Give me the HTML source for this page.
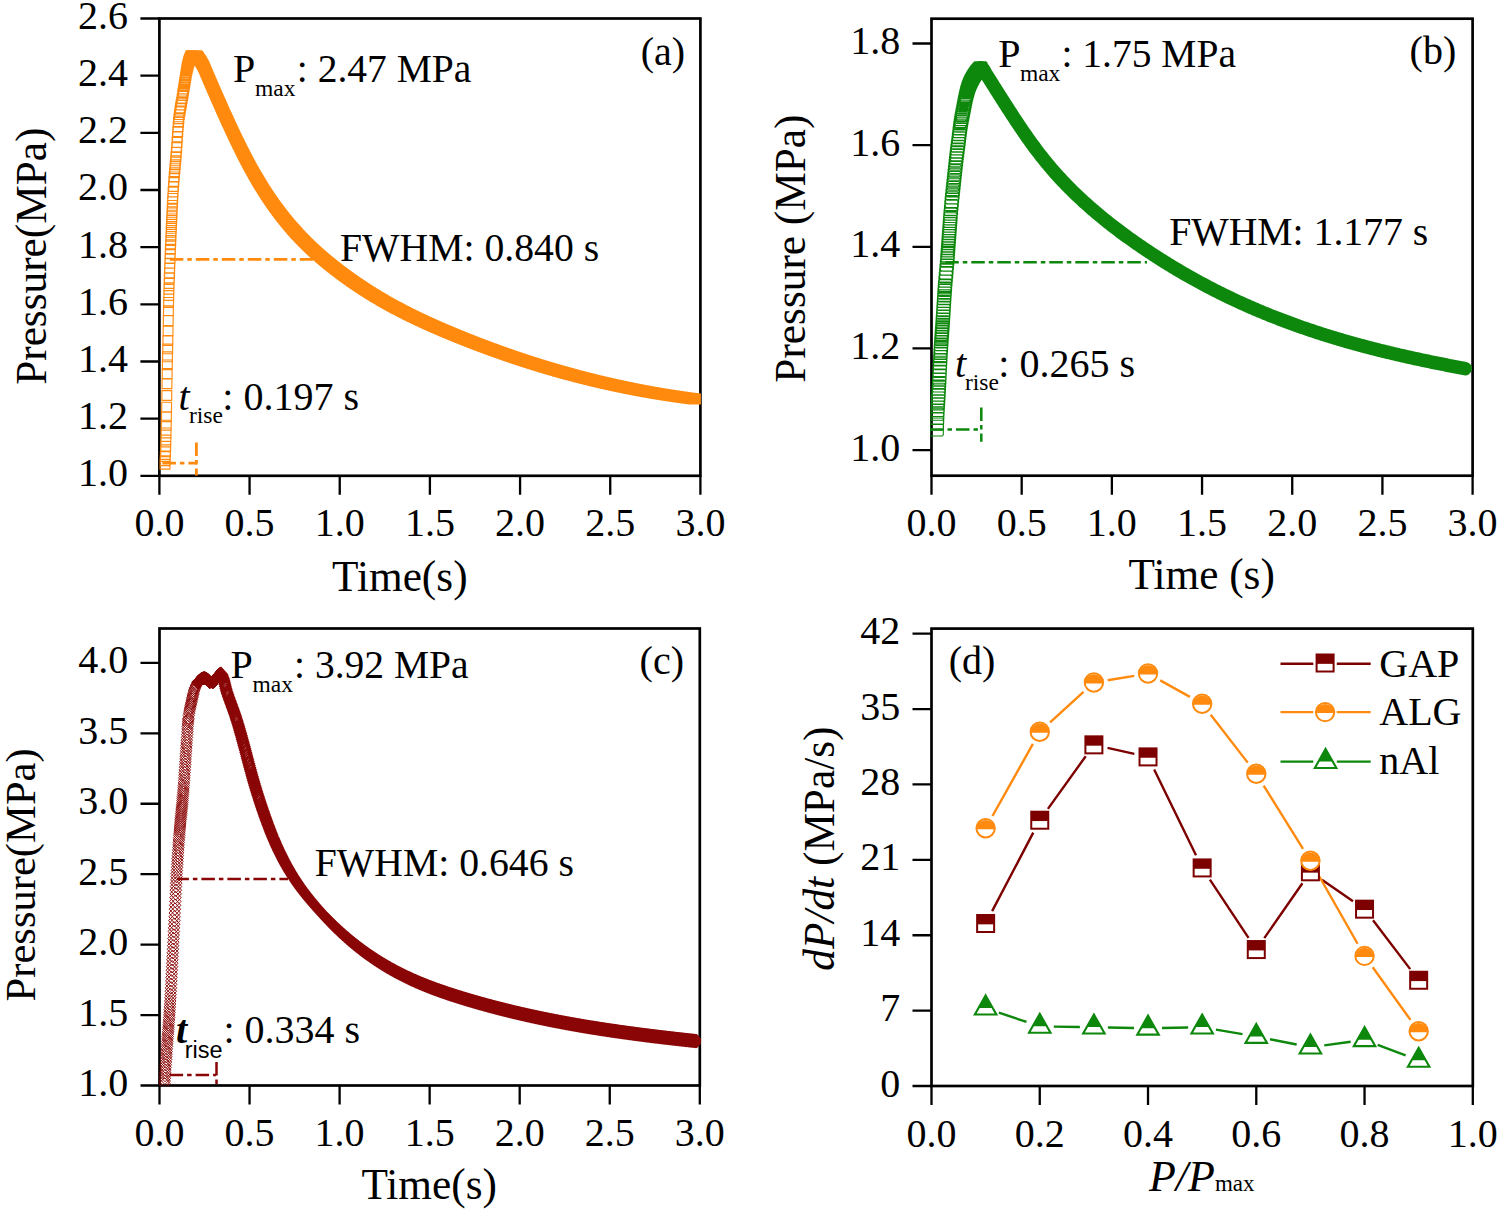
<!DOCTYPE html>
<html><head><meta charset="utf-8"><style>
html,body{margin:0;padding:0;background:#fff;}
svg{display:block;}
text{fill:#000;}
</style></head><body>
<svg width="1498" height="1210" viewBox="0 0 1498 1210" font-family='"Liberation Serif", serif'>
<rect width="1498" height="1210" fill="#fff"/>
<rect x="159.4" y="18.5" width="541" height="457.3" fill="none" stroke="#000" stroke-width="2.7"/>
<path d="M159.4 475.8v19M249.57 475.8v19M339.73 475.8v19M429.9 475.8v19M520.07 475.8v19M610.23 475.8v19M700.4 475.8v19M159.4 475.8h-19M159.4 418.64h-19M159.4 361.48h-19M159.4 304.31h-19M159.4 247.15h-19M159.4 189.99h-19M159.4 132.82h-19M159.4 75.66h-19M159.4 18.5h-19" stroke="#000" stroke-width="2.3" fill="none"/>
<text x="159.4" y="536.4" font-size="40" text-anchor="middle" >0.0</text>
<text x="249.57" y="536.4" font-size="40" text-anchor="middle" >0.5</text>
<text x="339.73" y="536.4" font-size="40" text-anchor="middle" >1.0</text>
<text x="429.9" y="536.4" font-size="40" text-anchor="middle" >1.5</text>
<text x="520.07" y="536.4" font-size="40" text-anchor="middle" >2.0</text>
<text x="610.23" y="536.4" font-size="40" text-anchor="middle" >2.5</text>
<text x="700.4" y="536.4" font-size="40" text-anchor="middle" >3.0</text>
<text x="128.1" y="486.3" font-size="40" text-anchor="end" >1.0</text>
<text x="128.1" y="429.14" font-size="40" text-anchor="end" >1.2</text>
<text x="128.1" y="371.98" font-size="40" text-anchor="end" >1.4</text>
<text x="128.1" y="314.81" font-size="40" text-anchor="end" >1.6</text>
<text x="128.1" y="257.65" font-size="40" text-anchor="end" >1.8</text>
<text x="128.1" y="200.49" font-size="40" text-anchor="end" >2.0</text>
<text x="128.1" y="143.32" font-size="40" text-anchor="end" >2.2</text>
<text x="128.1" y="86.16" font-size="40" text-anchor="end" >2.4</text>
<text x="128.1" y="29" font-size="40" text-anchor="end" >2.6</text>
<rect x="931.5" y="18.7" width="541.1" height="457" fill="none" stroke="#000" stroke-width="2.7"/>
<path d="M931.5 475.7v19M1021.68 475.7v19M1111.87 475.7v19M1202.05 475.7v19M1292.23 475.7v19M1382.42 475.7v19M1472.6 475.7v19M931.5 450.1h-19M931.5 348.45h-19M931.5 246.8h-19M931.5 145.15h-19M931.5 43.5h-19" stroke="#000" stroke-width="2.3" fill="none"/>
<text x="931.5" y="536.3" font-size="40" text-anchor="middle" >0.0</text>
<text x="1021.68" y="536.3" font-size="40" text-anchor="middle" >0.5</text>
<text x="1111.87" y="536.3" font-size="40" text-anchor="middle" >1.0</text>
<text x="1202.05" y="536.3" font-size="40" text-anchor="middle" >1.5</text>
<text x="1292.23" y="536.3" font-size="40" text-anchor="middle" >2.0</text>
<text x="1382.42" y="536.3" font-size="40" text-anchor="middle" >2.5</text>
<text x="1472.6" y="536.3" font-size="40" text-anchor="middle" >3.0</text>
<text x="900.2" y="460.6" font-size="40" text-anchor="end" >1.0</text>
<text x="900.2" y="358.95" font-size="40" text-anchor="end" >1.2</text>
<text x="900.2" y="257.3" font-size="40" text-anchor="end" >1.4</text>
<text x="900.2" y="155.65" font-size="40" text-anchor="end" >1.6</text>
<text x="900.2" y="54" font-size="40" text-anchor="end" >1.8</text>
<rect x="159.5" y="628.5" width="540.3" height="457" fill="none" stroke="#000" stroke-width="2.7"/>
<path d="M159.5 1085.5v19M249.55 1085.5v19M339.6 1085.5v19M429.65 1085.5v19M519.7 1085.5v19M609.75 1085.5v19M699.8 1085.5v19M159.5 1085.5h-19M159.5 1015.07h-19M159.5 944.63h-19M159.5 874.2h-19M159.5 803.77h-19M159.5 733.33h-19M159.5 662.9h-19" stroke="#000" stroke-width="2.3" fill="none"/>
<text x="159.5" y="1146.1" font-size="40" text-anchor="middle" >0.0</text>
<text x="249.55" y="1146.1" font-size="40" text-anchor="middle" >0.5</text>
<text x="339.6" y="1146.1" font-size="40" text-anchor="middle" >1.0</text>
<text x="429.65" y="1146.1" font-size="40" text-anchor="middle" >1.5</text>
<text x="519.7" y="1146.1" font-size="40" text-anchor="middle" >2.0</text>
<text x="609.75" y="1146.1" font-size="40" text-anchor="middle" >2.5</text>
<text x="699.8" y="1146.1" font-size="40" text-anchor="middle" >3.0</text>
<text x="128.2" y="1096" font-size="40" text-anchor="end" >1.0</text>
<text x="128.2" y="1025.57" font-size="40" text-anchor="end" >1.5</text>
<text x="128.2" y="955.13" font-size="40" text-anchor="end" >2.0</text>
<text x="128.2" y="884.7" font-size="40" text-anchor="end" >2.5</text>
<text x="128.2" y="814.27" font-size="40" text-anchor="end" >3.0</text>
<text x="128.2" y="743.83" font-size="40" text-anchor="end" >3.5</text>
<text x="128.2" y="673.4" font-size="40" text-anchor="end" >4.0</text>
<rect x="931.5" y="628.6" width="541.3" height="457.4" fill="none" stroke="#000" stroke-width="2.7"/>
<path d="M931.5 1086v19M1039.76 1086v19M1148.02 1086v19M1256.28 1086v19M1364.54 1086v19M1472.8 1086v19M931.5 1086h-19M931.5 1010.62h-19M931.5 935.23h-19M931.5 859.85h-19M931.5 784.47h-19M931.5 709.08h-19M931.5 633.7h-19" stroke="#000" stroke-width="2.3" fill="none"/>
<text x="931.5" y="1146.6" font-size="40" text-anchor="middle" >0.0</text>
<text x="1039.76" y="1146.6" font-size="40" text-anchor="middle" >0.2</text>
<text x="1148.02" y="1146.6" font-size="40" text-anchor="middle" >0.4</text>
<text x="1256.28" y="1146.6" font-size="40" text-anchor="middle" >0.6</text>
<text x="1364.54" y="1146.6" font-size="40" text-anchor="middle" >0.8</text>
<text x="1472.8" y="1146.6" font-size="40" text-anchor="middle" >1.0</text>
<text x="900.2" y="1096.5" font-size="40" text-anchor="end" >0</text>
<text x="900.2" y="1021.12" font-size="40" text-anchor="end" >7</text>
<text x="900.2" y="945.73" font-size="40" text-anchor="end" >14</text>
<text x="900.2" y="870.35" font-size="40" text-anchor="end" >21</text>
<text x="900.2" y="794.97" font-size="40" text-anchor="end" >28</text>
<text x="900.2" y="719.58" font-size="40" text-anchor="end" >35</text>
<text x="900.2" y="644.2" font-size="40" text-anchor="end" >42</text>
<defs>
<clipPath id="ca"><rect x="158.4" y="17.5" width="543" height="458.8"/></clipPath>
<clipPath id="cb"><rect x="930.5" y="17.7" width="543.1" height="458.5"/></clipPath>
<clipPath id="cc"><rect x="158.5" y="627.5" width="542.3" height="458.5"/></clipPath>
</defs>
<g clip-path="url(#ca)">
<path d="M160.1 459.3h9.8v9.8h-9.8zM160.28 455.84h9.8v9.8h-9.8zM160.46 451.65h9.8v9.8h-9.8zM160.64 446.83h9.8v9.8h-9.8zM160.82 441.39h9.8v9.8h-9.8zM161 435.1h9.8v9.8h-9.8zM161.18 428.04h9.8v9.8h-9.8zM161.36 420.26h9.8v9.8h-9.8zM161.54 411.84h9.8v9.8h-9.8zM161.72 402.27h9.8v9.8h-9.8zM161.9 390.65h9.8v9.8h-9.8zM162.08 378.81h9.8v9.8h-9.8zM162.26 368.67h9.8v9.8h-9.8zM162.44 359.98h9.8v9.8h-9.8zM162.62 351.94h9.8v9.8h-9.8zM162.8 343.99h9.8v9.8h-9.8zM162.98 335.59h9.8v9.8h-9.8zM163.16 326.08h9.8v9.8h-9.8zM163.34 315.78h9.8v9.8h-9.8zM163.52 305.87h9.8v9.8h-9.8zM163.7 297.5h9.8v9.8h-9.8zM163.88 290.62h9.8v9.8h-9.8zM164.06 284.34h9.8v9.8h-9.8zM164.24 278.54h9.8v9.8h-9.8zM164.42 273.14h9.8v9.8h-9.8zM164.6 268.04h9.8v9.8h-9.8zM164.78 263.13h9.8v9.8h-9.8zM164.96 258.33h9.8v9.8h-9.8zM165.14 253.53h9.8v9.8h-9.8zM165.32 248.84h9.8v9.8h-9.8zM165.5 244.3h9.8v9.8h-9.8zM165.68 239.9h9.8v9.8h-9.8zM165.86 235.63h9.8v9.8h-9.8zM166.04 231.47h9.8v9.8h-9.8zM166.22 227.41h9.8v9.8h-9.8zM166.4 223.43h9.8v9.8h-9.8zM166.58 219.53h9.8v9.8h-9.8zM166.76 215.66h9.8v9.8h-9.8zM166.94 211.79h9.8v9.8h-9.8zM167.12 207.96h9.8v9.8h-9.8zM167.3 204.18h9.8v9.8h-9.8zM167.48 200.49h9.8v9.8h-9.8zM167.66 196.91h9.8v9.8h-9.8zM167.84 193.46h9.8v9.8h-9.8zM168.2 187.08h9.8v9.8h-9.8zM168.56 181.53h9.8v9.8h-9.8zM168.92 176.56h9.8v9.8h-9.8zM169.28 172.03h9.8v9.8h-9.8zM169.64 167.81h9.8v9.8h-9.8zM170 163.79h9.8v9.8h-9.8zM170.36 159.86h9.8v9.8h-9.8zM170.72 155.9h9.8v9.8h-9.8zM171.08 151.81h9.8v9.8h-9.8zM171.44 147.46h9.8v9.8h-9.8zM171.8 142.67h9.8v9.8h-9.8zM172.16 137.44h9.8v9.8h-9.8zM172.52 132.02h9.8v9.8h-9.8zM172.88 126.68h9.8v9.8h-9.8zM173.24 121.7h9.8v9.8h-9.8zM173.6 117.35h9.8v9.8h-9.8zM173.96 113.89h9.8v9.8h-9.8zM174.5 109.72h9.8v9.8h-9.8zM175.04 106.19h9.8v9.8h-9.8zM175.58 103.08h9.8v9.8h-9.8zM176.12 100.16h9.8v9.8h-9.8zM176.66 97.2h9.8v9.8h-9.8zM177.2 93.98h9.8v9.8h-9.8zM177.74 90.64h9.8v9.8h-9.8zM178.1 88.41h9.8v9.8h-9.8zM178.46 86.18h9.8v9.8h-9.8zM178.82 83.96h9.8v9.8h-9.8zM179.18 81.72h9.8v9.8h-9.8zM179.54 79.48h9.8v9.8h-9.8zM179.9 77.25h9.8v9.8h-9.8zM180.26 75.05h9.8v9.8h-9.8zM180.62 72.87h9.8v9.8h-9.8zM180.98 70.64h9.8v9.8h-9.8zM181.34 68.39h9.8v9.8h-9.8zM181.7 66.23h9.8v9.8h-9.8zM181.88 65.22h9.8v9.8h-9.8zM182.06 64.26h9.8v9.8h-9.8zM182.24 63.38h9.8v9.8h-9.8zM182.42 62.56h9.8v9.8h-9.8zM182.6 61.77h9.8v9.8h-9.8zM182.78 61h9.8v9.8h-9.8zM182.96 60.25h9.8v9.8h-9.8zM183.14 59.53h9.8v9.8h-9.8zM183.32 58.84h9.8v9.8h-9.8zM183.5 58.18h9.8v9.8h-9.8zM183.68 57.55h9.8v9.8h-9.8zM183.86 56.95h9.8v9.8h-9.8zM184.04 56.4h9.8v9.8h-9.8zM184.22 55.88h9.8v9.8h-9.8zM184.4 55.4h9.8v9.8h-9.8zM184.58 54.94h9.8v9.8h-9.8zM184.76 54.46h9.8v9.8h-9.8zM184.94 53.98h9.8v9.8h-9.8zM185.12 53.51h9.8v9.8h-9.8zM185.3 53.05h9.8v9.8h-9.8zM185.48 52.62h9.8v9.8h-9.8zM185.66 52.21h9.8v9.8h-9.8zM185.84 51.84h9.8v9.8h-9.8zM186.02 51.51h9.8v9.8h-9.8zM186.2 51.23h9.8v9.8h-9.8zM186.38 51.02h9.8v9.8h-9.8zM186.56 50.87h9.8v9.8h-9.8zM186.74 50.8h9.8v9.8h-9.8zM186.92 50.8h9.8v9.8h-9.8z" fill="none" stroke="#ff8a0e" stroke-width="1.15"/>
<path d="M186.92 50.8h9.8v9.8h-9.8zM187.37 50.8h9.8v9.8h-9.8zM187.82 50.8h9.8v9.8h-9.8zM188.27 50.8h9.8v9.8h-9.8zM188.72 50.8h9.8v9.8h-9.8zM189.17 50.8h9.8v9.8h-9.8zM189.62 50.8h9.8v9.8h-9.8zM190.07 50.8h9.8v9.8h-9.8zM190.52 50.8h9.8v9.8h-9.8zM190.97 50.8h9.8v9.8h-9.8zM191.42 50.81h9.8v9.8h-9.8zM191.87 50.99h9.8v9.8h-9.8zM192.32 51.37h9.8v9.8h-9.8zM192.77 51.9h9.8v9.8h-9.8zM193.22 52.53h9.8v9.8h-9.8zM193.67 53.22h9.8v9.8h-9.8zM194.12 53.91h9.8v9.8h-9.8zM194.57 54.56h9.8v9.8h-9.8zM195.02 55.18h9.8v9.8h-9.8zM195.47 55.84h9.8v9.8h-9.8zM195.92 56.52h9.8v9.8h-9.8zM196.37 57.24h9.8v9.8h-9.8zM196.82 57.99h9.8v9.8h-9.8zM197.27 58.77h9.8v9.8h-9.8zM197.72 59.58h9.8v9.8h-9.8zM198.17 60.42h9.8v9.8h-9.8zM198.62 61.29h9.8v9.8h-9.8zM199.07 62.22h9.8v9.8h-9.8zM199.52 63.23h9.8v9.8h-9.8zM199.97 64.29h9.8v9.8h-9.8zM200.42 65.39h9.8v9.8h-9.8zM200.87 66.49h9.8v9.8h-9.8zM201.32 67.58h9.8v9.8h-9.8zM201.77 68.64h9.8v9.8h-9.8zM202.22 69.69h9.8v9.8h-9.8zM202.67 70.73h9.8v9.8h-9.8zM203.12 71.78h9.8v9.8h-9.8zM203.57 72.83h9.8v9.8h-9.8zM204.02 73.87h9.8v9.8h-9.8zM204.47 74.92h9.8v9.8h-9.8zM204.92 75.96h9.8v9.8h-9.8zM205.37 77h9.8v9.8h-9.8zM205.82 78.04h9.8v9.8h-9.8zM206.27 79.09h9.8v9.8h-9.8zM206.72 80.13h9.8v9.8h-9.8zM207.17 81.17h9.8v9.8h-9.8zM207.62 82.21h9.8v9.8h-9.8zM208.07 83.24h9.8v9.8h-9.8zM208.52 84.28h9.8v9.8h-9.8zM208.97 85.32h9.8v9.8h-9.8zM209.42 86.35h9.8v9.8h-9.8zM209.87 87.38h9.8v9.8h-9.8zM210.32 88.42h9.8v9.8h-9.8zM210.77 89.45h9.8v9.8h-9.8zM211.22 90.48h9.8v9.8h-9.8zM211.67 91.5h9.8v9.8h-9.8zM212.12 92.53h9.8v9.8h-9.8zM212.57 93.56h9.8v9.8h-9.8zM213.02 94.58h9.8v9.8h-9.8zM213.47 95.61h9.8v9.8h-9.8zM213.92 96.63h9.8v9.8h-9.8zM214.37 97.65h9.8v9.8h-9.8zM214.82 98.67h9.8v9.8h-9.8zM215.27 99.68h9.8v9.8h-9.8zM215.72 100.7h9.8v9.8h-9.8zM216.17 101.71h9.8v9.8h-9.8zM216.62 102.72h9.8v9.8h-9.8zM217.07 103.73h9.8v9.8h-9.8zM217.52 104.74h9.8v9.8h-9.8zM217.97 105.75h9.8v9.8h-9.8zM218.42 106.75h9.8v9.8h-9.8zM218.87 107.76h9.8v9.8h-9.8zM219.32 108.76h9.8v9.8h-9.8zM219.77 109.76h9.8v9.8h-9.8zM220.22 110.76h9.8v9.8h-9.8zM220.67 111.75h9.8v9.8h-9.8zM221.12 112.74h9.8v9.8h-9.8zM221.57 113.74h9.8v9.8h-9.8zM222.02 114.72h9.8v9.8h-9.8zM222.47 115.71h9.8v9.8h-9.8zM222.92 116.7h9.8v9.8h-9.8zM223.37 117.68h9.8v9.8h-9.8zM223.82 118.66h9.8v9.8h-9.8zM224.27 119.64h9.8v9.8h-9.8zM224.72 120.61h9.8v9.8h-9.8zM225.17 121.58h9.8v9.8h-9.8zM225.62 122.55h9.8v9.8h-9.8zM226.07 123.52h9.8v9.8h-9.8zM226.52 124.49h9.8v9.8h-9.8zM226.97 125.45h9.8v9.8h-9.8zM227.42 126.41h9.8v9.8h-9.8zM227.87 127.37h9.8v9.8h-9.8zM228.32 128.33h9.8v9.8h-9.8zM228.77 129.28h9.8v9.8h-9.8zM229.22 130.23h9.8v9.8h-9.8zM229.67 131.17h9.8v9.8h-9.8zM230.12 132.12h9.8v9.8h-9.8zM230.57 133.06h9.8v9.8h-9.8zM231.02 134h9.8v9.8h-9.8zM231.47 134.93h9.8v9.8h-9.8zM231.92 135.87h9.8v9.8h-9.8zM232.37 136.8h9.8v9.8h-9.8zM232.82 137.72h9.8v9.8h-9.8zM233.27 138.65h9.8v9.8h-9.8zM233.72 139.57h9.8v9.8h-9.8zM234.17 140.49h9.8v9.8h-9.8zM234.62 141.4h9.8v9.8h-9.8zM235.07 142.31h9.8v9.8h-9.8zM235.52 143.22h9.8v9.8h-9.8zM235.97 144.12h9.8v9.8h-9.8zM236.42 145.02h9.8v9.8h-9.8zM236.87 145.92h9.8v9.8h-9.8zM237.32 146.82h9.8v9.8h-9.8zM237.77 147.71h9.8v9.8h-9.8zM238.22 148.6h9.8v9.8h-9.8zM238.67 149.48h9.8v9.8h-9.8zM239.12 150.36h9.8v9.8h-9.8zM239.57 151.24h9.8v9.8h-9.8zM240.02 152.11h9.8v9.8h-9.8zM240.47 152.98h9.8v9.8h-9.8zM240.92 153.85h9.8v9.8h-9.8zM241.37 154.71h9.8v9.8h-9.8zM241.82 155.57h9.8v9.8h-9.8zM242.27 156.42h9.8v9.8h-9.8zM242.72 157.27h9.8v9.8h-9.8zM243.17 158.12h9.8v9.8h-9.8zM243.62 158.96h9.8v9.8h-9.8zM244.07 159.8h9.8v9.8h-9.8zM244.52 160.64h9.8v9.8h-9.8zM244.97 161.47h9.8v9.8h-9.8zM245.42 162.29h9.8v9.8h-9.8zM245.87 163.12h9.8v9.8h-9.8zM246.32 163.94h9.8v9.8h-9.8zM246.77 164.75h9.8v9.8h-9.8zM247.22 165.56h9.8v9.8h-9.8zM247.67 166.37h9.8v9.8h-9.8zM248.12 167.17h9.8v9.8h-9.8zM248.57 167.97h9.8v9.8h-9.8zM249.02 168.76h9.8v9.8h-9.8zM249.47 169.55h9.8v9.8h-9.8zM249.92 170.34h9.8v9.8h-9.8zM250.37 171.12h9.8v9.8h-9.8zM250.82 171.9h9.8v9.8h-9.8zM251.27 172.68h9.8v9.8h-9.8zM251.72 173.45h9.8v9.8h-9.8zM252.17 174.21h9.8v9.8h-9.8zM252.62 174.98h9.8v9.8h-9.8zM253.07 175.74h9.8v9.8h-9.8zM253.52 176.49h9.8v9.8h-9.8zM253.97 177.24h9.8v9.8h-9.8zM254.42 177.99h9.8v9.8h-9.8zM254.87 178.74h9.8v9.8h-9.8zM255.32 179.48h9.8v9.8h-9.8zM255.77 180.21h9.8v9.8h-9.8zM256.22 180.94h9.8v9.8h-9.8zM256.67 181.67h9.8v9.8h-9.8zM257.12 182.4h9.8v9.8h-9.8zM257.57 183.12h9.8v9.8h-9.8zM258.02 183.84h9.8v9.8h-9.8zM258.47 184.55h9.8v9.8h-9.8zM258.92 185.26h9.8v9.8h-9.8zM259.37 185.97h9.8v9.8h-9.8zM259.82 186.67h9.8v9.8h-9.8zM260.27 187.37h9.8v9.8h-9.8zM260.72 188.07h9.8v9.8h-9.8zM261.17 188.76h9.8v9.8h-9.8zM261.62 189.45h9.8v9.8h-9.8zM262.07 190.14h9.8v9.8h-9.8zM262.52 190.82h9.8v9.8h-9.8zM262.97 191.5h9.8v9.8h-9.8zM263.42 192.17h9.8v9.8h-9.8zM263.87 192.84h9.8v9.8h-9.8zM264.32 193.51h9.8v9.8h-9.8zM264.77 194.18h9.8v9.8h-9.8zM265.22 194.84h9.8v9.8h-9.8zM265.67 195.5h9.8v9.8h-9.8zM266.12 196.15h9.8v9.8h-9.8zM266.57 196.8h9.8v9.8h-9.8zM267.02 197.45h9.8v9.8h-9.8zM267.47 198.09h9.8v9.8h-9.8zM267.92 198.74h9.8v9.8h-9.8zM268.37 199.37h9.8v9.8h-9.8zM268.82 200.01h9.8v9.8h-9.8zM269.27 200.64h9.8v9.8h-9.8zM269.72 201.27h9.8v9.8h-9.8zM270.17 201.89h9.8v9.8h-9.8zM270.62 202.52h9.8v9.8h-9.8zM271.07 203.14h9.8v9.8h-9.8zM271.52 203.75h9.8v9.8h-9.8zM271.97 204.36h9.8v9.8h-9.8zM272.42 204.97h9.8v9.8h-9.8zM272.87 205.58h9.8v9.8h-9.8zM273.32 206.18h9.8v9.8h-9.8zM273.77 206.78h9.8v9.8h-9.8zM274.22 207.38h9.8v9.8h-9.8zM274.67 207.97h9.8v9.8h-9.8zM275.12 208.57h9.8v9.8h-9.8zM275.57 209.15h9.8v9.8h-9.8zM276.02 209.74h9.8v9.8h-9.8zM276.47 210.32h9.8v9.8h-9.8zM276.92 210.9h9.8v9.8h-9.8zM277.37 211.48h9.8v9.8h-9.8zM277.82 212.05h9.8v9.8h-9.8zM278.27 212.62h9.8v9.8h-9.8zM278.72 213.19h9.8v9.8h-9.8zM279.17 213.75h9.8v9.8h-9.8zM279.62 214.31h9.8v9.8h-9.8zM280.07 214.87h9.8v9.8h-9.8zM280.52 215.43h9.8v9.8h-9.8zM280.97 215.98h9.8v9.8h-9.8zM281.42 216.53h9.8v9.8h-9.8zM281.87 217.08h9.8v9.8h-9.8zM282.32 217.63h9.8v9.8h-9.8zM282.77 218.17h9.8v9.8h-9.8zM283.22 218.71h9.8v9.8h-9.8zM283.67 219.25h9.8v9.8h-9.8zM284.12 219.78h9.8v9.8h-9.8zM284.57 220.31h9.8v9.8h-9.8zM285.02 220.84h9.8v9.8h-9.8zM285.47 221.37h9.8v9.8h-9.8zM285.92 221.89h9.8v9.8h-9.8zM286.37 222.41h9.8v9.8h-9.8zM286.82 222.93h9.8v9.8h-9.8zM287.27 223.45h9.8v9.8h-9.8zM287.72 223.96h9.8v9.8h-9.8zM288.17 224.47h9.8v9.8h-9.8zM288.62 224.98h9.8v9.8h-9.8zM289.07 225.49h9.8v9.8h-9.8zM289.52 225.99h9.8v9.8h-9.8zM289.97 226.49h9.8v9.8h-9.8zM290.42 226.99h9.8v9.8h-9.8zM290.87 227.49h9.8v9.8h-9.8zM291.32 227.98h9.8v9.8h-9.8zM291.77 228.47h9.8v9.8h-9.8zM292.22 228.96h9.8v9.8h-9.8zM292.67 229.45h9.8v9.8h-9.8zM293.12 229.93h9.8v9.8h-9.8zM293.57 230.42h9.8v9.8h-9.8zM294.02 230.9h9.8v9.8h-9.8zM294.47 231.37h9.8v9.8h-9.8zM294.92 231.85h9.8v9.8h-9.8zM295.37 232.32h9.8v9.8h-9.8zM295.82 232.79h9.8v9.8h-9.8zM296.27 233.26h9.8v9.8h-9.8zM296.72 233.73h9.8v9.8h-9.8zM297.17 234.19h9.8v9.8h-9.8zM297.62 234.66h9.8v9.8h-9.8zM298.07 235.12h9.8v9.8h-9.8zM298.52 235.57h9.8v9.8h-9.8zM298.97 236.03h9.8v9.8h-9.8zM299.42 236.48h9.8v9.8h-9.8zM299.87 236.94h9.8v9.8h-9.8zM300.32 237.39h9.8v9.8h-9.8zM300.77 237.83h9.8v9.8h-9.8zM301.22 238.28h9.8v9.8h-9.8zM301.67 238.72h9.8v9.8h-9.8zM302.12 239.16h9.8v9.8h-9.8zM302.57 239.6h9.8v9.8h-9.8zM303.02 240.04h9.8v9.8h-9.8zM303.47 240.48h9.8v9.8h-9.8zM303.92 240.91h9.8v9.8h-9.8zM304.37 241.34h9.8v9.8h-9.8zM304.82 241.77h9.8v9.8h-9.8zM305.27 242.2h9.8v9.8h-9.8zM305.72 242.63h9.8v9.8h-9.8zM306.17 243.05h9.8v9.8h-9.8zM306.62 243.47h9.8v9.8h-9.8zM307.07 243.9h9.8v9.8h-9.8zM307.52 244.31h9.8v9.8h-9.8zM307.97 244.73h9.8v9.8h-9.8zM308.42 245.15h9.8v9.8h-9.8zM308.87 245.56h9.8v9.8h-9.8zM309.32 245.97h9.8v9.8h-9.8zM309.77 246.38h9.8v9.8h-9.8zM310.22 246.79h9.8v9.8h-9.8zM310.67 247.2h9.8v9.8h-9.8zM311.12 247.61h9.8v9.8h-9.8zM311.57 248.01h9.8v9.8h-9.8zM312.02 248.41h9.8v9.8h-9.8zM312.47 248.81h9.8v9.8h-9.8zM312.92 249.21h9.8v9.8h-9.8zM313.37 249.61h9.8v9.8h-9.8zM313.82 250.01h9.8v9.8h-9.8zM314.27 250.4h9.8v9.8h-9.8zM314.72 250.79h9.8v9.8h-9.8zM315.17 251.18h9.8v9.8h-9.8zM315.62 251.57h9.8v9.8h-9.8zM316.07 251.96h9.8v9.8h-9.8zM316.52 252.35h9.8v9.8h-9.8zM316.97 252.74h9.8v9.8h-9.8zM317.42 253.12h9.8v9.8h-9.8zM317.87 253.5h9.8v9.8h-9.8zM318.32 253.88h9.8v9.8h-9.8zM318.77 254.26h9.8v9.8h-9.8zM319.22 254.64h9.8v9.8h-9.8zM319.67 255.02h9.8v9.8h-9.8zM320.12 255.4h9.8v9.8h-9.8zM320.57 255.77h9.8v9.8h-9.8zM321.02 256.15h9.8v9.8h-9.8zM321.47 256.52h9.8v9.8h-9.8zM321.92 256.89h9.8v9.8h-9.8zM322.37 257.26h9.8v9.8h-9.8zM322.82 257.63h9.8v9.8h-9.8zM323.27 258h9.8v9.8h-9.8zM323.72 258.36h9.8v9.8h-9.8zM324.17 258.73h9.8v9.8h-9.8zM324.62 259.09h9.8v9.8h-9.8zM325.07 259.46h9.8v9.8h-9.8zM325.52 259.82h9.8v9.8h-9.8zM325.97 260.18h9.8v9.8h-9.8zM326.42 260.54h9.8v9.8h-9.8zM326.87 260.9h9.8v9.8h-9.8zM327.32 261.26h9.8v9.8h-9.8zM327.77 261.61h9.8v9.8h-9.8zM328.22 261.97h9.8v9.8h-9.8zM328.67 262.32h9.8v9.8h-9.8zM329.12 262.68h9.8v9.8h-9.8zM329.57 263.03h9.8v9.8h-9.8zM330.02 263.38h9.8v9.8h-9.8zM330.47 263.73h9.8v9.8h-9.8zM330.92 264.08h9.8v9.8h-9.8zM331.37 264.43h9.8v9.8h-9.8zM331.82 264.78h9.8v9.8h-9.8zM332.27 265.13h9.8v9.8h-9.8zM332.72 265.47h9.8v9.8h-9.8zM333.17 265.82h9.8v9.8h-9.8zM333.62 266.16h9.8v9.8h-9.8zM334.07 266.5h9.8v9.8h-9.8zM334.52 266.84h9.8v9.8h-9.8zM334.97 267.18h9.8v9.8h-9.8zM335.42 267.52h9.8v9.8h-9.8zM335.87 267.86h9.8v9.8h-9.8zM336.32 268.2h9.8v9.8h-9.8zM336.77 268.54h9.8v9.8h-9.8zM337.22 268.87h9.8v9.8h-9.8zM337.67 269.21h9.8v9.8h-9.8zM338.12 269.54h9.8v9.8h-9.8zM338.57 269.88h9.8v9.8h-9.8zM339.02 270.21h9.8v9.8h-9.8zM339.47 270.54h9.8v9.8h-9.8zM339.92 270.87h9.8v9.8h-9.8zM340.37 271.2h9.8v9.8h-9.8zM340.82 271.53h9.8v9.8h-9.8zM341.27 271.85h9.8v9.8h-9.8zM341.72 272.18h9.8v9.8h-9.8zM342.17 272.5h9.8v9.8h-9.8zM342.62 272.83h9.8v9.8h-9.8zM343.07 273.15h9.8v9.8h-9.8zM343.52 273.47h9.8v9.8h-9.8zM343.97 273.8h9.8v9.8h-9.8zM344.42 274.12h9.8v9.8h-9.8zM344.87 274.44h9.8v9.8h-9.8zM345.32 274.76h9.8v9.8h-9.8zM345.77 275.07h9.8v9.8h-9.8zM346.22 275.39h9.8v9.8h-9.8zM346.67 275.71h9.8v9.8h-9.8zM347.12 276.02h9.8v9.8h-9.8zM347.57 276.34h9.8v9.8h-9.8zM348.02 276.65h9.8v9.8h-9.8zM348.47 276.96h9.8v9.8h-9.8zM348.92 277.27h9.8v9.8h-9.8zM349.37 277.58h9.8v9.8h-9.8zM349.82 277.89h9.8v9.8h-9.8zM350.27 278.2h9.8v9.8h-9.8zM350.72 278.51h9.8v9.8h-9.8zM351.17 278.82h9.8v9.8h-9.8zM351.62 279.12h9.8v9.8h-9.8zM352.07 279.43h9.8v9.8h-9.8zM352.52 279.73h9.8v9.8h-9.8zM352.97 280.04h9.8v9.8h-9.8zM353.42 280.34h9.8v9.8h-9.8zM353.87 280.64h9.8v9.8h-9.8zM354.32 280.94h9.8v9.8h-9.8zM354.77 281.24h9.8v9.8h-9.8zM355.22 281.54h9.8v9.8h-9.8zM355.67 281.84h9.8v9.8h-9.8zM356.12 282.14h9.8v9.8h-9.8zM356.57 282.44h9.8v9.8h-9.8zM357.02 282.73h9.8v9.8h-9.8zM357.47 283.03h9.8v9.8h-9.8zM357.92 283.32h9.8v9.8h-9.8zM358.37 283.61h9.8v9.8h-9.8zM358.82 283.91h9.8v9.8h-9.8zM359.27 284.2h9.8v9.8h-9.8zM359.72 284.49h9.8v9.8h-9.8zM360.17 284.78h9.8v9.8h-9.8zM360.62 285.07h9.8v9.8h-9.8zM361.07 285.36h9.8v9.8h-9.8zM361.52 285.65h9.8v9.8h-9.8zM361.97 285.93h9.8v9.8h-9.8zM362.42 286.22h9.8v9.8h-9.8zM362.87 286.5h9.8v9.8h-9.8zM363.32 286.79h9.8v9.8h-9.8zM363.77 287.07h9.8v9.8h-9.8zM364.22 287.36h9.8v9.8h-9.8zM364.67 287.64h9.8v9.8h-9.8zM365.12 287.92h9.8v9.8h-9.8zM365.57 288.2h9.8v9.8h-9.8zM366.02 288.48h9.8v9.8h-9.8zM366.47 288.76h9.8v9.8h-9.8zM366.92 289.04h9.8v9.8h-9.8zM367.37 289.31h9.8v9.8h-9.8zM367.82 289.59h9.8v9.8h-9.8zM368.27 289.87h9.8v9.8h-9.8zM368.72 290.14h9.8v9.8h-9.8zM369.17 290.42h9.8v9.8h-9.8zM369.62 290.69h9.8v9.8h-9.8zM370.07 290.96h9.8v9.8h-9.8zM370.52 291.23h9.8v9.8h-9.8zM370.97 291.5h9.8v9.8h-9.8zM371.42 291.78h9.8v9.8h-9.8zM371.87 292.05h9.8v9.8h-9.8zM372.32 292.31h9.8v9.8h-9.8zM372.77 292.58h9.8v9.8h-9.8zM373.22 292.85h9.8v9.8h-9.8zM373.67 293.12h9.8v9.8h-9.8zM374.12 293.38h9.8v9.8h-9.8zM374.57 293.65h9.8v9.8h-9.8zM375.02 293.91h9.8v9.8h-9.8zM375.47 294.18h9.8v9.8h-9.8zM375.92 294.44h9.8v9.8h-9.8zM376.37 294.7h9.8v9.8h-9.8zM376.82 294.96h9.8v9.8h-9.8zM377.27 295.23h9.8v9.8h-9.8zM377.72 295.49h9.8v9.8h-9.8zM378.17 295.75h9.8v9.8h-9.8zM378.62 296h9.8v9.8h-9.8zM379.07 296.26h9.8v9.8h-9.8zM379.52 296.52h9.8v9.8h-9.8zM379.97 296.78h9.8v9.8h-9.8zM380.42 297.03h9.8v9.8h-9.8zM380.87 297.29h9.8v9.8h-9.8zM381.32 297.54h9.8v9.8h-9.8zM381.77 297.8h9.8v9.8h-9.8zM382.22 298.05h9.8v9.8h-9.8zM382.67 298.3h9.8v9.8h-9.8zM383.12 298.56h9.8v9.8h-9.8zM383.57 298.81h9.8v9.8h-9.8zM384.02 299.06h9.8v9.8h-9.8zM384.47 299.31h9.8v9.8h-9.8zM384.92 299.56h9.8v9.8h-9.8zM385.37 299.81h9.8v9.8h-9.8zM385.82 300.06h9.8v9.8h-9.8zM386.27 300.3h9.8v9.8h-9.8zM386.72 300.55h9.8v9.8h-9.8zM387.17 300.8h9.8v9.8h-9.8zM387.62 301.04h9.8v9.8h-9.8zM388.07 301.29h9.8v9.8h-9.8zM388.52 301.53h9.8v9.8h-9.8zM388.97 301.77h9.8v9.8h-9.8zM389.42 302.02h9.8v9.8h-9.8zM389.87 302.26h9.8v9.8h-9.8zM390.32 302.5h9.8v9.8h-9.8zM390.77 302.74h9.8v9.8h-9.8zM391.22 302.98h9.8v9.8h-9.8zM391.67 303.22h9.8v9.8h-9.8zM392.12 303.46h9.8v9.8h-9.8zM392.57 303.7h9.8v9.8h-9.8zM393.02 303.94h9.8v9.8h-9.8zM393.47 304.18h9.8v9.8h-9.8zM393.92 304.41h9.8v9.8h-9.8zM394.37 304.65h9.8v9.8h-9.8zM394.82 304.89h9.8v9.8h-9.8zM395.27 305.12h9.8v9.8h-9.8zM395.72 305.35h9.8v9.8h-9.8zM396.17 305.59h9.8v9.8h-9.8zM396.62 305.82h9.8v9.8h-9.8zM397.07 306.05h9.8v9.8h-9.8zM397.52 306.29h9.8v9.8h-9.8zM397.97 306.52h9.8v9.8h-9.8zM398.42 306.75h9.8v9.8h-9.8zM398.87 306.98h9.8v9.8h-9.8zM399.32 307.21h9.8v9.8h-9.8zM399.77 307.44h9.8v9.8h-9.8zM400.22 307.67h9.8v9.8h-9.8zM400.67 307.9h9.8v9.8h-9.8zM401.12 308.12h9.8v9.8h-9.8zM401.57 308.35h9.8v9.8h-9.8zM402.02 308.58h9.8v9.8h-9.8zM402.47 308.8h9.8v9.8h-9.8zM402.92 309.03h9.8v9.8h-9.8zM403.37 309.25h9.8v9.8h-9.8zM403.82 309.48h9.8v9.8h-9.8zM404.27 309.7h9.8v9.8h-9.8zM404.72 309.93h9.8v9.8h-9.8zM405.17 310.15h9.8v9.8h-9.8zM405.62 310.37h9.8v9.8h-9.8zM406.07 310.59h9.8v9.8h-9.8zM406.52 310.81h9.8v9.8h-9.8zM406.97 311.03h9.8v9.8h-9.8zM407.42 311.25h9.8v9.8h-9.8zM407.87 311.47h9.8v9.8h-9.8zM408.32 311.69h9.8v9.8h-9.8zM408.77 311.91h9.8v9.8h-9.8zM409.22 312.13h9.8v9.8h-9.8zM409.67 312.35h9.8v9.8h-9.8zM410.12 312.56h9.8v9.8h-9.8zM410.57 312.78h9.8v9.8h-9.8zM411.02 313h9.8v9.8h-9.8zM411.47 313.21h9.8v9.8h-9.8zM411.92 313.43h9.8v9.8h-9.8zM412.37 313.64h9.8v9.8h-9.8zM412.82 313.86h9.8v9.8h-9.8zM413.27 314.07h9.8v9.8h-9.8zM413.72 314.28h9.8v9.8h-9.8zM414.17 314.5h9.8v9.8h-9.8zM414.62 314.71h9.8v9.8h-9.8zM415.07 314.92h9.8v9.8h-9.8zM415.52 315.13h9.8v9.8h-9.8zM415.97 315.34h9.8v9.8h-9.8zM416.42 315.56h9.8v9.8h-9.8zM416.87 315.77h9.8v9.8h-9.8zM417.32 315.97h9.8v9.8h-9.8zM417.77 316.18h9.8v9.8h-9.8zM418.22 316.39h9.8v9.8h-9.8zM418.67 316.6h9.8v9.8h-9.8zM419.12 316.81h9.8v9.8h-9.8zM419.57 317.02h9.8v9.8h-9.8zM420.02 317.22h9.8v9.8h-9.8zM420.47 317.43h9.8v9.8h-9.8zM420.92 317.64h9.8v9.8h-9.8zM421.37 317.84h9.8v9.8h-9.8zM421.82 318.05h9.8v9.8h-9.8zM422.27 318.25h9.8v9.8h-9.8zM422.72 318.46h9.8v9.8h-9.8zM423.17 318.66h9.8v9.8h-9.8zM423.62 318.86h9.8v9.8h-9.8zM424.07 319.07h9.8v9.8h-9.8zM424.52 319.27h9.8v9.8h-9.8zM424.97 319.47h9.8v9.8h-9.8zM425.42 319.68h9.8v9.8h-9.8zM425.87 319.88h9.8v9.8h-9.8zM426.32 320.08h9.8v9.8h-9.8zM426.77 320.28h9.8v9.8h-9.8zM427.22 320.48h9.8v9.8h-9.8zM427.67 320.68h9.8v9.8h-9.8zM428.12 320.88h9.8v9.8h-9.8zM428.57 321.08h9.8v9.8h-9.8zM429.02 321.28h9.8v9.8h-9.8zM429.47 321.48h9.8v9.8h-9.8zM429.92 321.67h9.8v9.8h-9.8zM430.37 321.87h9.8v9.8h-9.8zM430.82 322.07h9.8v9.8h-9.8zM431.27 322.27h9.8v9.8h-9.8zM431.72 322.46h9.8v9.8h-9.8zM432.17 322.66h9.8v9.8h-9.8zM432.62 322.86h9.8v9.8h-9.8zM433.07 323.05h9.8v9.8h-9.8zM433.52 323.25h9.8v9.8h-9.8zM433.97 323.44h9.8v9.8h-9.8zM434.42 323.64h9.8v9.8h-9.8zM434.87 323.83h9.8v9.8h-9.8zM435.32 324.03h9.8v9.8h-9.8zM435.77 324.22h9.8v9.8h-9.8zM436.22 324.41h9.8v9.8h-9.8zM436.67 324.61h9.8v9.8h-9.8zM437.12 324.8h9.8v9.8h-9.8zM437.57 324.99h9.8v9.8h-9.8zM438.02 325.18h9.8v9.8h-9.8zM438.47 325.38h9.8v9.8h-9.8zM438.92 325.57h9.8v9.8h-9.8zM439.37 325.76h9.8v9.8h-9.8zM439.82 325.95h9.8v9.8h-9.8zM440.27 326.14h9.8v9.8h-9.8zM440.72 326.33h9.8v9.8h-9.8zM441.17 326.52h9.8v9.8h-9.8zM441.62 326.71h9.8v9.8h-9.8zM442.07 326.9h9.8v9.8h-9.8zM442.52 327.09h9.8v9.8h-9.8zM442.97 327.28h9.8v9.8h-9.8zM443.42 327.47h9.8v9.8h-9.8zM443.87 327.66h9.8v9.8h-9.8zM444.32 327.84h9.8v9.8h-9.8zM444.77 328.03h9.8v9.8h-9.8zM445.22 328.22h9.8v9.8h-9.8zM445.67 328.41h9.8v9.8h-9.8zM446.12 328.59h9.8v9.8h-9.8zM446.57 328.78h9.8v9.8h-9.8zM447.02 328.97h9.8v9.8h-9.8zM447.47 329.15h9.8v9.8h-9.8zM447.92 329.34h9.8v9.8h-9.8zM448.37 329.53h9.8v9.8h-9.8zM448.82 329.71h9.8v9.8h-9.8zM449.27 329.9h9.8v9.8h-9.8zM449.72 330.08h9.8v9.8h-9.8zM450.17 330.27h9.8v9.8h-9.8zM450.62 330.45h9.8v9.8h-9.8zM451.07 330.64h9.8v9.8h-9.8zM451.52 330.82h9.8v9.8h-9.8zM451.97 331h9.8v9.8h-9.8zM452.42 331.19h9.8v9.8h-9.8zM452.87 331.37h9.8v9.8h-9.8zM453.32 331.55h9.8v9.8h-9.8zM453.77 331.74h9.8v9.8h-9.8zM454.22 331.92h9.8v9.8h-9.8zM454.67 332.1h9.8v9.8h-9.8zM455.12 332.28h9.8v9.8h-9.8zM455.57 332.46h9.8v9.8h-9.8zM456.02 332.65h9.8v9.8h-9.8zM456.47 332.83h9.8v9.8h-9.8zM456.92 333.01h9.8v9.8h-9.8zM457.37 333.19h9.8v9.8h-9.8zM457.82 333.37h9.8v9.8h-9.8zM458.27 333.55h9.8v9.8h-9.8zM458.72 333.73h9.8v9.8h-9.8zM459.17 333.91h9.8v9.8h-9.8zM459.62 334.09h9.8v9.8h-9.8zM460.07 334.27h9.8v9.8h-9.8zM460.52 334.45h9.8v9.8h-9.8zM460.97 334.63h9.8v9.8h-9.8zM461.42 334.81h9.8v9.8h-9.8zM461.87 334.98h9.8v9.8h-9.8zM462.32 335.16h9.8v9.8h-9.8zM462.77 335.34h9.8v9.8h-9.8zM463.22 335.52h9.8v9.8h-9.8zM463.67 335.69h9.8v9.8h-9.8zM464.12 335.87h9.8v9.8h-9.8zM464.57 336.05h9.8v9.8h-9.8zM465.02 336.22h9.8v9.8h-9.8zM465.47 336.4h9.8v9.8h-9.8zM465.92 336.58h9.8v9.8h-9.8zM466.37 336.75h9.8v9.8h-9.8zM466.82 336.93h9.8v9.8h-9.8zM467.27 337.1h9.8v9.8h-9.8zM467.72 337.28h9.8v9.8h-9.8zM468.17 337.45h9.8v9.8h-9.8zM468.62 337.63h9.8v9.8h-9.8zM469.07 337.8h9.8v9.8h-9.8zM469.52 337.98h9.8v9.8h-9.8zM469.97 338.15h9.8v9.8h-9.8zM470.42 338.32h9.8v9.8h-9.8zM470.87 338.5h9.8v9.8h-9.8zM471.32 338.67h9.8v9.8h-9.8zM471.77 338.84h9.8v9.8h-9.8zM472.22 339.02h9.8v9.8h-9.8zM472.67 339.19h9.8v9.8h-9.8zM473.12 339.36h9.8v9.8h-9.8zM473.57 339.53h9.8v9.8h-9.8zM474.02 339.7h9.8v9.8h-9.8zM474.47 339.88h9.8v9.8h-9.8zM474.92 340.05h9.8v9.8h-9.8zM475.37 340.22h9.8v9.8h-9.8zM475.82 340.39h9.8v9.8h-9.8zM476.27 340.56h9.8v9.8h-9.8zM476.72 340.73h9.8v9.8h-9.8zM477.17 340.9h9.8v9.8h-9.8zM477.62 341.07h9.8v9.8h-9.8zM478.07 341.24h9.8v9.8h-9.8zM478.52 341.41h9.8v9.8h-9.8zM478.97 341.58h9.8v9.8h-9.8zM479.42 341.74h9.8v9.8h-9.8zM479.87 341.91h9.8v9.8h-9.8zM480.32 342.08h9.8v9.8h-9.8zM480.77 342.25h9.8v9.8h-9.8zM481.22 342.42h9.8v9.8h-9.8zM481.67 342.58h9.8v9.8h-9.8zM482.12 342.75h9.8v9.8h-9.8zM482.57 342.92h9.8v9.8h-9.8zM483.02 343.08h9.8v9.8h-9.8zM483.47 343.25h9.8v9.8h-9.8zM483.92 343.42h9.8v9.8h-9.8zM484.37 343.58h9.8v9.8h-9.8zM484.82 343.75h9.8v9.8h-9.8zM485.27 343.91h9.8v9.8h-9.8zM485.72 344.08h9.8v9.8h-9.8zM486.17 344.24h9.8v9.8h-9.8zM486.62 344.41h9.8v9.8h-9.8zM487.07 344.57h9.8v9.8h-9.8zM487.52 344.74h9.8v9.8h-9.8zM487.97 344.9h9.8v9.8h-9.8zM488.42 345.06h9.8v9.8h-9.8zM488.87 345.23h9.8v9.8h-9.8zM489.32 345.39h9.8v9.8h-9.8zM489.77 345.55h9.8v9.8h-9.8zM490.22 345.72h9.8v9.8h-9.8zM490.67 345.88h9.8v9.8h-9.8zM491.12 346.04h9.8v9.8h-9.8zM491.57 346.2h9.8v9.8h-9.8zM492.02 346.36h9.8v9.8h-9.8zM492.47 346.53h9.8v9.8h-9.8zM492.92 346.69h9.8v9.8h-9.8zM493.37 346.85h9.8v9.8h-9.8zM493.82 347.01h9.8v9.8h-9.8zM494.27 347.17h9.8v9.8h-9.8zM494.72 347.33h9.8v9.8h-9.8zM495.17 347.49h9.8v9.8h-9.8zM495.62 347.65h9.8v9.8h-9.8zM496.07 347.81h9.8v9.8h-9.8zM496.52 347.97h9.8v9.8h-9.8zM496.97 348.13h9.8v9.8h-9.8zM497.42 348.29h9.8v9.8h-9.8zM497.87 348.44h9.8v9.8h-9.8zM498.32 348.6h9.8v9.8h-9.8zM498.77 348.76h9.8v9.8h-9.8zM499.22 348.92h9.8v9.8h-9.8zM499.67 349.08h9.8v9.8h-9.8zM500.12 349.23h9.8v9.8h-9.8zM500.57 349.39h9.8v9.8h-9.8zM501.02 349.55h9.8v9.8h-9.8zM501.47 349.7h9.8v9.8h-9.8zM501.92 349.86h9.8v9.8h-9.8zM502.37 350.02h9.8v9.8h-9.8zM502.82 350.17h9.8v9.8h-9.8zM503.27 350.33h9.8v9.8h-9.8zM503.72 350.48h9.8v9.8h-9.8zM504.17 350.64h9.8v9.8h-9.8zM504.62 350.79h9.8v9.8h-9.8zM505.07 350.95h9.8v9.8h-9.8zM505.52 351.1h9.8v9.8h-9.8zM505.97 351.26h9.8v9.8h-9.8zM506.42 351.41h9.8v9.8h-9.8zM506.87 351.56h9.8v9.8h-9.8zM507.32 351.72h9.8v9.8h-9.8zM507.77 351.87h9.8v9.8h-9.8zM508.22 352.02h9.8v9.8h-9.8zM508.67 352.17h9.8v9.8h-9.8zM509.12 352.33h9.8v9.8h-9.8zM509.57 352.48h9.8v9.8h-9.8zM510.02 352.63h9.8v9.8h-9.8zM510.47 352.78h9.8v9.8h-9.8zM510.92 352.93h9.8v9.8h-9.8zM511.37 353.09h9.8v9.8h-9.8zM511.82 353.24h9.8v9.8h-9.8zM512.27 353.39h9.8v9.8h-9.8zM512.72 353.54h9.8v9.8h-9.8zM513.17 353.69h9.8v9.8h-9.8zM513.62 353.84h9.8v9.8h-9.8zM514.07 353.99h9.8v9.8h-9.8zM514.52 354.14h9.8v9.8h-9.8zM514.97 354.29h9.8v9.8h-9.8zM515.42 354.43h9.8v9.8h-9.8zM515.87 354.58h9.8v9.8h-9.8zM516.32 354.73h9.8v9.8h-9.8zM516.77 354.88h9.8v9.8h-9.8zM517.22 355.03h9.8v9.8h-9.8zM517.67 355.18h9.8v9.8h-9.8zM518.12 355.32h9.8v9.8h-9.8zM518.57 355.47h9.8v9.8h-9.8zM519.02 355.62h9.8v9.8h-9.8zM519.47 355.76h9.8v9.8h-9.8zM519.92 355.91h9.8v9.8h-9.8zM520.37 356.06h9.8v9.8h-9.8zM520.82 356.2h9.8v9.8h-9.8zM521.27 356.35h9.8v9.8h-9.8zM521.72 356.49h9.8v9.8h-9.8zM522.17 356.64h9.8v9.8h-9.8zM522.62 356.78h9.8v9.8h-9.8zM523.07 356.93h9.8v9.8h-9.8zM523.52 357.07h9.8v9.8h-9.8zM523.97 357.22h9.8v9.8h-9.8zM524.42 357.36h9.8v9.8h-9.8zM524.87 357.51h9.8v9.8h-9.8zM525.32 357.65h9.8v9.8h-9.8zM525.77 357.79h9.8v9.8h-9.8zM526.22 357.94h9.8v9.8h-9.8zM526.67 358.08h9.8v9.8h-9.8zM527.12 358.22h9.8v9.8h-9.8zM527.57 358.36h9.8v9.8h-9.8zM528.02 358.51h9.8v9.8h-9.8zM528.47 358.65h9.8v9.8h-9.8zM528.92 358.79h9.8v9.8h-9.8zM529.37 358.93h9.8v9.8h-9.8zM529.82 359.07h9.8v9.8h-9.8zM530.27 359.21h9.8v9.8h-9.8zM530.72 359.35h9.8v9.8h-9.8zM531.17 359.49h9.8v9.8h-9.8zM531.62 359.63h9.8v9.8h-9.8zM532.07 359.77h9.8v9.8h-9.8zM532.52 359.91h9.8v9.8h-9.8zM532.97 360.05h9.8v9.8h-9.8zM533.42 360.19h9.8v9.8h-9.8zM533.87 360.33h9.8v9.8h-9.8zM534.32 360.47h9.8v9.8h-9.8zM534.77 360.61h9.8v9.8h-9.8zM535.22 360.75h9.8v9.8h-9.8zM535.67 360.88h9.8v9.8h-9.8zM536.12 361.02h9.8v9.8h-9.8zM536.57 361.16h9.8v9.8h-9.8zM537.02 361.3h9.8v9.8h-9.8zM537.47 361.43h9.8v9.8h-9.8zM537.92 361.57h9.8v9.8h-9.8zM538.37 361.71h9.8v9.8h-9.8zM538.82 361.84h9.8v9.8h-9.8zM539.27 361.98h9.8v9.8h-9.8zM539.72 362.11h9.8v9.8h-9.8zM540.17 362.25h9.8v9.8h-9.8zM540.62 362.38h9.8v9.8h-9.8zM541.07 362.52h9.8v9.8h-9.8zM541.52 362.65h9.8v9.8h-9.8zM541.97 362.79h9.8v9.8h-9.8zM542.42 362.92h9.8v9.8h-9.8zM542.87 363.06h9.8v9.8h-9.8zM543.32 363.19h9.8v9.8h-9.8zM543.77 363.32h9.8v9.8h-9.8zM544.22 363.46h9.8v9.8h-9.8zM544.67 363.59h9.8v9.8h-9.8zM545.12 363.72h9.8v9.8h-9.8zM545.57 363.86h9.8v9.8h-9.8zM546.02 363.99h9.8v9.8h-9.8zM546.47 364.12h9.8v9.8h-9.8zM546.92 364.25h9.8v9.8h-9.8zM547.37 364.38h9.8v9.8h-9.8zM547.82 364.52h9.8v9.8h-9.8zM548.27 364.65h9.8v9.8h-9.8zM548.72 364.78h9.8v9.8h-9.8zM549.17 364.91h9.8v9.8h-9.8zM549.62 365.04h9.8v9.8h-9.8zM550.07 365.17h9.8v9.8h-9.8zM550.52 365.3h9.8v9.8h-9.8zM550.97 365.43h9.8v9.8h-9.8zM551.42 365.56h9.8v9.8h-9.8zM551.87 365.69h9.8v9.8h-9.8zM552.32 365.82h9.8v9.8h-9.8zM552.77 365.95h9.8v9.8h-9.8zM553.22 366.07h9.8v9.8h-9.8zM553.67 366.2h9.8v9.8h-9.8zM554.12 366.33h9.8v9.8h-9.8zM554.57 366.46h9.8v9.8h-9.8zM555.02 366.59h9.8v9.8h-9.8zM555.47 366.71h9.8v9.8h-9.8zM555.92 366.84h9.8v9.8h-9.8zM556.37 366.97h9.8v9.8h-9.8zM556.82 367.09h9.8v9.8h-9.8zM557.27 367.22h9.8v9.8h-9.8zM557.72 367.35h9.8v9.8h-9.8zM558.17 367.47h9.8v9.8h-9.8zM558.62 367.6h9.8v9.8h-9.8zM559.07 367.72h9.8v9.8h-9.8zM559.52 367.85h9.8v9.8h-9.8zM559.97 367.97h9.8v9.8h-9.8zM560.42 368.1h9.8v9.8h-9.8zM560.87 368.22h9.8v9.8h-9.8zM561.32 368.34h9.8v9.8h-9.8zM561.77 368.47h9.8v9.8h-9.8zM562.22 368.59h9.8v9.8h-9.8zM562.67 368.72h9.8v9.8h-9.8zM563.12 368.84h9.8v9.8h-9.8zM563.57 368.96h9.8v9.8h-9.8zM564.02 369.08h9.8v9.8h-9.8zM564.47 369.21h9.8v9.8h-9.8zM564.92 369.33h9.8v9.8h-9.8zM565.37 369.45h9.8v9.8h-9.8zM565.82 369.57h9.8v9.8h-9.8zM566.27 369.69h9.8v9.8h-9.8zM566.72 369.82h9.8v9.8h-9.8zM567.17 369.94h9.8v9.8h-9.8zM567.62 370.06h9.8v9.8h-9.8zM568.07 370.18h9.8v9.8h-9.8zM568.52 370.3h9.8v9.8h-9.8zM568.97 370.42h9.8v9.8h-9.8zM569.42 370.54h9.8v9.8h-9.8zM569.87 370.66h9.8v9.8h-9.8zM570.32 370.78h9.8v9.8h-9.8zM570.77 370.9h9.8v9.8h-9.8zM571.22 371.01h9.8v9.8h-9.8zM571.67 371.13h9.8v9.8h-9.8zM572.12 371.25h9.8v9.8h-9.8zM572.57 371.37h9.8v9.8h-9.8zM573.02 371.49h9.8v9.8h-9.8zM573.47 371.61h9.8v9.8h-9.8zM573.92 371.72h9.8v9.8h-9.8zM574.37 371.84h9.8v9.8h-9.8zM574.82 371.96h9.8v9.8h-9.8zM575.27 372.07h9.8v9.8h-9.8zM575.72 372.19h9.8v9.8h-9.8zM576.17 372.31h9.8v9.8h-9.8zM576.62 372.42h9.8v9.8h-9.8zM577.07 372.54h9.8v9.8h-9.8zM577.52 372.65h9.8v9.8h-9.8zM577.97 372.77h9.8v9.8h-9.8zM578.42 372.88h9.8v9.8h-9.8zM578.87 373h9.8v9.8h-9.8zM579.32 373.11h9.8v9.8h-9.8zM579.77 373.23h9.8v9.8h-9.8zM580.22 373.34h9.8v9.8h-9.8zM580.67 373.45h9.8v9.8h-9.8zM581.12 373.57h9.8v9.8h-9.8zM581.57 373.68h9.8v9.8h-9.8zM582.02 373.79h9.8v9.8h-9.8zM582.47 373.91h9.8v9.8h-9.8zM582.92 374.02h9.8v9.8h-9.8zM583.37 374.13h9.8v9.8h-9.8zM583.82 374.24h9.8v9.8h-9.8zM584.27 374.36h9.8v9.8h-9.8zM584.72 374.47h9.8v9.8h-9.8zM585.17 374.58h9.8v9.8h-9.8zM585.62 374.69h9.8v9.8h-9.8zM586.07 374.8h9.8v9.8h-9.8zM586.52 374.91h9.8v9.8h-9.8zM586.97 375.02h9.8v9.8h-9.8zM587.42 375.13h9.8v9.8h-9.8zM587.87 375.24h9.8v9.8h-9.8zM588.32 375.35h9.8v9.8h-9.8zM588.77 375.46h9.8v9.8h-9.8zM589.22 375.57h9.8v9.8h-9.8zM589.67 375.68h9.8v9.8h-9.8zM590.12 375.79h9.8v9.8h-9.8zM590.57 375.9h9.8v9.8h-9.8zM591.02 376.01h9.8v9.8h-9.8zM591.47 376.11h9.8v9.8h-9.8zM591.92 376.22h9.8v9.8h-9.8zM592.37 376.33h9.8v9.8h-9.8zM592.82 376.44h9.8v9.8h-9.8zM593.27 376.54h9.8v9.8h-9.8zM593.72 376.65h9.8v9.8h-9.8zM594.17 376.76h9.8v9.8h-9.8zM594.62 376.86h9.8v9.8h-9.8zM595.07 376.97h9.8v9.8h-9.8zM595.52 377.08h9.8v9.8h-9.8zM595.97 377.18h9.8v9.8h-9.8zM596.42 377.29h9.8v9.8h-9.8zM596.87 377.39h9.8v9.8h-9.8zM597.32 377.5h9.8v9.8h-9.8zM597.77 377.6h9.8v9.8h-9.8zM598.22 377.71h9.8v9.8h-9.8zM598.67 377.81h9.8v9.8h-9.8zM599.12 377.91h9.8v9.8h-9.8zM599.57 378.02h9.8v9.8h-9.8zM600.02 378.12h9.8v9.8h-9.8zM600.47 378.22h9.8v9.8h-9.8zM600.92 378.33h9.8v9.8h-9.8zM601.37 378.43h9.8v9.8h-9.8zM601.82 378.53h9.8v9.8h-9.8zM602.27 378.64h9.8v9.8h-9.8zM602.72 378.74h9.8v9.8h-9.8zM603.17 378.84h9.8v9.8h-9.8zM603.62 378.94h9.8v9.8h-9.8zM604.07 379.04h9.8v9.8h-9.8zM604.52 379.14h9.8v9.8h-9.8zM604.97 379.24h9.8v9.8h-9.8zM605.42 379.35h9.8v9.8h-9.8zM605.87 379.45h9.8v9.8h-9.8zM606.32 379.55h9.8v9.8h-9.8zM606.77 379.65h9.8v9.8h-9.8zM607.22 379.75h9.8v9.8h-9.8zM607.67 379.84h9.8v9.8h-9.8zM608.12 379.94h9.8v9.8h-9.8zM608.57 380.04h9.8v9.8h-9.8zM609.02 380.14h9.8v9.8h-9.8zM609.47 380.24h9.8v9.8h-9.8zM609.92 380.34h9.8v9.8h-9.8zM610.37 380.44h9.8v9.8h-9.8zM610.82 380.53h9.8v9.8h-9.8zM611.27 380.63h9.8v9.8h-9.8zM611.72 380.73h9.8v9.8h-9.8zM612.17 380.83h9.8v9.8h-9.8zM612.62 380.92h9.8v9.8h-9.8zM613.07 381.02h9.8v9.8h-9.8zM613.52 381.12h9.8v9.8h-9.8zM613.97 381.21h9.8v9.8h-9.8zM614.42 381.31h9.8v9.8h-9.8zM614.87 381.4h9.8v9.8h-9.8zM615.32 381.5h9.8v9.8h-9.8zM615.77 381.59h9.8v9.8h-9.8zM616.22 381.69h9.8v9.8h-9.8zM616.67 381.78h9.8v9.8h-9.8zM617.12 381.88h9.8v9.8h-9.8zM617.57 381.97h9.8v9.8h-9.8zM618.02 382.07h9.8v9.8h-9.8zM618.47 382.16h9.8v9.8h-9.8zM618.92 382.25h9.8v9.8h-9.8zM619.37 382.35h9.8v9.8h-9.8zM619.82 382.44h9.8v9.8h-9.8zM620.27 382.53h9.8v9.8h-9.8zM620.72 382.63h9.8v9.8h-9.8zM621.17 382.72h9.8v9.8h-9.8zM621.62 382.81h9.8v9.8h-9.8zM622.07 382.9h9.8v9.8h-9.8zM622.52 382.99h9.8v9.8h-9.8zM622.97 383.09h9.8v9.8h-9.8zM623.42 383.18h9.8v9.8h-9.8zM623.87 383.27h9.8v9.8h-9.8zM624.32 383.36h9.8v9.8h-9.8zM624.77 383.45h9.8v9.8h-9.8zM625.22 383.54h9.8v9.8h-9.8zM625.67 383.63h9.8v9.8h-9.8zM626.12 383.72h9.8v9.8h-9.8zM626.57 383.81h9.8v9.8h-9.8zM627.02 383.9h9.8v9.8h-9.8zM627.47 383.99h9.8v9.8h-9.8zM627.92 384.08h9.8v9.8h-9.8zM628.37 384.16h9.8v9.8h-9.8zM628.82 384.25h9.8v9.8h-9.8zM629.27 384.34h9.8v9.8h-9.8zM629.72 384.43h9.8v9.8h-9.8zM630.17 384.52h9.8v9.8h-9.8zM630.62 384.6h9.8v9.8h-9.8zM631.07 384.69h9.8v9.8h-9.8zM631.52 384.78h9.8v9.8h-9.8zM631.97 384.86h9.8v9.8h-9.8zM632.42 384.95h9.8v9.8h-9.8zM632.87 385.04h9.8v9.8h-9.8zM633.32 385.12h9.8v9.8h-9.8zM633.77 385.21h9.8v9.8h-9.8zM634.22 385.29h9.8v9.8h-9.8zM634.67 385.38h9.8v9.8h-9.8zM635.12 385.46h9.8v9.8h-9.8zM635.57 385.55h9.8v9.8h-9.8zM636.02 385.63h9.8v9.8h-9.8zM636.47 385.72h9.8v9.8h-9.8zM636.92 385.8h9.8v9.8h-9.8zM637.37 385.89h9.8v9.8h-9.8zM637.82 385.97h9.8v9.8h-9.8zM638.27 386.05h9.8v9.8h-9.8zM638.72 386.14h9.8v9.8h-9.8zM639.17 386.22h9.8v9.8h-9.8zM639.62 386.3h9.8v9.8h-9.8zM640.07 386.38h9.8v9.8h-9.8zM640.52 386.47h9.8v9.8h-9.8zM640.97 386.55h9.8v9.8h-9.8zM641.42 386.63h9.8v9.8h-9.8zM641.87 386.71h9.8v9.8h-9.8zM642.32 386.79h9.8v9.8h-9.8zM642.77 386.87h9.8v9.8h-9.8zM643.22 386.95h9.8v9.8h-9.8zM643.67 387.04h9.8v9.8h-9.8zM644.12 387.12h9.8v9.8h-9.8zM644.57 387.2h9.8v9.8h-9.8zM645.02 387.28h9.8v9.8h-9.8zM645.47 387.36h9.8v9.8h-9.8zM645.92 387.43h9.8v9.8h-9.8zM646.37 387.51h9.8v9.8h-9.8zM646.82 387.59h9.8v9.8h-9.8zM647.27 387.67h9.8v9.8h-9.8zM647.72 387.75h9.8v9.8h-9.8zM648.17 387.83h9.8v9.8h-9.8zM648.62 387.91h9.8v9.8h-9.8zM649.07 387.98h9.8v9.8h-9.8zM649.52 388.06h9.8v9.8h-9.8zM649.97 388.14h9.8v9.8h-9.8zM650.42 388.22h9.8v9.8h-9.8zM650.87 388.29h9.8v9.8h-9.8zM651.32 388.37h9.8v9.8h-9.8zM651.77 388.45h9.8v9.8h-9.8zM652.22 388.52h9.8v9.8h-9.8zM652.67 388.6h9.8v9.8h-9.8zM653.12 388.67h9.8v9.8h-9.8zM653.57 388.75h9.8v9.8h-9.8zM654.02 388.82h9.8v9.8h-9.8zM654.47 388.9h9.8v9.8h-9.8zM654.92 388.97h9.8v9.8h-9.8zM655.37 389.05h9.8v9.8h-9.8zM655.82 389.12h9.8v9.8h-9.8zM656.27 389.2h9.8v9.8h-9.8zM656.72 389.27h9.8v9.8h-9.8zM657.17 389.34h9.8v9.8h-9.8zM657.62 389.42h9.8v9.8h-9.8zM658.07 389.49h9.8v9.8h-9.8zM658.52 389.56h9.8v9.8h-9.8zM658.97 389.64h9.8v9.8h-9.8zM659.42 389.71h9.8v9.8h-9.8zM659.87 389.78h9.8v9.8h-9.8zM660.32 389.85h9.8v9.8h-9.8zM660.77 389.92h9.8v9.8h-9.8zM661.22 390h9.8v9.8h-9.8zM661.67 390.07h9.8v9.8h-9.8zM662.12 390.14h9.8v9.8h-9.8zM662.57 390.21h9.8v9.8h-9.8zM663.02 390.28h9.8v9.8h-9.8zM663.47 390.35h9.8v9.8h-9.8zM663.92 390.42h9.8v9.8h-9.8zM664.37 390.49h9.8v9.8h-9.8zM664.82 390.56h9.8v9.8h-9.8zM665.27 390.63h9.8v9.8h-9.8zM665.72 390.7h9.8v9.8h-9.8zM666.17 390.77h9.8v9.8h-9.8zM666.62 390.83h9.8v9.8h-9.8zM667.07 390.9h9.8v9.8h-9.8zM667.52 390.97h9.8v9.8h-9.8zM667.97 391.04h9.8v9.8h-9.8zM668.42 391.11h9.8v9.8h-9.8zM668.87 391.17h9.8v9.8h-9.8zM669.32 391.24h9.8v9.8h-9.8zM669.77 391.31h9.8v9.8h-9.8zM670.22 391.38h9.8v9.8h-9.8zM670.67 391.44h9.8v9.8h-9.8zM671.12 391.51h9.8v9.8h-9.8zM671.57 391.57h9.8v9.8h-9.8zM672.02 391.64h9.8v9.8h-9.8zM672.47 391.71h9.8v9.8h-9.8zM672.92 391.77h9.8v9.8h-9.8zM673.37 391.84h9.8v9.8h-9.8zM673.82 391.9h9.8v9.8h-9.8zM674.27 391.97h9.8v9.8h-9.8zM674.72 392.03h9.8v9.8h-9.8zM675.17 392.09h9.8v9.8h-9.8zM675.62 392.16h9.8v9.8h-9.8zM676.07 392.22h9.8v9.8h-9.8zM676.52 392.29h9.8v9.8h-9.8zM676.97 392.35h9.8v9.8h-9.8zM677.42 392.41h9.8v9.8h-9.8zM677.87 392.47h9.8v9.8h-9.8zM678.32 392.54h9.8v9.8h-9.8zM678.77 392.6h9.8v9.8h-9.8zM679.22 392.66h9.8v9.8h-9.8zM679.67 392.72h9.8v9.8h-9.8zM680.12 392.79h9.8v9.8h-9.8zM680.57 392.85h9.8v9.8h-9.8zM681.02 392.91h9.8v9.8h-9.8zM681.47 392.97h9.8v9.8h-9.8zM681.92 393.03h9.8v9.8h-9.8zM682.37 393.09h9.8v9.8h-9.8zM682.82 393.15h9.8v9.8h-9.8zM683.27 393.21h9.8v9.8h-9.8zM683.72 393.27h9.8v9.8h-9.8zM684.17 393.33h9.8v9.8h-9.8zM684.62 393.39h9.8v9.8h-9.8zM685.07 393.45h9.8v9.8h-9.8zM685.52 393.51h9.8v9.8h-9.8zM685.97 393.57h9.8v9.8h-9.8zM686.42 393.62h9.8v9.8h-9.8zM686.87 393.68h9.8v9.8h-9.8zM687.32 393.74h9.8v9.8h-9.8zM687.77 393.8h9.8v9.8h-9.8zM688.22 393.86h9.8v9.8h-9.8zM688.67 393.91h9.8v9.8h-9.8zM689.12 393.97h9.8v9.8h-9.8zM689.57 394.03h9.8v9.8h-9.8zM690.02 394.08h9.8v9.8h-9.8zM690.47 394.14h9.8v9.8h-9.8z" fill="none" stroke="#ff8a0e" stroke-width="1.25"/>
</g>
<g clip-path="url(#cb)">
<path d="M930.3 425.17l1.17 -1.17h10.66l1.17 1.17v9.66l-1.17 1.17h-10.66l-1.17 -1.17zM930.48 419.1l1.17 -1.17h10.66l1.17 1.17v9.66l-1.17 1.17h-10.66l-1.17 -1.17zM930.66 413.68l1.17 -1.17h10.66l1.17 1.17v9.66l-1.17 1.17h-10.66l-1.17 -1.17zM930.84 409.43l1.17 -1.17h10.66l1.17 1.17v9.66l-1.17 1.17h-10.66l-1.17 -1.17zM931.02 405.64l1.17 -1.17h10.66l1.17 1.17v9.66l-1.17 1.17h-10.66l-1.17 -1.17zM931.2 402.2l1.17 -1.17h10.66l1.17 1.17v9.66l-1.17 1.17h-10.66l-1.17 -1.17zM931.38 399.03l1.17 -1.17h10.66l1.17 1.17v9.66l-1.17 1.17h-10.66l-1.17 -1.17zM931.56 396.05l1.17 -1.17h10.66l1.17 1.17v9.66l-1.17 1.17h-10.66l-1.17 -1.17zM931.74 393.19l1.17 -1.17h10.66l1.17 1.17v9.66l-1.17 1.17h-10.66l-1.17 -1.17zM931.92 390.35l1.17 -1.17h10.66l1.17 1.17v9.66l-1.17 1.17h-10.66l-1.17 -1.17zM932.1 387.46l1.17 -1.17h10.66l1.17 1.17v9.66l-1.17 1.17h-10.66l-1.17 -1.17zM932.28 384.44l1.17 -1.17h10.66l1.17 1.17v9.66l-1.17 1.17h-10.66l-1.17 -1.17zM932.46 381.22l1.17 -1.17h10.66l1.17 1.17v9.66l-1.17 1.17h-10.66l-1.17 -1.17zM932.64 377.75l1.17 -1.17h10.66l1.17 1.17v9.66l-1.17 1.17h-10.66l-1.17 -1.17zM932.82 374.1l1.17 -1.17h10.66l1.17 1.17v9.66l-1.17 1.17h-10.66l-1.17 -1.17zM933 370.33l1.17 -1.17h10.66l1.17 1.17v9.66l-1.17 1.17h-10.66l-1.17 -1.17zM933.18 366.5l1.17 -1.17h10.66l1.17 1.17v9.66l-1.17 1.17h-10.66l-1.17 -1.17zM933.36 362.67l1.17 -1.17h10.66l1.17 1.17v9.66l-1.17 1.17h-10.66l-1.17 -1.17zM933.54 358.9l1.17 -1.17h10.66l1.17 1.17v9.66l-1.17 1.17h-10.66l-1.17 -1.17zM933.72 355.24l1.17 -1.17h10.66l1.17 1.17v9.66l-1.17 1.17h-10.66l-1.17 -1.17zM933.9 351.76l1.17 -1.17h10.66l1.17 1.17v9.66l-1.17 1.17h-10.66l-1.17 -1.17zM934.08 348.51l1.17 -1.17h10.66l1.17 1.17v9.66l-1.17 1.17h-10.66l-1.17 -1.17zM934.26 345.49l1.17 -1.17h10.66l1.17 1.17v9.66l-1.17 1.17h-10.66l-1.17 -1.17zM934.44 342.61l1.17 -1.17h10.66l1.17 1.17v9.66l-1.17 1.17h-10.66l-1.17 -1.17zM934.62 339.85l1.17 -1.17h10.66l1.17 1.17v9.66l-1.17 1.17h-10.66l-1.17 -1.17zM934.8 337.19l1.17 -1.17h10.66l1.17 1.17v9.66l-1.17 1.17h-10.66l-1.17 -1.17zM934.98 334.61l1.17 -1.17h10.66l1.17 1.17v9.66l-1.17 1.17h-10.66l-1.17 -1.17zM935.16 332.08l1.17 -1.17h10.66l1.17 1.17v9.66l-1.17 1.17h-10.66l-1.17 -1.17zM935.34 329.58l1.17 -1.17h10.66l1.17 1.17v9.66l-1.17 1.17h-10.66l-1.17 -1.17zM935.52 327.1l1.17 -1.17h10.66l1.17 1.17v9.66l-1.17 1.17h-10.66l-1.17 -1.17zM935.7 324.61l1.17 -1.17h10.66l1.17 1.17v9.66l-1.17 1.17h-10.66l-1.17 -1.17zM935.88 322.09l1.17 -1.17h10.66l1.17 1.17v9.66l-1.17 1.17h-10.66l-1.17 -1.17zM936.06 319.52l1.17 -1.17h10.66l1.17 1.17v9.66l-1.17 1.17h-10.66l-1.17 -1.17zM936.24 316.87l1.17 -1.17h10.66l1.17 1.17v9.66l-1.17 1.17h-10.66l-1.17 -1.17zM936.42 314.14l1.17 -1.17h10.66l1.17 1.17v9.66l-1.17 1.17h-10.66l-1.17 -1.17zM936.6 311.31l1.17 -1.17h10.66l1.17 1.17v9.66l-1.17 1.17h-10.66l-1.17 -1.17zM936.78 308.43l1.17 -1.17h10.66l1.17 1.17v9.66l-1.17 1.17h-10.66l-1.17 -1.17zM936.96 305.5l1.17 -1.17h10.66l1.17 1.17v9.66l-1.17 1.17h-10.66l-1.17 -1.17zM937.14 302.56l1.17 -1.17h10.66l1.17 1.17v9.66l-1.17 1.17h-10.66l-1.17 -1.17zM937.32 299.61l1.17 -1.17h10.66l1.17 1.17v9.66l-1.17 1.17h-10.66l-1.17 -1.17zM937.5 296.69l1.17 -1.17h10.66l1.17 1.17v9.66l-1.17 1.17h-10.66l-1.17 -1.17zM937.68 293.81l1.17 -1.17h10.66l1.17 1.17v9.66l-1.17 1.17h-10.66l-1.17 -1.17zM937.86 291l1.17 -1.17h10.66l1.17 1.17v9.66l-1.17 1.17h-10.66l-1.17 -1.17zM938.04 288.27l1.17 -1.17h10.66l1.17 1.17v9.66l-1.17 1.17h-10.66l-1.17 -1.17zM938.22 285.66l1.17 -1.17h10.66l1.17 1.17v9.66l-1.17 1.17h-10.66l-1.17 -1.17zM938.4 283.17l1.17 -1.17h10.66l1.17 1.17v9.66l-1.17 1.17h-10.66l-1.17 -1.17zM938.58 280.82l1.17 -1.17h10.66l1.17 1.17v9.66l-1.17 1.17h-10.66l-1.17 -1.17zM938.94 276.41l1.17 -1.17h10.66l1.17 1.17v9.66l-1.17 1.17h-10.66l-1.17 -1.17zM939.3 272.29l1.17 -1.17h10.66l1.17 1.17v9.66l-1.17 1.17h-10.66l-1.17 -1.17zM939.66 268.3l1.17 -1.17h10.66l1.17 1.17v9.66l-1.17 1.17h-10.66l-1.17 -1.17zM940.02 264.32l1.17 -1.17h10.66l1.17 1.17v9.66l-1.17 1.17h-10.66l-1.17 -1.17zM940.38 260.18l1.17 -1.17h10.66l1.17 1.17v9.66l-1.17 1.17h-10.66l-1.17 -1.17zM940.74 255.76l1.17 -1.17h10.66l1.17 1.17v9.66l-1.17 1.17h-10.66l-1.17 -1.17zM940.92 253.41l1.17 -1.17h10.66l1.17 1.17v9.66l-1.17 1.17h-10.66l-1.17 -1.17zM941.1 250.99l1.17 -1.17h10.66l1.17 1.17v9.66l-1.17 1.17h-10.66l-1.17 -1.17zM941.28 248.51l1.17 -1.17h10.66l1.17 1.17v9.66l-1.17 1.17h-10.66l-1.17 -1.17zM941.46 246l1.17 -1.17h10.66l1.17 1.17v9.66l-1.17 1.17h-10.66l-1.17 -1.17zM941.64 243.45l1.17 -1.17h10.66l1.17 1.17v9.66l-1.17 1.17h-10.66l-1.17 -1.17zM941.82 240.9l1.17 -1.17h10.66l1.17 1.17v9.66l-1.17 1.17h-10.66l-1.17 -1.17zM942 238.36l1.17 -1.17h10.66l1.17 1.17v9.66l-1.17 1.17h-10.66l-1.17 -1.17zM942.18 235.84l1.17 -1.17h10.66l1.17 1.17v9.66l-1.17 1.17h-10.66l-1.17 -1.17zM942.36 233.36l1.17 -1.17h10.66l1.17 1.17v9.66l-1.17 1.17h-10.66l-1.17 -1.17zM942.54 230.94l1.17 -1.17h10.66l1.17 1.17v9.66l-1.17 1.17h-10.66l-1.17 -1.17zM942.72 228.52l1.17 -1.17h10.66l1.17 1.17v9.66l-1.17 1.17h-10.66l-1.17 -1.17zM942.9 226.08l1.17 -1.17h10.66l1.17 1.17v9.66l-1.17 1.17h-10.66l-1.17 -1.17zM943.08 223.64l1.17 -1.17h10.66l1.17 1.17v9.66l-1.17 1.17h-10.66l-1.17 -1.17zM943.26 221.2l1.17 -1.17h10.66l1.17 1.17v9.66l-1.17 1.17h-10.66l-1.17 -1.17zM943.44 218.78l1.17 -1.17h10.66l1.17 1.17v9.66l-1.17 1.17h-10.66l-1.17 -1.17zM943.62 216.37l1.17 -1.17h10.66l1.17 1.17v9.66l-1.17 1.17h-10.66l-1.17 -1.17zM943.8 213.98l1.17 -1.17h10.66l1.17 1.17v9.66l-1.17 1.17h-10.66l-1.17 -1.17zM943.98 211.63l1.17 -1.17h10.66l1.17 1.17v9.66l-1.17 1.17h-10.66l-1.17 -1.17zM944.16 209.33l1.17 -1.17h10.66l1.17 1.17v9.66l-1.17 1.17h-10.66l-1.17 -1.17zM944.52 204.87l1.17 -1.17h10.66l1.17 1.17v9.66l-1.17 1.17h-10.66l-1.17 -1.17zM944.88 200.69l1.17 -1.17h10.66l1.17 1.17v9.66l-1.17 1.17h-10.66l-1.17 -1.17zM945.24 196.78l1.17 -1.17h10.66l1.17 1.17v9.66l-1.17 1.17h-10.66l-1.17 -1.17zM945.6 193.05l1.17 -1.17h10.66l1.17 1.17v9.66l-1.17 1.17h-10.66l-1.17 -1.17zM945.96 189.47l1.17 -1.17h10.66l1.17 1.17v9.66l-1.17 1.17h-10.66l-1.17 -1.17zM946.32 186.02l1.17 -1.17h10.66l1.17 1.17v9.66l-1.17 1.17h-10.66l-1.17 -1.17zM946.68 182.65l1.17 -1.17h10.66l1.17 1.17v9.66l-1.17 1.17h-10.66l-1.17 -1.17zM947.04 179.33l1.17 -1.17h10.66l1.17 1.17v9.66l-1.17 1.17h-10.66l-1.17 -1.17zM947.4 176.04l1.17 -1.17h10.66l1.17 1.17v9.66l-1.17 1.17h-10.66l-1.17 -1.17zM947.76 172.73l1.17 -1.17h10.66l1.17 1.17v9.66l-1.17 1.17h-10.66l-1.17 -1.17zM948.12 169.38l1.17 -1.17h10.66l1.17 1.17v9.66l-1.17 1.17h-10.66l-1.17 -1.17zM948.48 165.99l1.17 -1.17h10.66l1.17 1.17v9.66l-1.17 1.17h-10.66l-1.17 -1.17zM948.84 162.61l1.17 -1.17h10.66l1.17 1.17v9.66l-1.17 1.17h-10.66l-1.17 -1.17zM949.2 159.28l1.17 -1.17h10.66l1.17 1.17v9.66l-1.17 1.17h-10.66l-1.17 -1.17zM949.56 156.03l1.17 -1.17h10.66l1.17 1.17v9.66l-1.17 1.17h-10.66l-1.17 -1.17zM949.92 152.9l1.17 -1.17h10.66l1.17 1.17v9.66l-1.17 1.17h-10.66l-1.17 -1.17zM950.28 149.91l1.17 -1.17h10.66l1.17 1.17v9.66l-1.17 1.17h-10.66l-1.17 -1.17zM950.64 147.03l1.17 -1.17h10.66l1.17 1.17v9.66l-1.17 1.17h-10.66l-1.17 -1.17zM951 144.22l1.17 -1.17h10.66l1.17 1.17v9.66l-1.17 1.17h-10.66l-1.17 -1.17zM951.36 141.44l1.17 -1.17h10.66l1.17 1.17v9.66l-1.17 1.17h-10.66l-1.17 -1.17zM951.72 138.66l1.17 -1.17h10.66l1.17 1.17v9.66l-1.17 1.17h-10.66l-1.17 -1.17zM952.08 135.84l1.17 -1.17h10.66l1.17 1.17v9.66l-1.17 1.17h-10.66l-1.17 -1.17zM952.44 132.91l1.17 -1.17h10.66l1.17 1.17v9.66l-1.17 1.17h-10.66l-1.17 -1.17zM952.8 129.93l1.17 -1.17h10.66l1.17 1.17v9.66l-1.17 1.17h-10.66l-1.17 -1.17zM953.16 126.97l1.17 -1.17h10.66l1.17 1.17v9.66l-1.17 1.17h-10.66l-1.17 -1.17zM953.52 124.12l1.17 -1.17h10.66l1.17 1.17v9.66l-1.17 1.17h-10.66l-1.17 -1.17zM953.88 121.47l1.17 -1.17h10.66l1.17 1.17v9.66l-1.17 1.17h-10.66l-1.17 -1.17zM954.24 119.07l1.17 -1.17h10.66l1.17 1.17v9.66l-1.17 1.17h-10.66l-1.17 -1.17zM954.6 116.84l1.17 -1.17h10.66l1.17 1.17v9.66l-1.17 1.17h-10.66l-1.17 -1.17zM954.96 114.73l1.17 -1.17h10.66l1.17 1.17v9.66l-1.17 1.17h-10.66l-1.17 -1.17zM955.32 112.72l1.17 -1.17h10.66l1.17 1.17v9.66l-1.17 1.17h-10.66l-1.17 -1.17zM955.68 110.78l1.17 -1.17h10.66l1.17 1.17v9.66l-1.17 1.17h-10.66l-1.17 -1.17zM956.04 108.9l1.17 -1.17h10.66l1.17 1.17v9.66l-1.17 1.17h-10.66l-1.17 -1.17zM956.4 107.06l1.17 -1.17h10.66l1.17 1.17v9.66l-1.17 1.17h-10.66l-1.17 -1.17zM956.76 105.22l1.17 -1.17h10.66l1.17 1.17v9.66l-1.17 1.17h-10.66l-1.17 -1.17zM957.12 103.37l1.17 -1.17h10.66l1.17 1.17v9.66l-1.17 1.17h-10.66l-1.17 -1.17zM957.48 101.49l1.17 -1.17h10.66l1.17 1.17v9.66l-1.17 1.17h-10.66l-1.17 -1.17zM957.84 99.62l1.17 -1.17h10.66l1.17 1.17v9.66l-1.17 1.17h-10.66l-1.17 -1.17zM958.2 97.76l1.17 -1.17h10.66l1.17 1.17v9.66l-1.17 1.17h-10.66l-1.17 -1.17zM958.56 95.94l1.17 -1.17h10.66l1.17 1.17v9.66l-1.17 1.17h-10.66l-1.17 -1.17zM958.92 94.16l1.17 -1.17h10.66l1.17 1.17v9.66l-1.17 1.17h-10.66l-1.17 -1.17zM959.28 92.47l1.17 -1.17h10.66l1.17 1.17v9.66l-1.17 1.17h-10.66l-1.17 -1.17zM959.64 90.86l1.17 -1.17h10.66l1.17 1.17v9.66l-1.17 1.17h-10.66l-1.17 -1.17zM960 89.36l1.17 -1.17h10.66l1.17 1.17v9.66l-1.17 1.17h-10.66l-1.17 -1.17zM960.36 87.94l1.17 -1.17h10.66l1.17 1.17v9.66l-1.17 1.17h-10.66l-1.17 -1.17zM960.72 86.57l1.17 -1.17h10.66l1.17 1.17v9.66l-1.17 1.17h-10.66l-1.17 -1.17zM961.08 85.28l1.17 -1.17h10.66l1.17 1.17v9.66l-1.17 1.17h-10.66l-1.17 -1.17zM961.44 84.07l1.17 -1.17h10.66l1.17 1.17v9.66l-1.17 1.17h-10.66l-1.17 -1.17zM961.8 82.96l1.17 -1.17h10.66l1.17 1.17v9.66l-1.17 1.17h-10.66l-1.17 -1.17zM962.16 81.94l1.17 -1.17h10.66l1.17 1.17v9.66l-1.17 1.17h-10.66l-1.17 -1.17zM962.52 80.99l1.17 -1.17h10.66l1.17 1.17v9.66l-1.17 1.17h-10.66l-1.17 -1.17zM962.88 80.08l1.17 -1.17h10.66l1.17 1.17v9.66l-1.17 1.17h-10.66l-1.17 -1.17zM963.24 79.22l1.17 -1.17h10.66l1.17 1.17v9.66l-1.17 1.17h-10.66l-1.17 -1.17zM963.42 78.8l1.17 -1.17h10.66l1.17 1.17v9.66l-1.17 1.17h-10.66l-1.17 -1.17zM963.6 78.39l1.17 -1.17h10.66l1.17 1.17v9.66l-1.17 1.17h-10.66l-1.17 -1.17zM963.78 77.99l1.17 -1.17h10.66l1.17 1.17v9.66l-1.17 1.17h-10.66l-1.17 -1.17zM963.96 77.6l1.17 -1.17h10.66l1.17 1.17v9.66l-1.17 1.17h-10.66l-1.17 -1.17zM964.14 77.22l1.17 -1.17h10.66l1.17 1.17v9.66l-1.17 1.17h-10.66l-1.17 -1.17zM964.32 76.84l1.17 -1.17h10.66l1.17 1.17v9.66l-1.17 1.17h-10.66l-1.17 -1.17zM964.5 76.47l1.17 -1.17h10.66l1.17 1.17v9.66l-1.17 1.17h-10.66l-1.17 -1.17zM964.68 76.11l1.17 -1.17h10.66l1.17 1.17v9.66l-1.17 1.17h-10.66l-1.17 -1.17zM964.86 75.75l1.17 -1.17h10.66l1.17 1.17v9.66l-1.17 1.17h-10.66l-1.17 -1.17zM965.04 75.39l1.17 -1.17h10.66l1.17 1.17v9.66l-1.17 1.17h-10.66l-1.17 -1.17zM965.22 75.04l1.17 -1.17h10.66l1.17 1.17v9.66l-1.17 1.17h-10.66l-1.17 -1.17zM965.4 74.69l1.17 -1.17h10.66l1.17 1.17v9.66l-1.17 1.17h-10.66l-1.17 -1.17zM965.58 74.35l1.17 -1.17h10.66l1.17 1.17v9.66l-1.17 1.17h-10.66l-1.17 -1.17zM965.76 74.01l1.17 -1.17h10.66l1.17 1.17v9.66l-1.17 1.17h-10.66l-1.17 -1.17zM965.94 73.68l1.17 -1.17h10.66l1.17 1.17v9.66l-1.17 1.17h-10.66l-1.17 -1.17zM966.12 73.35l1.17 -1.17h10.66l1.17 1.17v9.66l-1.17 1.17h-10.66l-1.17 -1.17zM966.3 73.03l1.17 -1.17h10.66l1.17 1.17v9.66l-1.17 1.17h-10.66l-1.17 -1.17zM966.48 72.71l1.17 -1.17h10.66l1.17 1.17v9.66l-1.17 1.17h-10.66l-1.17 -1.17zM966.66 72.4l1.17 -1.17h10.66l1.17 1.17v9.66l-1.17 1.17h-10.66l-1.17 -1.17zM966.84 72.09l1.17 -1.17h10.66l1.17 1.17v9.66l-1.17 1.17h-10.66l-1.17 -1.17zM967.02 71.79l1.17 -1.17h10.66l1.17 1.17v9.66l-1.17 1.17h-10.66l-1.17 -1.17zM967.2 71.49l1.17 -1.17h10.66l1.17 1.17v9.66l-1.17 1.17h-10.66l-1.17 -1.17zM967.38 71.19l1.17 -1.17h10.66l1.17 1.17v9.66l-1.17 1.17h-10.66l-1.17 -1.17zM967.56 70.9l1.17 -1.17h10.66l1.17 1.17v9.66l-1.17 1.17h-10.66l-1.17 -1.17zM967.74 70.61l1.17 -1.17h10.66l1.17 1.17v9.66l-1.17 1.17h-10.66l-1.17 -1.17zM967.92 70.32l1.17 -1.17h10.66l1.17 1.17v9.66l-1.17 1.17h-10.66l-1.17 -1.17zM968.1 70.04l1.17 -1.17h10.66l1.17 1.17v9.66l-1.17 1.17h-10.66l-1.17 -1.17zM968.28 69.76l1.17 -1.17h10.66l1.17 1.17v9.66l-1.17 1.17h-10.66l-1.17 -1.17zM968.46 69.49l1.17 -1.17h10.66l1.17 1.17v9.66l-1.17 1.17h-10.66l-1.17 -1.17zM968.64 69.21l1.17 -1.17h10.66l1.17 1.17v9.66l-1.17 1.17h-10.66l-1.17 -1.17zM968.82 68.94l1.17 -1.17h10.66l1.17 1.17v9.66l-1.17 1.17h-10.66l-1.17 -1.17zM969 68.67l1.17 -1.17h10.66l1.17 1.17v9.66l-1.17 1.17h-10.66l-1.17 -1.17zM969.18 68.4l1.17 -1.17h10.66l1.17 1.17v9.66l-1.17 1.17h-10.66l-1.17 -1.17zM969.36 68.13l1.17 -1.17h10.66l1.17 1.17v9.66l-1.17 1.17h-10.66l-1.17 -1.17zM969.54 67.86l1.17 -1.17h10.66l1.17 1.17v9.66l-1.17 1.17h-10.66l-1.17 -1.17zM969.72 67.59l1.17 -1.17h10.66l1.17 1.17v9.66l-1.17 1.17h-10.66l-1.17 -1.17zM969.9 67.33l1.17 -1.17h10.66l1.17 1.17v9.66l-1.17 1.17h-10.66l-1.17 -1.17zM970.08 67.07l1.17 -1.17h10.66l1.17 1.17v9.66l-1.17 1.17h-10.66l-1.17 -1.17zM970.26 66.81l1.17 -1.17h10.66l1.17 1.17v9.66l-1.17 1.17h-10.66l-1.17 -1.17zM970.44 66.56l1.17 -1.17h10.66l1.17 1.17v9.66l-1.17 1.17h-10.66l-1.17 -1.17zM970.62 66.32l1.17 -1.17h10.66l1.17 1.17v9.66l-1.17 1.17h-10.66l-1.17 -1.17zM970.8 66.08l1.17 -1.17h10.66l1.17 1.17v9.66l-1.17 1.17h-10.66l-1.17 -1.17zM970.98 65.84l1.17 -1.17h10.66l1.17 1.17v9.66l-1.17 1.17h-10.66l-1.17 -1.17zM971.16 65.62l1.17 -1.17h10.66l1.17 1.17v9.66l-1.17 1.17h-10.66l-1.17 -1.17zM971.34 65.4l1.17 -1.17h10.66l1.17 1.17v9.66l-1.17 1.17h-10.66l-1.17 -1.17zM971.52 65.19l1.17 -1.17h10.66l1.17 1.17v9.66l-1.17 1.17h-10.66l-1.17 -1.17zM971.7 64.98l1.17 -1.17h10.66l1.17 1.17v9.66l-1.17 1.17h-10.66l-1.17 -1.17zM971.88 64.79l1.17 -1.17h10.66l1.17 1.17v9.66l-1.17 1.17h-10.66l-1.17 -1.17zM972.06 64.6l1.17 -1.17h10.66l1.17 1.17v9.66l-1.17 1.17h-10.66l-1.17 -1.17zM972.24 64.4l1.17 -1.17h10.66l1.17 1.17v9.66l-1.17 1.17h-10.66l-1.17 -1.17zM972.42 64.19l1.17 -1.17h10.66l1.17 1.17v9.66l-1.17 1.17h-10.66l-1.17 -1.17zM972.6 63.98l1.17 -1.17h10.66l1.17 1.17v9.66l-1.17 1.17h-10.66l-1.17 -1.17zM972.78 63.78l1.17 -1.17h10.66l1.17 1.17v9.66l-1.17 1.17h-10.66l-1.17 -1.17zM972.96 63.59l1.17 -1.17h10.66l1.17 1.17v9.66l-1.17 1.17h-10.66l-1.17 -1.17zM973.14 63.41l1.17 -1.17h10.66l1.17 1.17v9.66l-1.17 1.17h-10.66l-1.17 -1.17zM973.32 63.26l1.17 -1.17h10.66l1.17 1.17v9.66l-1.17 1.17h-10.66l-1.17 -1.17zM973.5 63.13l1.17 -1.17h10.66l1.17 1.17v9.66l-1.17 1.17h-10.66l-1.17 -1.17zM973.68 63.04l1.17 -1.17h10.66l1.17 1.17v9.66l-1.17 1.17h-10.66l-1.17 -1.17zM973.86 62.98l1.17 -1.17h10.66l1.17 1.17v9.66l-1.17 1.17h-10.66l-1.17 -1.17zM974.04 62.97l1.17 -1.17h10.66l1.17 1.17v9.66l-1.17 1.17h-10.66l-1.17 -1.17z" fill="none" stroke="#0d880d" stroke-width="1.1"/>
<polyline points="980.54 67.8 981.89 68.07 983.24 68.9 984.59 71.24 985.94 73.64 987.29 75.78 988.64 77.92 989.99 80.07 991.34 82.21 992.69 84.36 994.04 86.5 995.39 88.65 996.74 90.79 998.09 92.93 999.44 95.06 1000.79 97.19 1002.14 99.32 1003.49 101.44 1004.84 103.56 1006.19 105.67 1007.54 107.77 1008.89 109.86 1010.24 111.95 1011.59 114.03 1012.94 116.1 1014.29 118.15 1015.64 120.2 1016.99 122.24 1018.34 124.26 1019.69 126.27 1021.04 128.27 1022.39 130.25 1023.74 132.22 1025.09 134.18 1026.44 136.11 1027.79 138.04 1029.14 139.94 1030.49 141.83 1031.84 143.7 1033.19 145.55 1034.54 147.38 1035.89 149.19 1037.24 150.98 1038.59 152.75 1039.94 154.5 1041.29 156.22 1042.64 157.93 1043.99 159.62 1045.34 161.28 1046.69 162.93 1048.04 164.55 1049.39 166.16 1050.74 167.75 1052.09 169.32 1053.44 170.88 1054.79 172.41 1056.14 173.93 1057.49 175.43 1058.84 176.92 1060.19 178.39 1061.54 179.84 1062.89 181.28 1064.24 182.7 1065.59 184.1 1066.94 185.5 1068.29 186.87 1069.64 188.24 1070.99 189.58 1072.34 190.92 1073.69 192.24 1075.04 193.55 1076.39 194.85 1077.74 196.14 1079.09 197.41 1080.44 198.67 1081.79 199.92 1083.14 201.16 1084.49 202.39 1085.84 203.61 1087.19 204.82 1088.54 206.02 1089.89 207.21 1091.24 208.39 1092.59 209.57 1093.94 210.73 1095.29 211.88 1096.64 213.02 1097.99 214.16 1099.34 215.28 1100.69 216.4 1102.04 217.51 1103.39 218.61 1104.74 219.71 1106.09 220.79 1107.44 221.87 1108.79 222.94 1110.14 224 1111.49 225.05 1112.84 226.1 1114.19 227.14 1115.54 228.17 1116.89 229.2 1118.24 230.22 1119.59 231.23 1120.94 232.23 1122.29 233.23 1123.64 234.23 1124.99 235.22 1126.34 236.2 1127.69 237.17 1129.04 238.14 1130.39 239.11 1131.74 240.07 1133.09 241.02 1134.44 241.97 1135.79 242.92 1137.14 243.86 1138.49 244.79 1139.84 245.72 1141.19 246.65 1142.54 247.57 1143.89 248.49 1145.24 249.4 1146.59 250.3 1147.94 251.21 1149.29 252.1 1150.64 253 1151.99 253.88 1153.34 254.77 1154.69 255.64 1156.04 256.52 1157.39 257.39 1158.74 258.25 1160.09 259.11 1161.44 259.97 1162.79 260.82 1164.14 261.67 1165.49 262.51 1166.84 263.34 1168.19 264.18 1169.54 265.01 1170.89 265.83 1172.24 266.65 1173.59 267.47 1174.94 268.28 1176.29 269.08 1177.64 269.88 1178.99 270.68 1180.34 271.48 1181.69 272.27 1183.04 273.05 1184.39 273.83 1185.74 274.61 1187.09 275.38 1188.44 276.15 1189.79 276.91 1191.14 277.67 1192.49 278.43 1193.84 279.18 1195.19 279.92 1196.54 280.67 1197.89 281.41 1199.24 282.14 1200.59 282.87 1201.94 283.6 1203.29 284.32 1204.64 285.04 1205.99 285.75 1207.34 286.46 1208.69 287.17 1210.04 287.87 1211.39 288.57 1212.74 289.27 1214.09 289.96 1215.44 290.65 1216.79 291.33 1218.14 292.01 1219.49 292.68 1220.84 293.35 1222.19 294.02 1223.54 294.69 1224.89 295.35 1226.24 296 1227.59 296.66 1228.94 297.31 1230.29 297.95 1231.64 298.59 1232.99 299.23 1234.34 299.86 1235.69 300.5 1237.04 301.12 1238.39 301.75 1239.74 302.37 1241.09 302.98 1242.44 303.59 1243.79 304.2 1245.14 304.81 1246.49 305.41 1247.84 306.01 1249.19 306.61 1250.54 307.2 1251.89 307.79 1253.24 308.37 1254.59 308.95 1255.94 309.53 1257.29 310.1 1258.64 310.68 1259.99 311.24 1261.34 311.81 1262.69 312.37 1264.04 312.93 1265.39 313.48 1266.74 314.03 1268.09 314.58 1269.44 315.13 1270.79 315.67 1272.14 316.21 1273.49 316.74 1274.84 317.28 1276.19 317.8 1277.54 318.33 1278.89 318.85 1280.24 319.37 1281.59 319.89 1282.94 320.4 1284.29 320.91 1285.64 321.42 1286.99 321.93 1288.34 322.43 1289.69 322.93 1291.04 323.42 1292.39 323.92 1293.74 324.41 1295.09 324.89 1296.44 325.38 1297.79 325.86 1299.14 326.34 1300.49 326.81 1301.84 327.28 1303.19 327.75 1304.54 328.22 1305.89 328.69 1307.24 329.15 1308.59 329.61 1309.94 330.06 1311.29 330.51 1312.64 330.97 1313.99 331.41 1315.34 331.86 1316.69 332.3 1318.04 332.74 1319.39 333.18 1320.74 333.61 1322.09 334.05 1323.44 334.48 1324.79 334.9 1326.14 335.33 1327.49 335.75 1328.84 336.17 1330.19 336.59 1331.54 337 1332.89 337.41 1334.24 337.82 1335.59 338.23 1336.94 338.63 1338.29 339.04 1339.64 339.44 1340.99 339.83 1342.34 340.23 1343.69 340.62 1345.04 341.01 1346.39 341.4 1347.74 341.79 1349.09 342.17 1350.44 342.56 1351.79 342.94 1353.14 343.31 1354.49 343.69 1355.84 344.06 1357.19 344.43 1358.54 344.8 1359.89 345.17 1361.24 345.53 1362.59 345.89 1363.94 346.26 1365.29 346.61 1366.64 346.97 1367.99 347.32 1369.34 347.68 1370.69 348.03 1372.04 348.38 1373.39 348.72 1374.74 349.07 1376.09 349.41 1377.44 349.75 1378.79 350.09 1380.14 350.43 1381.49 350.76 1382.84 351.1 1384.19 351.43 1385.54 351.76 1386.89 352.08 1388.24 352.41 1389.59 352.73 1390.94 353.06 1392.29 353.38 1393.64 353.7 1394.99 354.02 1396.34 354.33 1397.69 354.65 1399.04 354.96 1400.39 355.27 1401.74 355.58 1403.09 355.89 1404.44 356.19 1405.79 356.5 1407.14 356.8 1408.49 357.1 1409.84 357.4 1411.19 357.7 1412.54 358 1413.89 358.29 1415.24 358.59 1416.59 358.88 1417.94 359.17 1419.29 359.46 1420.64 359.75 1421.99 360.04 1423.34 360.33 1424.69 360.61 1426.04 360.89 1427.39 361.18 1428.74 361.46 1430.09 361.74 1431.44 362.02 1432.79 362.29 1434.14 362.57 1435.49 362.84 1436.84 363.12 1438.19 363.39 1439.54 363.66 1440.89 363.93 1442.24 364.2 1443.59 364.47 1444.94 364.74 1446.29 365 1447.64 365.27 1448.99 365.53 1450.34 365.79 1451.69 366.06 1453.04 366.32 1454.39 366.58 1455.74 366.84 1457.09 367.09 1458.44 367.35 1459.79 367.61 1461.14 367.86 1462.49 368.12 1463.84 368.37 1465.19 368.62" fill="none" stroke="#0d880d" stroke-width="13.5" stroke-linejoin="round" stroke-linecap="round"/>
</g>
<g clip-path="url(#cc)">
<path d="M158.75 1083.8l5.75 -6.25l5.75 6.25l-5.75 6.25zM158.93 1081.04l5.75 -6.25l5.75 6.25l-5.75 6.25zM159.11 1078.28l5.75 -6.25l5.75 6.25l-5.75 6.25zM159.29 1075.55l5.75 -6.25l5.75 6.25l-5.75 6.25zM159.47 1072.82l5.75 -6.25l5.75 6.25l-5.75 6.25zM159.65 1070.11l5.75 -6.25l5.75 6.25l-5.75 6.25zM159.83 1067.4l5.75 -6.25l5.75 6.25l-5.75 6.25zM160.01 1064.72l5.75 -6.25l5.75 6.25l-5.75 6.25zM160.19 1062.04l5.75 -6.25l5.75 6.25l-5.75 6.25zM160.37 1059.39l5.75 -6.25l5.75 6.25l-5.75 6.25zM160.55 1056.74l5.75 -6.25l5.75 6.25l-5.75 6.25zM160.73 1054.11l5.75 -6.25l5.75 6.25l-5.75 6.25zM160.91 1051.5l5.75 -6.25l5.75 6.25l-5.75 6.25zM161.09 1048.9l5.75 -6.25l5.75 6.25l-5.75 6.25zM161.27 1046.31l5.75 -6.25l5.75 6.25l-5.75 6.25zM161.45 1043.78l5.75 -6.25l5.75 6.25l-5.75 6.25zM161.63 1041.3l5.75 -6.25l5.75 6.25l-5.75 6.25zM161.81 1038.88l5.75 -6.25l5.75 6.25l-5.75 6.25zM161.99 1036.49l5.75 -6.25l5.75 6.25l-5.75 6.25zM162.17 1034.13l5.75 -6.25l5.75 6.25l-5.75 6.25zM162.35 1031.79l5.75 -6.25l5.75 6.25l-5.75 6.25zM162.53 1029.45l5.75 -6.25l5.75 6.25l-5.75 6.25zM162.71 1027.11l5.75 -6.25l5.75 6.25l-5.75 6.25zM162.89 1024.75l5.75 -6.25l5.75 6.25l-5.75 6.25zM163.07 1022.36l5.75 -6.25l5.75 6.25l-5.75 6.25zM163.25 1019.94l5.75 -6.25l5.75 6.25l-5.75 6.25zM163.43 1017.47l5.75 -6.25l5.75 6.25l-5.75 6.25zM163.61 1014.94l5.75 -6.25l5.75 6.25l-5.75 6.25zM163.79 1012.34l5.75 -6.25l5.75 6.25l-5.75 6.25zM163.97 1009.66l5.75 -6.25l5.75 6.25l-5.75 6.25zM164.15 1006.88l5.75 -6.25l5.75 6.25l-5.75 6.25zM164.33 1004l5.75 -6.25l5.75 6.25l-5.75 6.25zM164.51 1000.99l5.75 -6.25l5.75 6.25l-5.75 6.25zM164.69 997.85l5.75 -6.25l5.75 6.25l-5.75 6.25zM164.87 994.6l5.75 -6.25l5.75 6.25l-5.75 6.25zM165.05 991.26l5.75 -6.25l5.75 6.25l-5.75 6.25zM165.23 987.85l5.75 -6.25l5.75 6.25l-5.75 6.25zM165.41 984.37l5.75 -6.25l5.75 6.25l-5.75 6.25zM165.59 980.86l5.75 -6.25l5.75 6.25l-5.75 6.25zM165.77 977.32l5.75 -6.25l5.75 6.25l-5.75 6.25zM165.95 973.77l5.75 -6.25l5.75 6.25l-5.75 6.25zM166.13 970.23l5.75 -6.25l5.75 6.25l-5.75 6.25zM166.31 966.71l5.75 -6.25l5.75 6.25l-5.75 6.25zM166.49 963.23l5.75 -6.25l5.75 6.25l-5.75 6.25zM166.67 959.76l5.75 -6.25l5.75 6.25l-5.75 6.25zM166.85 956.27l5.75 -6.25l5.75 6.25l-5.75 6.25zM167.03 952.76l5.75 -6.25l5.75 6.25l-5.75 6.25zM167.21 949.25l5.75 -6.25l5.75 6.25l-5.75 6.25zM167.39 945.71l5.75 -6.25l5.75 6.25l-5.75 6.25zM167.57 942.17l5.75 -6.25l5.75 6.25l-5.75 6.25zM167.75 938.6l5.75 -6.25l5.75 6.25l-5.75 6.25zM167.93 935.03l5.75 -6.25l5.75 6.25l-5.75 6.25zM168.11 931.44l5.75 -6.25l5.75 6.25l-5.75 6.25zM168.29 927.83l5.75 -6.25l5.75 6.25l-5.75 6.25zM168.47 924.21l5.75 -6.25l5.75 6.25l-5.75 6.25zM168.65 920.57l5.75 -6.25l5.75 6.25l-5.75 6.25zM168.83 916.83l5.75 -6.25l5.75 6.25l-5.75 6.25zM169.01 913.02l5.75 -6.25l5.75 6.25l-5.75 6.25zM169.19 909.16l5.75 -6.25l5.75 6.25l-5.75 6.25zM169.37 905.29l5.75 -6.25l5.75 6.25l-5.75 6.25zM169.55 901.42l5.75 -6.25l5.75 6.25l-5.75 6.25zM169.73 897.59l5.75 -6.25l5.75 6.25l-5.75 6.25zM169.91 893.82l5.75 -6.25l5.75 6.25l-5.75 6.25zM170.09 890.13l5.75 -6.25l5.75 6.25l-5.75 6.25zM170.27 886.56l5.75 -6.25l5.75 6.25l-5.75 6.25zM170.45 883.13l5.75 -6.25l5.75 6.25l-5.75 6.25zM170.63 879.86l5.75 -6.25l5.75 6.25l-5.75 6.25zM170.81 876.65l5.75 -6.25l5.75 6.25l-5.75 6.25zM170.99 873.49l5.75 -6.25l5.75 6.25l-5.75 6.25zM171.17 870.38l5.75 -6.25l5.75 6.25l-5.75 6.25zM171.35 867.32l5.75 -6.25l5.75 6.25l-5.75 6.25zM171.53 864.31l5.75 -6.25l5.75 6.25l-5.75 6.25zM171.71 861.36l5.75 -6.25l5.75 6.25l-5.75 6.25zM171.89 858.47l5.75 -6.25l5.75 6.25l-5.75 6.25zM172.07 855.63l5.75 -6.25l5.75 6.25l-5.75 6.25zM172.25 852.86l5.75 -6.25l5.75 6.25l-5.75 6.25zM172.43 850.15l5.75 -6.25l5.75 6.25l-5.75 6.25zM172.61 847.51l5.75 -6.25l5.75 6.25l-5.75 6.25zM172.79 844.94l5.75 -6.25l5.75 6.25l-5.75 6.25zM172.97 842.43l5.75 -6.25l5.75 6.25l-5.75 6.25zM173.15 840l5.75 -6.25l5.75 6.25l-5.75 6.25zM173.33 837.65l5.75 -6.25l5.75 6.25l-5.75 6.25zM173.51 835.37l5.75 -6.25l5.75 6.25l-5.75 6.25zM173.69 833.17l5.75 -6.25l5.75 6.25l-5.75 6.25zM173.87 831.03l5.75 -6.25l5.75 6.25l-5.75 6.25zM174.05 828.95l5.75 -6.25l5.75 6.25l-5.75 6.25zM174.23 826.92l5.75 -6.25l5.75 6.25l-5.75 6.25zM174.41 824.94l5.75 -6.25l5.75 6.25l-5.75 6.25zM174.59 823l5.75 -6.25l5.75 6.25l-5.75 6.25zM174.77 821.09l5.75 -6.25l5.75 6.25l-5.75 6.25zM174.95 819.21l5.75 -6.25l5.75 6.25l-5.75 6.25zM175.13 817.35l5.75 -6.25l5.75 6.25l-5.75 6.25zM175.31 815.51l5.75 -6.25l5.75 6.25l-5.75 6.25zM175.49 813.67l5.75 -6.25l5.75 6.25l-5.75 6.25zM175.67 811.84l5.75 -6.25l5.75 6.25l-5.75 6.25zM175.85 810.01l5.75 -6.25l5.75 6.25l-5.75 6.25zM176.03 808.16l5.75 -6.25l5.75 6.25l-5.75 6.25zM176.21 806.3l5.75 -6.25l5.75 6.25l-5.75 6.25zM176.39 804.42l5.75 -6.25l5.75 6.25l-5.75 6.25zM176.57 802.5l5.75 -6.25l5.75 6.25l-5.75 6.25zM176.75 800.55l5.75 -6.25l5.75 6.25l-5.75 6.25zM176.93 798.56l5.75 -6.25l5.75 6.25l-5.75 6.25zM177.11 796.53l5.75 -6.25l5.75 6.25l-5.75 6.25zM177.29 794.43l5.75 -6.25l5.75 6.25l-5.75 6.25zM177.47 792.28l5.75 -6.25l5.75 6.25l-5.75 6.25zM177.65 790.06l5.75 -6.25l5.75 6.25l-5.75 6.25zM177.83 787.77l5.75 -6.25l5.75 6.25l-5.75 6.25zM178.01 785.4l5.75 -6.25l5.75 6.25l-5.75 6.25zM178.19 782.95l5.75 -6.25l5.75 6.25l-5.75 6.25zM178.37 780.43l5.75 -6.25l5.75 6.25l-5.75 6.25zM178.55 777.85l5.75 -6.25l5.75 6.25l-5.75 6.25zM178.73 775.23l5.75 -6.25l5.75 6.25l-5.75 6.25zM178.91 772.56l5.75 -6.25l5.75 6.25l-5.75 6.25zM179.09 769.87l5.75 -6.25l5.75 6.25l-5.75 6.25zM179.27 767.14l5.75 -6.25l5.75 6.25l-5.75 6.25zM179.45 764.41l5.75 -6.25l5.75 6.25l-5.75 6.25zM179.63 761.67l5.75 -6.25l5.75 6.25l-5.75 6.25zM179.81 758.93l5.75 -6.25l5.75 6.25l-5.75 6.25zM179.99 756.2l5.75 -6.25l5.75 6.25l-5.75 6.25zM180.17 753.49l5.75 -6.25l5.75 6.25l-5.75 6.25zM180.35 750.81l5.75 -6.25l5.75 6.25l-5.75 6.25zM180.53 748.17l5.75 -6.25l5.75 6.25l-5.75 6.25zM180.71 745.57l5.75 -6.25l5.75 6.25l-5.75 6.25zM180.89 742.96l5.75 -6.25l5.75 6.25l-5.75 6.25zM181.07 740.22l5.75 -6.25l5.75 6.25l-5.75 6.25zM181.25 737.4l5.75 -6.25l5.75 6.25l-5.75 6.25zM181.43 734.55l5.75 -6.25l5.75 6.25l-5.75 6.25zM181.61 731.73l5.75 -6.25l5.75 6.25l-5.75 6.25zM181.79 728.99l5.75 -6.25l5.75 6.25l-5.75 6.25zM181.97 726.37l5.75 -6.25l5.75 6.25l-5.75 6.25zM182.15 723.94l5.75 -6.25l5.75 6.25l-5.75 6.25zM182.33 721.75l5.75 -6.25l5.75 6.25l-5.75 6.25zM182.51 719.84l5.75 -6.25l5.75 6.25l-5.75 6.25zM182.69 718.28l5.75 -6.25l5.75 6.25l-5.75 6.25zM183.05 715.58l5.75 -6.25l5.75 6.25l-5.75 6.25zM183.41 713.19l5.75 -6.25l5.75 6.25l-5.75 6.25zM183.77 711.06l5.75 -6.25l5.75 6.25l-5.75 6.25zM184.13 709.14l5.75 -6.25l5.75 6.25l-5.75 6.25zM184.49 707.38l5.75 -6.25l5.75 6.25l-5.75 6.25zM184.85 705.72l5.75 -6.25l5.75 6.25l-5.75 6.25zM185.21 704.13l5.75 -6.25l5.75 6.25l-5.75 6.25zM185.57 702.55l5.75 -6.25l5.75 6.25l-5.75 6.25zM185.93 700.94l5.75 -6.25l5.75 6.25l-5.75 6.25zM186.29 699.29l5.75 -6.25l5.75 6.25l-5.75 6.25zM186.65 697.66l5.75 -6.25l5.75 6.25l-5.75 6.25zM187.01 696.06l5.75 -6.25l5.75 6.25l-5.75 6.25zM187.37 694.51l5.75 -6.25l5.75 6.25l-5.75 6.25zM187.73 693.02l5.75 -6.25l5.75 6.25l-5.75 6.25zM188.27 690.98l5.75 -6.25l5.75 6.25l-5.75 6.25zM188.81 689.2l5.75 -6.25l5.75 6.25l-5.75 6.25zM189.35 687.76l5.75 -6.25l5.75 6.25l-5.75 6.25zM190.07 686.09l5.75 -6.25l5.75 6.25l-5.75 6.25zM190.79 684.58l5.75 -6.25l5.75 6.25l-5.75 6.25zM191.69 682.97l5.75 -6.25l5.75 6.25l-5.75 6.25zM192.05 682.41l5.75 -6.25l5.75 6.25l-5.75 6.25zM192.23 682.16l5.75 -6.25l5.75 6.25l-5.75 6.25zM192.41 681.92l5.75 -6.25l5.75 6.25l-5.75 6.25zM192.59 681.69l5.75 -6.25l5.75 6.25l-5.75 6.25zM192.77 681.48l5.75 -6.25l5.75 6.25l-5.75 6.25zM192.95 681.29l5.75 -6.25l5.75 6.25l-5.75 6.25zM193.13 681.11l5.75 -6.25l5.75 6.25l-5.75 6.25zM193.31 680.95l5.75 -6.25l5.75 6.25l-5.75 6.25zM193.49 680.79l5.75 -6.25l5.75 6.25l-5.75 6.25zM193.67 680.63l5.75 -6.25l5.75 6.25l-5.75 6.25zM193.85 680.48l5.75 -6.25l5.75 6.25l-5.75 6.25zM194.03 680.33l5.75 -6.25l5.75 6.25l-5.75 6.25zM194.21 680.18l5.75 -6.25l5.75 6.25l-5.75 6.25zM194.39 680.03l5.75 -6.25l5.75 6.25l-5.75 6.25zM194.57 679.88l5.75 -6.25l5.75 6.25l-5.75 6.25zM194.75 679.74l5.75 -6.25l5.75 6.25l-5.75 6.25zM194.93 679.6l5.75 -6.25l5.75 6.25l-5.75 6.25zM195.11 679.46l5.75 -6.25l5.75 6.25l-5.75 6.25zM195.29 679.33l5.75 -6.25l5.75 6.25l-5.75 6.25zM195.47 679.2l5.75 -6.25l5.75 6.25l-5.75 6.25zM195.65 679.08l5.75 -6.25l5.75 6.25l-5.75 6.25zM195.83 678.96l5.75 -6.25l5.75 6.25l-5.75 6.25zM196.01 678.85l5.75 -6.25l5.75 6.25l-5.75 6.25zM196.19 678.74l5.75 -6.25l5.75 6.25l-5.75 6.25zM196.37 678.64l5.75 -6.25l5.75 6.25l-5.75 6.25zM196.55 678.55l5.75 -6.25l5.75 6.25l-5.75 6.25zM196.73 678.46l5.75 -6.25l5.75 6.25l-5.75 6.25zM196.91 678.38l5.75 -6.25l5.75 6.25l-5.75 6.25zM197.09 678.3l5.75 -6.25l5.75 6.25l-5.75 6.25zM197.27 678.23l5.75 -6.25l5.75 6.25l-5.75 6.25zM197.45 678.18l5.75 -6.25l5.75 6.25l-5.75 6.25zM197.63 678.12l5.75 -6.25l5.75 6.25l-5.75 6.25zM197.81 678.08l5.75 -6.25l5.75 6.25l-5.75 6.25zM197.99 678.05l5.75 -6.25l5.75 6.25l-5.75 6.25zM198.17 678.02l5.75 -6.25l5.75 6.25l-5.75 6.25zM198.35 678.01l5.75 -6.25l5.75 6.25l-5.75 6.25zM198.53 678l5.75 -6.25l5.75 6.25l-5.75 6.25zM198.71 678.01l5.75 -6.25l5.75 6.25l-5.75 6.25zM198.89 678.03l5.75 -6.25l5.75 6.25l-5.75 6.25zM199.07 678.06l5.75 -6.25l5.75 6.25l-5.75 6.25zM199.25 678.11l5.75 -6.25l5.75 6.25l-5.75 6.25zM199.43 678.17l5.75 -6.25l5.75 6.25l-5.75 6.25zM199.61 678.25l5.75 -6.25l5.75 6.25l-5.75 6.25zM199.79 678.33l5.75 -6.25l5.75 6.25l-5.75 6.25zM199.97 678.42l5.75 -6.25l5.75 6.25l-5.75 6.25zM200.15 678.52l5.75 -6.25l5.75 6.25l-5.75 6.25zM200.33 678.63l5.75 -6.25l5.75 6.25l-5.75 6.25zM200.51 678.74l5.75 -6.25l5.75 6.25l-5.75 6.25zM200.69 678.86l5.75 -6.25l5.75 6.25l-5.75 6.25zM200.87 678.99l5.75 -6.25l5.75 6.25l-5.75 6.25zM201.05 679.12l5.75 -6.25l5.75 6.25l-5.75 6.25zM201.23 679.25l5.75 -6.25l5.75 6.25l-5.75 6.25zM201.41 679.38l5.75 -6.25l5.75 6.25l-5.75 6.25zM201.59 679.52l5.75 -6.25l5.75 6.25l-5.75 6.25zM201.77 679.65l5.75 -6.25l5.75 6.25l-5.75 6.25zM201.95 679.78l5.75 -6.25l5.75 6.25l-5.75 6.25zM202.13 679.91l5.75 -6.25l5.75 6.25l-5.75 6.25zM202.31 680.04l5.75 -6.25l5.75 6.25l-5.75 6.25zM202.49 680.2l5.75 -6.25l5.75 6.25l-5.75 6.25zM202.67 680.37l5.75 -6.25l5.75 6.25l-5.75 6.25zM202.85 680.58l5.75 -6.25l5.75 6.25l-5.75 6.25zM203.03 680.79l5.75 -6.25l5.75 6.25l-5.75 6.25zM203.21 681.02l5.75 -6.25l5.75 6.25l-5.75 6.25zM203.39 681.26l5.75 -6.25l5.75 6.25l-5.75 6.25zM203.57 681.51l5.75 -6.25l5.75 6.25l-5.75 6.25zM203.75 681.75l5.75 -6.25l5.75 6.25l-5.75 6.25zM203.93 681.99l5.75 -6.25l5.75 6.25l-5.75 6.25zM204.11 682.22l5.75 -6.25l5.75 6.25l-5.75 6.25zM204.29 682.43l5.75 -6.25l5.75 6.25l-5.75 6.25zM206.81 682.59l5.75 -6.25l5.75 6.25l-5.75 6.25zM206.99 682.44l5.75 -6.25l5.75 6.25l-5.75 6.25zM207.17 682.27l5.75 -6.25l5.75 6.25l-5.75 6.25zM207.35 682.09l5.75 -6.25l5.75 6.25l-5.75 6.25zM207.53 681.91l5.75 -6.25l5.75 6.25l-5.75 6.25zM207.71 681.72l5.75 -6.25l5.75 6.25l-5.75 6.25zM207.89 681.52l5.75 -6.25l5.75 6.25l-5.75 6.25zM208.07 681.32l5.75 -6.25l5.75 6.25l-5.75 6.25zM208.25 681.11l5.75 -6.25l5.75 6.25l-5.75 6.25zM208.43 680.91l5.75 -6.25l5.75 6.25l-5.75 6.25zM208.61 680.7l5.75 -6.25l5.75 6.25l-5.75 6.25zM208.79 680.5l5.75 -6.25l5.75 6.25l-5.75 6.25zM208.97 680.3l5.75 -6.25l5.75 6.25l-5.75 6.25zM209.15 680.11l5.75 -6.25l5.75 6.25l-5.75 6.25zM209.33 679.91l5.75 -6.25l5.75 6.25l-5.75 6.25zM209.51 679.71l5.75 -6.25l5.75 6.25l-5.75 6.25zM209.69 679.49l5.75 -6.25l5.75 6.25l-5.75 6.25zM209.87 679.26l5.75 -6.25l5.75 6.25l-5.75 6.25zM210.05 679.01l5.75 -6.25l5.75 6.25l-5.75 6.25zM210.23 678.76l5.75 -6.25l5.75 6.25l-5.75 6.25zM210.41 678.5l5.75 -6.25l5.75 6.25l-5.75 6.25zM210.59 678.24l5.75 -6.25l5.75 6.25l-5.75 6.25zM210.77 677.97l5.75 -6.25l5.75 6.25l-5.75 6.25zM210.95 677.7l5.75 -6.25l5.75 6.25l-5.75 6.25zM211.13 677.44l5.75 -6.25l5.75 6.25l-5.75 6.25zM211.31 677.18l5.75 -6.25l5.75 6.25l-5.75 6.25zM211.49 676.93l5.75 -6.25l5.75 6.25l-5.75 6.25zM211.67 676.69l5.75 -6.25l5.75 6.25l-5.75 6.25zM211.85 676.46l5.75 -6.25l5.75 6.25l-5.75 6.25zM212.03 676.24l5.75 -6.25l5.75 6.25l-5.75 6.25zM212.21 676.04l5.75 -6.25l5.75 6.25l-5.75 6.25zM212.39 675.85l5.75 -6.25l5.75 6.25l-5.75 6.25zM212.57 675.65l5.75 -6.25l5.75 6.25l-5.75 6.25zM212.75 675.45l5.75 -6.25l5.75 6.25l-5.75 6.25zM212.93 675.24l5.75 -6.25l5.75 6.25l-5.75 6.25zM213.11 675.03l5.75 -6.25l5.75 6.25l-5.75 6.25zM213.29 674.82l5.75 -6.25l5.75 6.25l-5.75 6.25zM213.47 674.63l5.75 -6.25l5.75 6.25l-5.75 6.25zM213.65 674.44l5.75 -6.25l5.75 6.25l-5.75 6.25zM213.83 674.26l5.75 -6.25l5.75 6.25l-5.75 6.25zM214.01 674.09l5.75 -6.25l5.75 6.25l-5.75 6.25zM214.19 673.95l5.75 -6.25l5.75 6.25l-5.75 6.25zM214.37 673.83l5.75 -6.25l5.75 6.25l-5.75 6.25zM214.55 673.73l5.75 -6.25l5.75 6.25l-5.75 6.25zM214.73 673.65l5.75 -6.25l5.75 6.25l-5.75 6.25zM214.91 673.61l5.75 -6.25l5.75 6.25l-5.75 6.25zM215.09 673.6l5.75 -6.25l5.75 6.25l-5.75 6.25z" fill="none" stroke="#8a0505" stroke-width="0.95"/>
<path d="M215.09 673.6l5.75 -6.25l5.75 6.25l-5.75 6.25zM215.59 673.98l5.75 -6.25l5.75 6.25l-5.75 6.25zM216.09 674.86l5.75 -6.25l5.75 6.25l-5.75 6.25zM216.59 676.08l5.75 -6.25l5.75 6.25l-5.75 6.25zM217.09 677.43l5.75 -6.25l5.75 6.25l-5.75 6.25zM217.59 678.77l5.75 -6.25l5.75 6.25l-5.75 6.25zM218.09 680.37l5.75 -6.25l5.75 6.25l-5.75 6.25zM218.59 682.26l5.75 -6.25l5.75 6.25l-5.75 6.25zM219.09 684.3l5.75 -6.25l5.75 6.25l-5.75 6.25zM219.59 686.37l5.75 -6.25l5.75 6.25l-5.75 6.25zM220.09 688.34l5.75 -6.25l5.75 6.25l-5.75 6.25zM220.59 690.08l5.75 -6.25l5.75 6.25l-5.75 6.25zM221.09 691.69l5.75 -6.25l5.75 6.25l-5.75 6.25zM221.59 693.24l5.75 -6.25l5.75 6.25l-5.75 6.25zM222.09 694.73l5.75 -6.25l5.75 6.25l-5.75 6.25zM222.59 696.19l5.75 -6.25l5.75 6.25l-5.75 6.25zM223.09 697.63l5.75 -6.25l5.75 6.25l-5.75 6.25zM223.59 699.07l5.75 -6.25l5.75 6.25l-5.75 6.25zM224.09 700.47l5.75 -6.25l5.75 6.25l-5.75 6.25zM224.59 701.84l5.75 -6.25l5.75 6.25l-5.75 6.25zM225.09 703.2l5.75 -6.25l5.75 6.25l-5.75 6.25zM225.59 704.55l5.75 -6.25l5.75 6.25l-5.75 6.25zM226.09 705.92l5.75 -6.25l5.75 6.25l-5.75 6.25zM226.59 707.3l5.75 -6.25l5.75 6.25l-5.75 6.25zM227.09 708.69l5.75 -6.25l5.75 6.25l-5.75 6.25zM227.59 710.08l5.75 -6.25l5.75 6.25l-5.75 6.25zM228.09 711.48l5.75 -6.25l5.75 6.25l-5.75 6.25zM228.59 712.9l5.75 -6.25l5.75 6.25l-5.75 6.25zM229.09 714.35l5.75 -6.25l5.75 6.25l-5.75 6.25zM229.59 715.83l5.75 -6.25l5.75 6.25l-5.75 6.25zM230.09 717.35l5.75 -6.25l5.75 6.25l-5.75 6.25zM230.59 718.89l5.75 -6.25l5.75 6.25l-5.75 6.25zM231.09 720.46l5.75 -6.25l5.75 6.25l-5.75 6.25zM231.59 722.06l5.75 -6.25l5.75 6.25l-5.75 6.25zM232.09 723.69l5.75 -6.25l5.75 6.25l-5.75 6.25zM232.59 725.33l5.75 -6.25l5.75 6.25l-5.75 6.25zM233.09 727.01l5.75 -6.25l5.75 6.25l-5.75 6.25zM233.59 728.72l5.75 -6.25l5.75 6.25l-5.75 6.25zM234.09 730.46l5.75 -6.25l5.75 6.25l-5.75 6.25zM234.59 732.22l5.75 -6.25l5.75 6.25l-5.75 6.25zM235.09 733.99l5.75 -6.25l5.75 6.25l-5.75 6.25zM235.59 735.78l5.75 -6.25l5.75 6.25l-5.75 6.25zM236.09 737.58l5.75 -6.25l5.75 6.25l-5.75 6.25zM236.59 739.41l5.75 -6.25l5.75 6.25l-5.75 6.25zM237.09 741.25l5.75 -6.25l5.75 6.25l-5.75 6.25zM237.59 743.1l5.75 -6.25l5.75 6.25l-5.75 6.25zM238.09 744.96l5.75 -6.25l5.75 6.25l-5.75 6.25zM238.59 746.82l5.75 -6.25l5.75 6.25l-5.75 6.25zM239.09 748.69l5.75 -6.25l5.75 6.25l-5.75 6.25zM239.59 750.58l5.75 -6.25l5.75 6.25l-5.75 6.25zM240.09 752.47l5.75 -6.25l5.75 6.25l-5.75 6.25zM240.59 754.36l5.75 -6.25l5.75 6.25l-5.75 6.25zM241.09 756.25l5.75 -6.25l5.75 6.25l-5.75 6.25zM241.59 758.14l5.75 -6.25l5.75 6.25l-5.75 6.25zM242.09 760.02l5.75 -6.25l5.75 6.25l-5.75 6.25zM242.59 761.91l5.75 -6.25l5.75 6.25l-5.75 6.25zM243.09 763.79l5.75 -6.25l5.75 6.25l-5.75 6.25zM243.59 765.67l5.75 -6.25l5.75 6.25l-5.75 6.25zM244.09 767.54l5.75 -6.25l5.75 6.25l-5.75 6.25zM244.59 769.39l5.75 -6.25l5.75 6.25l-5.75 6.25zM245.09 771.23l5.75 -6.25l5.75 6.25l-5.75 6.25zM245.59 773.06l5.75 -6.25l5.75 6.25l-5.75 6.25zM246.09 774.88l5.75 -6.25l5.75 6.25l-5.75 6.25zM246.59 776.69l5.75 -6.25l5.75 6.25l-5.75 6.25zM247.09 778.48l5.75 -6.25l5.75 6.25l-5.75 6.25zM247.59 780.24l5.75 -6.25l5.75 6.25l-5.75 6.25zM248.09 781.98l5.75 -6.25l5.75 6.25l-5.75 6.25zM248.59 783.7l5.75 -6.25l5.75 6.25l-5.75 6.25zM249.09 785.41l5.75 -6.25l5.75 6.25l-5.75 6.25zM249.59 787.09l5.75 -6.25l5.75 6.25l-5.75 6.25zM250.09 788.76l5.75 -6.25l5.75 6.25l-5.75 6.25zM250.59 790.41l5.75 -6.25l5.75 6.25l-5.75 6.25zM251.09 792.03l5.75 -6.25l5.75 6.25l-5.75 6.25zM251.59 793.64l5.75 -6.25l5.75 6.25l-5.75 6.25zM252.09 795.23l5.75 -6.25l5.75 6.25l-5.75 6.25zM252.59 796.8l5.75 -6.25l5.75 6.25l-5.75 6.25zM253.09 798.36l5.75 -6.25l5.75 6.25l-5.75 6.25zM253.59 799.91l5.75 -6.25l5.75 6.25l-5.75 6.25zM254.09 801.44l5.75 -6.25l5.75 6.25l-5.75 6.25zM254.59 802.96l5.75 -6.25l5.75 6.25l-5.75 6.25zM255.09 804.46l5.75 -6.25l5.75 6.25l-5.75 6.25zM255.59 805.96l5.75 -6.25l5.75 6.25l-5.75 6.25zM256.09 807.44l5.75 -6.25l5.75 6.25l-5.75 6.25zM256.59 808.91l5.75 -6.25l5.75 6.25l-5.75 6.25zM257.09 810.38l5.75 -6.25l5.75 6.25l-5.75 6.25zM257.59 811.83l5.75 -6.25l5.75 6.25l-5.75 6.25zM258.09 813.28l5.75 -6.25l5.75 6.25l-5.75 6.25zM258.59 814.71l5.75 -6.25l5.75 6.25l-5.75 6.25zM259.09 816.13l5.75 -6.25l5.75 6.25l-5.75 6.25zM259.59 817.53l5.75 -6.25l5.75 6.25l-5.75 6.25zM260.09 818.93l5.75 -6.25l5.75 6.25l-5.75 6.25zM260.59 820.31l5.75 -6.25l5.75 6.25l-5.75 6.25zM261.09 821.69l5.75 -6.25l5.75 6.25l-5.75 6.25zM261.59 823.05l5.75 -6.25l5.75 6.25l-5.75 6.25zM262.09 824.4l5.75 -6.25l5.75 6.25l-5.75 6.25zM262.59 825.73l5.75 -6.25l5.75 6.25l-5.75 6.25zM263.09 827.05l5.75 -6.25l5.75 6.25l-5.75 6.25zM263.59 828.36l5.75 -6.25l5.75 6.25l-5.75 6.25zM264.09 829.66l5.75 -6.25l5.75 6.25l-5.75 6.25zM264.59 830.94l5.75 -6.25l5.75 6.25l-5.75 6.25zM265.09 832.21l5.75 -6.25l5.75 6.25l-5.75 6.25zM265.59 833.46l5.75 -6.25l5.75 6.25l-5.75 6.25zM266.09 834.7l5.75 -6.25l5.75 6.25l-5.75 6.25zM266.59 835.93l5.75 -6.25l5.75 6.25l-5.75 6.25zM267.09 837.15l5.75 -6.25l5.75 6.25l-5.75 6.25zM267.59 838.35l5.75 -6.25l5.75 6.25l-5.75 6.25zM268.09 839.53l5.75 -6.25l5.75 6.25l-5.75 6.25zM268.59 840.71l5.75 -6.25l5.75 6.25l-5.75 6.25zM269.09 841.87l5.75 -6.25l5.75 6.25l-5.75 6.25zM269.59 843.02l5.75 -6.25l5.75 6.25l-5.75 6.25zM270.09 844.15l5.75 -6.25l5.75 6.25l-5.75 6.25zM270.59 845.28l5.75 -6.25l5.75 6.25l-5.75 6.25zM271.09 846.39l5.75 -6.25l5.75 6.25l-5.75 6.25zM271.59 847.49l5.75 -6.25l5.75 6.25l-5.75 6.25zM272.09 848.57l5.75 -6.25l5.75 6.25l-5.75 6.25zM272.59 849.65l5.75 -6.25l5.75 6.25l-5.75 6.25zM273.09 850.71l5.75 -6.25l5.75 6.25l-5.75 6.25zM273.59 851.76l5.75 -6.25l5.75 6.25l-5.75 6.25zM274.09 852.8l5.75 -6.25l5.75 6.25l-5.75 6.25zM274.59 853.83l5.75 -6.25l5.75 6.25l-5.75 6.25zM275.09 854.85l5.75 -6.25l5.75 6.25l-5.75 6.25zM275.59 855.86l5.75 -6.25l5.75 6.25l-5.75 6.25zM276.09 856.85l5.75 -6.25l5.75 6.25l-5.75 6.25zM276.59 857.84l5.75 -6.25l5.75 6.25l-5.75 6.25zM277.09 858.81l5.75 -6.25l5.75 6.25l-5.75 6.25zM277.59 859.77l5.75 -6.25l5.75 6.25l-5.75 6.25zM278.09 860.73l5.75 -6.25l5.75 6.25l-5.75 6.25zM278.59 861.67l5.75 -6.25l5.75 6.25l-5.75 6.25zM279.09 862.6l5.75 -6.25l5.75 6.25l-5.75 6.25zM279.59 863.52l5.75 -6.25l5.75 6.25l-5.75 6.25zM280.09 864.44l5.75 -6.25l5.75 6.25l-5.75 6.25zM280.59 865.34l5.75 -6.25l5.75 6.25l-5.75 6.25zM281.09 866.23l5.75 -6.25l5.75 6.25l-5.75 6.25zM281.59 867.12l5.75 -6.25l5.75 6.25l-5.75 6.25zM282.09 867.99l5.75 -6.25l5.75 6.25l-5.75 6.25zM282.59 868.86l5.75 -6.25l5.75 6.25l-5.75 6.25zM283.09 869.72l5.75 -6.25l5.75 6.25l-5.75 6.25zM283.59 870.56l5.75 -6.25l5.75 6.25l-5.75 6.25zM284.09 871.4l5.75 -6.25l5.75 6.25l-5.75 6.25zM284.59 872.23l5.75 -6.25l5.75 6.25l-5.75 6.25zM285.09 873.06l5.75 -6.25l5.75 6.25l-5.75 6.25zM285.59 873.87l5.75 -6.25l5.75 6.25l-5.75 6.25zM286.09 874.68l5.75 -6.25l5.75 6.25l-5.75 6.25zM286.59 875.47l5.75 -6.25l5.75 6.25l-5.75 6.25zM287.09 876.26l5.75 -6.25l5.75 6.25l-5.75 6.25zM287.59 877.05l5.75 -6.25l5.75 6.25l-5.75 6.25zM288.09 877.82l5.75 -6.25l5.75 6.25l-5.75 6.25zM288.59 878.59l5.75 -6.25l5.75 6.25l-5.75 6.25zM289.09 879.35l5.75 -6.25l5.75 6.25l-5.75 6.25zM289.59 880.1l5.75 -6.25l5.75 6.25l-5.75 6.25zM290.09 880.85l5.75 -6.25l5.75 6.25l-5.75 6.25zM290.59 881.59l5.75 -6.25l5.75 6.25l-5.75 6.25zM291.09 882.32l5.75 -6.25l5.75 6.25l-5.75 6.25zM291.59 883.05l5.75 -6.25l5.75 6.25l-5.75 6.25zM292.09 883.77l5.75 -6.25l5.75 6.25l-5.75 6.25zM292.59 884.48l5.75 -6.25l5.75 6.25l-5.75 6.25zM293.09 885.19l5.75 -6.25l5.75 6.25l-5.75 6.25zM293.59 885.89l5.75 -6.25l5.75 6.25l-5.75 6.25zM294.09 886.59l5.75 -6.25l5.75 6.25l-5.75 6.25zM294.59 887.28l5.75 -6.25l5.75 6.25l-5.75 6.25zM295.09 887.96l5.75 -6.25l5.75 6.25l-5.75 6.25zM295.59 888.64l5.75 -6.25l5.75 6.25l-5.75 6.25zM296.09 889.31l5.75 -6.25l5.75 6.25l-5.75 6.25zM296.59 889.98l5.75 -6.25l5.75 6.25l-5.75 6.25zM297.09 890.64l5.75 -6.25l5.75 6.25l-5.75 6.25zM297.59 891.3l5.75 -6.25l5.75 6.25l-5.75 6.25zM298.09 891.96l5.75 -6.25l5.75 6.25l-5.75 6.25zM298.59 892.61l5.75 -6.25l5.75 6.25l-5.75 6.25zM299.09 893.25l5.75 -6.25l5.75 6.25l-5.75 6.25zM299.59 893.89l5.75 -6.25l5.75 6.25l-5.75 6.25zM300.09 894.53l5.75 -6.25l5.75 6.25l-5.75 6.25zM300.59 895.16l5.75 -6.25l5.75 6.25l-5.75 6.25zM301.09 895.79l5.75 -6.25l5.75 6.25l-5.75 6.25zM301.59 896.41l5.75 -6.25l5.75 6.25l-5.75 6.25zM302.09 897.03l5.75 -6.25l5.75 6.25l-5.75 6.25zM302.59 897.65l5.75 -6.25l5.75 6.25l-5.75 6.25zM303.09 898.27l5.75 -6.25l5.75 6.25l-5.75 6.25zM303.59 898.88l5.75 -6.25l5.75 6.25l-5.75 6.25zM304.09 899.48l5.75 -6.25l5.75 6.25l-5.75 6.25zM304.59 900.09l5.75 -6.25l5.75 6.25l-5.75 6.25zM305.09 900.69l5.75 -6.25l5.75 6.25l-5.75 6.25zM305.59 901.29l5.75 -6.25l5.75 6.25l-5.75 6.25zM306.09 901.89l5.75 -6.25l5.75 6.25l-5.75 6.25zM306.59 902.48l5.75 -6.25l5.75 6.25l-5.75 6.25zM307.09 903.08l5.75 -6.25l5.75 6.25l-5.75 6.25zM307.59 903.67l5.75 -6.25l5.75 6.25l-5.75 6.25zM308.09 904.25l5.75 -6.25l5.75 6.25l-5.75 6.25zM308.59 904.84l5.75 -6.25l5.75 6.25l-5.75 6.25zM309.09 905.42l5.75 -6.25l5.75 6.25l-5.75 6.25zM309.59 906l5.75 -6.25l5.75 6.25l-5.75 6.25zM310.09 906.58l5.75 -6.25l5.75 6.25l-5.75 6.25zM310.59 907.15l5.75 -6.25l5.75 6.25l-5.75 6.25zM311.09 907.72l5.75 -6.25l5.75 6.25l-5.75 6.25zM311.59 908.29l5.75 -6.25l5.75 6.25l-5.75 6.25zM312.09 908.86l5.75 -6.25l5.75 6.25l-5.75 6.25zM312.59 909.42l5.75 -6.25l5.75 6.25l-5.75 6.25zM313.09 909.99l5.75 -6.25l5.75 6.25l-5.75 6.25zM313.59 910.55l5.75 -6.25l5.75 6.25l-5.75 6.25zM314.09 911.1l5.75 -6.25l5.75 6.25l-5.75 6.25zM314.59 911.66l5.75 -6.25l5.75 6.25l-5.75 6.25zM315.09 912.21l5.75 -6.25l5.75 6.25l-5.75 6.25zM315.59 912.76l5.75 -6.25l5.75 6.25l-5.75 6.25zM316.09 913.31l5.75 -6.25l5.75 6.25l-5.75 6.25zM316.59 913.85l5.75 -6.25l5.75 6.25l-5.75 6.25zM317.09 914.39l5.75 -6.25l5.75 6.25l-5.75 6.25zM317.59 914.93l5.75 -6.25l5.75 6.25l-5.75 6.25zM318.09 915.47l5.75 -6.25l5.75 6.25l-5.75 6.25zM318.59 916.01l5.75 -6.25l5.75 6.25l-5.75 6.25zM319.09 916.54l5.75 -6.25l5.75 6.25l-5.75 6.25zM319.59 917.07l5.75 -6.25l5.75 6.25l-5.75 6.25zM320.09 917.6l5.75 -6.25l5.75 6.25l-5.75 6.25zM320.59 918.13l5.75 -6.25l5.75 6.25l-5.75 6.25zM321.09 918.65l5.75 -6.25l5.75 6.25l-5.75 6.25zM321.59 919.17l5.75 -6.25l5.75 6.25l-5.75 6.25zM322.09 919.69l5.75 -6.25l5.75 6.25l-5.75 6.25zM322.59 920.2l5.75 -6.25l5.75 6.25l-5.75 6.25zM323.09 920.72l5.75 -6.25l5.75 6.25l-5.75 6.25zM323.59 921.23l5.75 -6.25l5.75 6.25l-5.75 6.25zM324.09 921.74l5.75 -6.25l5.75 6.25l-5.75 6.25zM324.59 922.25l5.75 -6.25l5.75 6.25l-5.75 6.25zM325.09 922.75l5.75 -6.25l5.75 6.25l-5.75 6.25zM325.59 923.26l5.75 -6.25l5.75 6.25l-5.75 6.25zM326.09 923.76l5.75 -6.25l5.75 6.25l-5.75 6.25zM326.59 924.25l5.75 -6.25l5.75 6.25l-5.75 6.25zM327.09 924.75l5.75 -6.25l5.75 6.25l-5.75 6.25zM327.59 925.24l5.75 -6.25l5.75 6.25l-5.75 6.25zM328.09 925.73l5.75 -6.25l5.75 6.25l-5.75 6.25zM328.59 926.22l5.75 -6.25l5.75 6.25l-5.75 6.25zM329.09 926.71l5.75 -6.25l5.75 6.25l-5.75 6.25zM329.59 927.19l5.75 -6.25l5.75 6.25l-5.75 6.25zM330.09 927.68l5.75 -6.25l5.75 6.25l-5.75 6.25zM330.59 928.16l5.75 -6.25l5.75 6.25l-5.75 6.25zM331.09 928.63l5.75 -6.25l5.75 6.25l-5.75 6.25zM331.59 929.11l5.75 -6.25l5.75 6.25l-5.75 6.25zM332.09 929.58l5.75 -6.25l5.75 6.25l-5.75 6.25zM332.59 930.05l5.75 -6.25l5.75 6.25l-5.75 6.25zM333.09 930.52l5.75 -6.25l5.75 6.25l-5.75 6.25zM333.59 930.99l5.75 -6.25l5.75 6.25l-5.75 6.25zM334.09 931.46l5.75 -6.25l5.75 6.25l-5.75 6.25zM334.59 931.92l5.75 -6.25l5.75 6.25l-5.75 6.25zM335.09 932.38l5.75 -6.25l5.75 6.25l-5.75 6.25zM335.59 932.84l5.75 -6.25l5.75 6.25l-5.75 6.25zM336.09 933.29l5.75 -6.25l5.75 6.25l-5.75 6.25zM336.59 933.75l5.75 -6.25l5.75 6.25l-5.75 6.25zM337.09 934.2l5.75 -6.25l5.75 6.25l-5.75 6.25zM337.59 934.65l5.75 -6.25l5.75 6.25l-5.75 6.25zM338.09 935.1l5.75 -6.25l5.75 6.25l-5.75 6.25zM338.59 935.54l5.75 -6.25l5.75 6.25l-5.75 6.25zM339.09 935.99l5.75 -6.25l5.75 6.25l-5.75 6.25zM339.59 936.43l5.75 -6.25l5.75 6.25l-5.75 6.25zM340.09 936.87l5.75 -6.25l5.75 6.25l-5.75 6.25zM340.59 937.3l5.75 -6.25l5.75 6.25l-5.75 6.25zM341.09 937.74l5.75 -6.25l5.75 6.25l-5.75 6.25zM341.59 938.17l5.75 -6.25l5.75 6.25l-5.75 6.25zM342.09 938.6l5.75 -6.25l5.75 6.25l-5.75 6.25zM342.59 939.03l5.75 -6.25l5.75 6.25l-5.75 6.25zM343.09 939.46l5.75 -6.25l5.75 6.25l-5.75 6.25zM343.59 939.88l5.75 -6.25l5.75 6.25l-5.75 6.25zM344.09 940.31l5.75 -6.25l5.75 6.25l-5.75 6.25zM344.59 940.73l5.75 -6.25l5.75 6.25l-5.75 6.25zM345.09 941.15l5.75 -6.25l5.75 6.25l-5.75 6.25zM345.59 941.56l5.75 -6.25l5.75 6.25l-5.75 6.25zM346.09 941.98l5.75 -6.25l5.75 6.25l-5.75 6.25zM346.59 942.39l5.75 -6.25l5.75 6.25l-5.75 6.25zM347.09 942.8l5.75 -6.25l5.75 6.25l-5.75 6.25zM347.59 943.21l5.75 -6.25l5.75 6.25l-5.75 6.25zM348.09 943.62l5.75 -6.25l5.75 6.25l-5.75 6.25zM348.59 944.02l5.75 -6.25l5.75 6.25l-5.75 6.25zM349.09 944.43l5.75 -6.25l5.75 6.25l-5.75 6.25zM349.59 944.83l5.75 -6.25l5.75 6.25l-5.75 6.25zM350.09 945.23l5.75 -6.25l5.75 6.25l-5.75 6.25zM350.59 945.62l5.75 -6.25l5.75 6.25l-5.75 6.25zM351.09 946.02l5.75 -6.25l5.75 6.25l-5.75 6.25zM351.59 946.41l5.75 -6.25l5.75 6.25l-5.75 6.25zM352.09 946.81l5.75 -6.25l5.75 6.25l-5.75 6.25zM352.59 947.2l5.75 -6.25l5.75 6.25l-5.75 6.25zM353.09 947.58l5.75 -6.25l5.75 6.25l-5.75 6.25zM353.59 947.97l5.75 -6.25l5.75 6.25l-5.75 6.25zM354.09 948.35l5.75 -6.25l5.75 6.25l-5.75 6.25zM354.59 948.74l5.75 -6.25l5.75 6.25l-5.75 6.25zM355.09 949.12l5.75 -6.25l5.75 6.25l-5.75 6.25zM355.59 949.49l5.75 -6.25l5.75 6.25l-5.75 6.25zM356.09 949.87l5.75 -6.25l5.75 6.25l-5.75 6.25zM356.59 950.25l5.75 -6.25l5.75 6.25l-5.75 6.25zM357.09 950.62l5.75 -6.25l5.75 6.25l-5.75 6.25zM357.59 950.99l5.75 -6.25l5.75 6.25l-5.75 6.25zM358.09 951.36l5.75 -6.25l5.75 6.25l-5.75 6.25zM358.59 951.73l5.75 -6.25l5.75 6.25l-5.75 6.25zM359.09 952.09l5.75 -6.25l5.75 6.25l-5.75 6.25zM359.59 952.46l5.75 -6.25l5.75 6.25l-5.75 6.25zM360.09 952.82l5.75 -6.25l5.75 6.25l-5.75 6.25zM360.59 953.18l5.75 -6.25l5.75 6.25l-5.75 6.25zM361.09 953.54l5.75 -6.25l5.75 6.25l-5.75 6.25zM361.59 953.89l5.75 -6.25l5.75 6.25l-5.75 6.25zM362.09 954.25l5.75 -6.25l5.75 6.25l-5.75 6.25zM362.59 954.6l5.75 -6.25l5.75 6.25l-5.75 6.25zM363.09 954.95l5.75 -6.25l5.75 6.25l-5.75 6.25zM363.59 955.3l5.75 -6.25l5.75 6.25l-5.75 6.25zM364.09 955.65l5.75 -6.25l5.75 6.25l-5.75 6.25zM364.59 956l5.75 -6.25l5.75 6.25l-5.75 6.25zM365.09 956.34l5.75 -6.25l5.75 6.25l-5.75 6.25zM365.59 956.69l5.75 -6.25l5.75 6.25l-5.75 6.25zM366.09 957.03l5.75 -6.25l5.75 6.25l-5.75 6.25zM366.59 957.37l5.75 -6.25l5.75 6.25l-5.75 6.25zM367.09 957.7l5.75 -6.25l5.75 6.25l-5.75 6.25zM367.59 958.04l5.75 -6.25l5.75 6.25l-5.75 6.25zM368.09 958.37l5.75 -6.25l5.75 6.25l-5.75 6.25zM368.59 958.71l5.75 -6.25l5.75 6.25l-5.75 6.25zM369.09 959.04l5.75 -6.25l5.75 6.25l-5.75 6.25zM369.59 959.37l5.75 -6.25l5.75 6.25l-5.75 6.25zM370.09 959.7l5.75 -6.25l5.75 6.25l-5.75 6.25zM370.59 960.02l5.75 -6.25l5.75 6.25l-5.75 6.25zM371.09 960.35l5.75 -6.25l5.75 6.25l-5.75 6.25zM371.59 960.67l5.75 -6.25l5.75 6.25l-5.75 6.25zM372.09 960.99l5.75 -6.25l5.75 6.25l-5.75 6.25zM372.59 961.31l5.75 -6.25l5.75 6.25l-5.75 6.25zM373.09 961.63l5.75 -6.25l5.75 6.25l-5.75 6.25zM373.59 961.95l5.75 -6.25l5.75 6.25l-5.75 6.25zM374.09 962.26l5.75 -6.25l5.75 6.25l-5.75 6.25zM374.59 962.57l5.75 -6.25l5.75 6.25l-5.75 6.25zM375.09 962.89l5.75 -6.25l5.75 6.25l-5.75 6.25zM375.59 963.2l5.75 -6.25l5.75 6.25l-5.75 6.25zM376.09 963.51l5.75 -6.25l5.75 6.25l-5.75 6.25zM376.59 963.81l5.75 -6.25l5.75 6.25l-5.75 6.25zM377.09 964.12l5.75 -6.25l5.75 6.25l-5.75 6.25zM377.59 964.42l5.75 -6.25l5.75 6.25l-5.75 6.25zM378.09 964.72l5.75 -6.25l5.75 6.25l-5.75 6.25zM378.59 965.03l5.75 -6.25l5.75 6.25l-5.75 6.25zM379.09 965.33l5.75 -6.25l5.75 6.25l-5.75 6.25zM379.59 965.62l5.75 -6.25l5.75 6.25l-5.75 6.25zM380.09 965.92l5.75 -6.25l5.75 6.25l-5.75 6.25zM380.59 966.22l5.75 -6.25l5.75 6.25l-5.75 6.25zM381.09 966.51l5.75 -6.25l5.75 6.25l-5.75 6.25zM381.59 966.8l5.75 -6.25l5.75 6.25l-5.75 6.25zM382.09 967.09l5.75 -6.25l5.75 6.25l-5.75 6.25zM382.59 967.38l5.75 -6.25l5.75 6.25l-5.75 6.25zM383.09 967.67l5.75 -6.25l5.75 6.25l-5.75 6.25zM383.59 967.95l5.75 -6.25l5.75 6.25l-5.75 6.25zM384.09 968.24l5.75 -6.25l5.75 6.25l-5.75 6.25zM384.59 968.52l5.75 -6.25l5.75 6.25l-5.75 6.25zM385.09 968.81l5.75 -6.25l5.75 6.25l-5.75 6.25zM385.59 969.09l5.75 -6.25l5.75 6.25l-5.75 6.25zM386.09 969.36l5.75 -6.25l5.75 6.25l-5.75 6.25zM386.59 969.64l5.75 -6.25l5.75 6.25l-5.75 6.25zM387.09 969.92l5.75 -6.25l5.75 6.25l-5.75 6.25zM387.59 970.19l5.75 -6.25l5.75 6.25l-5.75 6.25zM388.09 970.47l5.75 -6.25l5.75 6.25l-5.75 6.25zM388.59 970.74l5.75 -6.25l5.75 6.25l-5.75 6.25zM389.09 971.01l5.75 -6.25l5.75 6.25l-5.75 6.25zM389.59 971.28l5.75 -6.25l5.75 6.25l-5.75 6.25zM390.09 971.55l5.75 -6.25l5.75 6.25l-5.75 6.25zM390.59 971.82l5.75 -6.25l5.75 6.25l-5.75 6.25zM391.09 972.08l5.75 -6.25l5.75 6.25l-5.75 6.25zM391.59 972.34l5.75 -6.25l5.75 6.25l-5.75 6.25zM392.09 972.61l5.75 -6.25l5.75 6.25l-5.75 6.25zM392.59 972.87l5.75 -6.25l5.75 6.25l-5.75 6.25zM393.09 973.13l5.75 -6.25l5.75 6.25l-5.75 6.25zM393.59 973.39l5.75 -6.25l5.75 6.25l-5.75 6.25zM394.09 973.65l5.75 -6.25l5.75 6.25l-5.75 6.25zM394.59 973.9l5.75 -6.25l5.75 6.25l-5.75 6.25zM395.09 974.16l5.75 -6.25l5.75 6.25l-5.75 6.25zM395.59 974.41l5.75 -6.25l5.75 6.25l-5.75 6.25zM396.09 974.66l5.75 -6.25l5.75 6.25l-5.75 6.25zM396.59 974.91l5.75 -6.25l5.75 6.25l-5.75 6.25zM397.09 975.16l5.75 -6.25l5.75 6.25l-5.75 6.25zM397.59 975.41l5.75 -6.25l5.75 6.25l-5.75 6.25zM398.09 975.66l5.75 -6.25l5.75 6.25l-5.75 6.25zM398.59 975.91l5.75 -6.25l5.75 6.25l-5.75 6.25zM399.09 976.15l5.75 -6.25l5.75 6.25l-5.75 6.25zM399.59 976.4l5.75 -6.25l5.75 6.25l-5.75 6.25zM400.09 976.64l5.75 -6.25l5.75 6.25l-5.75 6.25zM400.59 976.88l5.75 -6.25l5.75 6.25l-5.75 6.25zM401.09 977.12l5.75 -6.25l5.75 6.25l-5.75 6.25zM401.59 977.36l5.75 -6.25l5.75 6.25l-5.75 6.25zM402.09 977.6l5.75 -6.25l5.75 6.25l-5.75 6.25zM402.59 977.83l5.75 -6.25l5.75 6.25l-5.75 6.25zM403.09 978.07l5.75 -6.25l5.75 6.25l-5.75 6.25zM403.59 978.3l5.75 -6.25l5.75 6.25l-5.75 6.25zM404.09 978.54l5.75 -6.25l5.75 6.25l-5.75 6.25zM404.59 978.77l5.75 -6.25l5.75 6.25l-5.75 6.25zM405.09 979l5.75 -6.25l5.75 6.25l-5.75 6.25zM405.59 979.23l5.75 -6.25l5.75 6.25l-5.75 6.25zM406.09 979.46l5.75 -6.25l5.75 6.25l-5.75 6.25zM406.59 979.69l5.75 -6.25l5.75 6.25l-5.75 6.25zM407.09 979.91l5.75 -6.25l5.75 6.25l-5.75 6.25zM407.59 980.14l5.75 -6.25l5.75 6.25l-5.75 6.25zM408.09 980.36l5.75 -6.25l5.75 6.25l-5.75 6.25zM408.59 980.59l5.75 -6.25l5.75 6.25l-5.75 6.25zM409.09 980.81l5.75 -6.25l5.75 6.25l-5.75 6.25zM409.59 981.03l5.75 -6.25l5.75 6.25l-5.75 6.25zM410.09 981.25l5.75 -6.25l5.75 6.25l-5.75 6.25zM410.59 981.47l5.75 -6.25l5.75 6.25l-5.75 6.25zM411.09 981.69l5.75 -6.25l5.75 6.25l-5.75 6.25zM411.59 981.91l5.75 -6.25l5.75 6.25l-5.75 6.25zM412.09 982.12l5.75 -6.25l5.75 6.25l-5.75 6.25zM412.59 982.34l5.75 -6.25l5.75 6.25l-5.75 6.25zM413.09 982.55l5.75 -6.25l5.75 6.25l-5.75 6.25zM413.59 982.76l5.75 -6.25l5.75 6.25l-5.75 6.25zM414.09 982.97l5.75 -6.25l5.75 6.25l-5.75 6.25zM414.59 983.19l5.75 -6.25l5.75 6.25l-5.75 6.25zM415.09 983.4l5.75 -6.25l5.75 6.25l-5.75 6.25zM415.59 983.6l5.75 -6.25l5.75 6.25l-5.75 6.25zM416.09 983.81l5.75 -6.25l5.75 6.25l-5.75 6.25zM416.59 984.02l5.75 -6.25l5.75 6.25l-5.75 6.25zM417.09 984.23l5.75 -6.25l5.75 6.25l-5.75 6.25zM417.59 984.43l5.75 -6.25l5.75 6.25l-5.75 6.25zM418.09 984.63l5.75 -6.25l5.75 6.25l-5.75 6.25zM418.59 984.84l5.75 -6.25l5.75 6.25l-5.75 6.25zM419.09 985.04l5.75 -6.25l5.75 6.25l-5.75 6.25zM419.59 985.24l5.75 -6.25l5.75 6.25l-5.75 6.25zM420.09 985.44l5.75 -6.25l5.75 6.25l-5.75 6.25zM420.59 985.64l5.75 -6.25l5.75 6.25l-5.75 6.25zM421.09 985.84l5.75 -6.25l5.75 6.25l-5.75 6.25zM421.59 986.04l5.75 -6.25l5.75 6.25l-5.75 6.25zM422.09 986.23l5.75 -6.25l5.75 6.25l-5.75 6.25zM422.59 986.43l5.75 -6.25l5.75 6.25l-5.75 6.25zM423.09 986.63l5.75 -6.25l5.75 6.25l-5.75 6.25zM423.59 986.82l5.75 -6.25l5.75 6.25l-5.75 6.25zM424.09 987.01l5.75 -6.25l5.75 6.25l-5.75 6.25zM424.59 987.21l5.75 -6.25l5.75 6.25l-5.75 6.25zM425.09 987.4l5.75 -6.25l5.75 6.25l-5.75 6.25zM425.59 987.59l5.75 -6.25l5.75 6.25l-5.75 6.25zM426.09 987.78l5.75 -6.25l5.75 6.25l-5.75 6.25zM426.59 987.97l5.75 -6.25l5.75 6.25l-5.75 6.25zM427.09 988.16l5.75 -6.25l5.75 6.25l-5.75 6.25zM427.59 988.34l5.75 -6.25l5.75 6.25l-5.75 6.25zM428.09 988.53l5.75 -6.25l5.75 6.25l-5.75 6.25zM428.59 988.72l5.75 -6.25l5.75 6.25l-5.75 6.25zM429.09 988.9l5.75 -6.25l5.75 6.25l-5.75 6.25zM429.59 989.09l5.75 -6.25l5.75 6.25l-5.75 6.25zM430.09 989.27l5.75 -6.25l5.75 6.25l-5.75 6.25zM430.59 989.45l5.75 -6.25l5.75 6.25l-5.75 6.25zM431.09 989.64l5.75 -6.25l5.75 6.25l-5.75 6.25zM431.59 989.82l5.75 -6.25l5.75 6.25l-5.75 6.25zM432.09 990l5.75 -6.25l5.75 6.25l-5.75 6.25zM432.59 990.18l5.75 -6.25l5.75 6.25l-5.75 6.25zM433.09 990.36l5.75 -6.25l5.75 6.25l-5.75 6.25zM433.59 990.54l5.75 -6.25l5.75 6.25l-5.75 6.25zM434.09 990.71l5.75 -6.25l5.75 6.25l-5.75 6.25zM434.59 990.89l5.75 -6.25l5.75 6.25l-5.75 6.25zM435.09 991.07l5.75 -6.25l5.75 6.25l-5.75 6.25zM435.59 991.24l5.75 -6.25l5.75 6.25l-5.75 6.25zM436.09 991.42l5.75 -6.25l5.75 6.25l-5.75 6.25zM436.59 991.59l5.75 -6.25l5.75 6.25l-5.75 6.25zM437.09 991.77l5.75 -6.25l5.75 6.25l-5.75 6.25zM437.59 991.94l5.75 -6.25l5.75 6.25l-5.75 6.25zM438.09 992.11l5.75 -6.25l5.75 6.25l-5.75 6.25zM438.59 992.28l5.75 -6.25l5.75 6.25l-5.75 6.25zM439.09 992.45l5.75 -6.25l5.75 6.25l-5.75 6.25zM439.59 992.62l5.75 -6.25l5.75 6.25l-5.75 6.25zM440.09 992.79l5.75 -6.25l5.75 6.25l-5.75 6.25zM440.59 992.96l5.75 -6.25l5.75 6.25l-5.75 6.25zM441.09 993.13l5.75 -6.25l5.75 6.25l-5.75 6.25zM441.59 993.3l5.75 -6.25l5.75 6.25l-5.75 6.25zM442.09 993.47l5.75 -6.25l5.75 6.25l-5.75 6.25zM442.59 993.63l5.75 -6.25l5.75 6.25l-5.75 6.25zM443.09 993.8l5.75 -6.25l5.75 6.25l-5.75 6.25zM443.59 993.97l5.75 -6.25l5.75 6.25l-5.75 6.25zM444.09 994.13l5.75 -6.25l5.75 6.25l-5.75 6.25zM444.59 994.3l5.75 -6.25l5.75 6.25l-5.75 6.25zM445.09 994.46l5.75 -6.25l5.75 6.25l-5.75 6.25zM445.59 994.62l5.75 -6.25l5.75 6.25l-5.75 6.25zM446.09 994.79l5.75 -6.25l5.75 6.25l-5.75 6.25zM446.59 994.95l5.75 -6.25l5.75 6.25l-5.75 6.25zM447.09 995.11l5.75 -6.25l5.75 6.25l-5.75 6.25zM447.59 995.27l5.75 -6.25l5.75 6.25l-5.75 6.25zM448.09 995.43l5.75 -6.25l5.75 6.25l-5.75 6.25zM448.59 995.59l5.75 -6.25l5.75 6.25l-5.75 6.25zM449.09 995.75l5.75 -6.25l5.75 6.25l-5.75 6.25zM449.59 995.91l5.75 -6.25l5.75 6.25l-5.75 6.25zM450.09 996.07l5.75 -6.25l5.75 6.25l-5.75 6.25zM450.59 996.23l5.75 -6.25l5.75 6.25l-5.75 6.25zM451.09 996.39l5.75 -6.25l5.75 6.25l-5.75 6.25zM451.59 996.55l5.75 -6.25l5.75 6.25l-5.75 6.25zM452.09 996.7l5.75 -6.25l5.75 6.25l-5.75 6.25zM452.59 996.86l5.75 -6.25l5.75 6.25l-5.75 6.25zM453.09 997.02l5.75 -6.25l5.75 6.25l-5.75 6.25zM453.59 997.17l5.75 -6.25l5.75 6.25l-5.75 6.25zM454.09 997.33l5.75 -6.25l5.75 6.25l-5.75 6.25zM454.59 997.48l5.75 -6.25l5.75 6.25l-5.75 6.25zM455.09 997.64l5.75 -6.25l5.75 6.25l-5.75 6.25zM455.59 997.79l5.75 -6.25l5.75 6.25l-5.75 6.25zM456.09 997.95l5.75 -6.25l5.75 6.25l-5.75 6.25zM456.59 998.1l5.75 -6.25l5.75 6.25l-5.75 6.25zM457.09 998.25l5.75 -6.25l5.75 6.25l-5.75 6.25zM457.59 998.41l5.75 -6.25l5.75 6.25l-5.75 6.25zM458.09 998.56l5.75 -6.25l5.75 6.25l-5.75 6.25zM458.59 998.71l5.75 -6.25l5.75 6.25l-5.75 6.25zM459.09 998.86l5.75 -6.25l5.75 6.25l-5.75 6.25zM459.59 999.01l5.75 -6.25l5.75 6.25l-5.75 6.25zM460.09 999.16l5.75 -6.25l5.75 6.25l-5.75 6.25zM460.59 999.31l5.75 -6.25l5.75 6.25l-5.75 6.25zM461.09 999.46l5.75 -6.25l5.75 6.25l-5.75 6.25zM461.59 999.61l5.75 -6.25l5.75 6.25l-5.75 6.25zM462.09 999.76l5.75 -6.25l5.75 6.25l-5.75 6.25zM462.59 999.91l5.75 -6.25l5.75 6.25l-5.75 6.25zM463.09 1000.06l5.75 -6.25l5.75 6.25l-5.75 6.25zM463.59 1000.21l5.75 -6.25l5.75 6.25l-5.75 6.25zM464.09 1000.36l5.75 -6.25l5.75 6.25l-5.75 6.25zM464.59 1000.51l5.75 -6.25l5.75 6.25l-5.75 6.25zM465.09 1000.65l5.75 -6.25l5.75 6.25l-5.75 6.25zM465.59 1000.8l5.75 -6.25l5.75 6.25l-5.75 6.25zM466.09 1000.95l5.75 -6.25l5.75 6.25l-5.75 6.25zM466.59 1001.09l5.75 -6.25l5.75 6.25l-5.75 6.25zM467.09 1001.24l5.75 -6.25l5.75 6.25l-5.75 6.25zM467.59 1001.38l5.75 -6.25l5.75 6.25l-5.75 6.25zM468.09 1001.53l5.75 -6.25l5.75 6.25l-5.75 6.25zM468.59 1001.68l5.75 -6.25l5.75 6.25l-5.75 6.25zM469.09 1001.82l5.75 -6.25l5.75 6.25l-5.75 6.25zM469.59 1001.96l5.75 -6.25l5.75 6.25l-5.75 6.25zM470.09 1002.11l5.75 -6.25l5.75 6.25l-5.75 6.25zM470.59 1002.25l5.75 -6.25l5.75 6.25l-5.75 6.25zM471.09 1002.4l5.75 -6.25l5.75 6.25l-5.75 6.25zM471.59 1002.54l5.75 -6.25l5.75 6.25l-5.75 6.25zM472.09 1002.68l5.75 -6.25l5.75 6.25l-5.75 6.25zM472.59 1002.82l5.75 -6.25l5.75 6.25l-5.75 6.25zM473.09 1002.96l5.75 -6.25l5.75 6.25l-5.75 6.25zM473.59 1003.11l5.75 -6.25l5.75 6.25l-5.75 6.25zM474.09 1003.25l5.75 -6.25l5.75 6.25l-5.75 6.25zM474.59 1003.39l5.75 -6.25l5.75 6.25l-5.75 6.25zM475.09 1003.53l5.75 -6.25l5.75 6.25l-5.75 6.25zM475.59 1003.67l5.75 -6.25l5.75 6.25l-5.75 6.25zM476.09 1003.81l5.75 -6.25l5.75 6.25l-5.75 6.25zM476.59 1003.95l5.75 -6.25l5.75 6.25l-5.75 6.25zM477.09 1004.09l5.75 -6.25l5.75 6.25l-5.75 6.25zM477.59 1004.23l5.75 -6.25l5.75 6.25l-5.75 6.25zM478.09 1004.37l5.75 -6.25l5.75 6.25l-5.75 6.25zM478.59 1004.5l5.75 -6.25l5.75 6.25l-5.75 6.25zM479.09 1004.64l5.75 -6.25l5.75 6.25l-5.75 6.25zM479.59 1004.78l5.75 -6.25l5.75 6.25l-5.75 6.25zM480.09 1004.92l5.75 -6.25l5.75 6.25l-5.75 6.25zM480.59 1005.05l5.75 -6.25l5.75 6.25l-5.75 6.25zM481.09 1005.19l5.75 -6.25l5.75 6.25l-5.75 6.25zM481.59 1005.33l5.75 -6.25l5.75 6.25l-5.75 6.25zM482.09 1005.46l5.75 -6.25l5.75 6.25l-5.75 6.25zM482.59 1005.6l5.75 -6.25l5.75 6.25l-5.75 6.25zM483.09 1005.73l5.75 -6.25l5.75 6.25l-5.75 6.25zM483.59 1005.87l5.75 -6.25l5.75 6.25l-5.75 6.25zM484.09 1006l5.75 -6.25l5.75 6.25l-5.75 6.25zM484.59 1006.14l5.75 -6.25l5.75 6.25l-5.75 6.25zM485.09 1006.27l5.75 -6.25l5.75 6.25l-5.75 6.25zM485.59 1006.4l5.75 -6.25l5.75 6.25l-5.75 6.25zM486.09 1006.54l5.75 -6.25l5.75 6.25l-5.75 6.25zM486.59 1006.67l5.75 -6.25l5.75 6.25l-5.75 6.25zM487.09 1006.8l5.75 -6.25l5.75 6.25l-5.75 6.25zM487.59 1006.94l5.75 -6.25l5.75 6.25l-5.75 6.25zM488.09 1007.07l5.75 -6.25l5.75 6.25l-5.75 6.25zM488.59 1007.2l5.75 -6.25l5.75 6.25l-5.75 6.25zM489.09 1007.33l5.75 -6.25l5.75 6.25l-5.75 6.25zM489.59 1007.46l5.75 -6.25l5.75 6.25l-5.75 6.25zM490.09 1007.59l5.75 -6.25l5.75 6.25l-5.75 6.25zM490.59 1007.72l5.75 -6.25l5.75 6.25l-5.75 6.25zM491.09 1007.85l5.75 -6.25l5.75 6.25l-5.75 6.25zM491.59 1007.98l5.75 -6.25l5.75 6.25l-5.75 6.25zM492.09 1008.11l5.75 -6.25l5.75 6.25l-5.75 6.25zM492.59 1008.24l5.75 -6.25l5.75 6.25l-5.75 6.25zM493.09 1008.37l5.75 -6.25l5.75 6.25l-5.75 6.25zM493.59 1008.5l5.75 -6.25l5.75 6.25l-5.75 6.25zM494.09 1008.63l5.75 -6.25l5.75 6.25l-5.75 6.25zM494.59 1008.75l5.75 -6.25l5.75 6.25l-5.75 6.25zM495.09 1008.88l5.75 -6.25l5.75 6.25l-5.75 6.25zM495.59 1009.01l5.75 -6.25l5.75 6.25l-5.75 6.25zM496.09 1009.14l5.75 -6.25l5.75 6.25l-5.75 6.25zM496.59 1009.26l5.75 -6.25l5.75 6.25l-5.75 6.25zM497.09 1009.39l5.75 -6.25l5.75 6.25l-5.75 6.25zM497.59 1009.52l5.75 -6.25l5.75 6.25l-5.75 6.25zM498.09 1009.64l5.75 -6.25l5.75 6.25l-5.75 6.25zM498.59 1009.77l5.75 -6.25l5.75 6.25l-5.75 6.25zM499.09 1009.89l5.75 -6.25l5.75 6.25l-5.75 6.25zM499.59 1010.02l5.75 -6.25l5.75 6.25l-5.75 6.25zM500.09 1010.14l5.75 -6.25l5.75 6.25l-5.75 6.25zM500.59 1010.27l5.75 -6.25l5.75 6.25l-5.75 6.25zM501.09 1010.39l5.75 -6.25l5.75 6.25l-5.75 6.25zM501.59 1010.51l5.75 -6.25l5.75 6.25l-5.75 6.25zM502.09 1010.64l5.75 -6.25l5.75 6.25l-5.75 6.25zM502.59 1010.76l5.75 -6.25l5.75 6.25l-5.75 6.25zM503.09 1010.88l5.75 -6.25l5.75 6.25l-5.75 6.25zM503.59 1011l5.75 -6.25l5.75 6.25l-5.75 6.25zM504.09 1011.13l5.75 -6.25l5.75 6.25l-5.75 6.25zM504.59 1011.25l5.75 -6.25l5.75 6.25l-5.75 6.25zM505.09 1011.37l5.75 -6.25l5.75 6.25l-5.75 6.25zM505.59 1011.49l5.75 -6.25l5.75 6.25l-5.75 6.25zM506.09 1011.61l5.75 -6.25l5.75 6.25l-5.75 6.25zM506.59 1011.73l5.75 -6.25l5.75 6.25l-5.75 6.25zM507.09 1011.85l5.75 -6.25l5.75 6.25l-5.75 6.25zM507.59 1011.97l5.75 -6.25l5.75 6.25l-5.75 6.25zM508.09 1012.09l5.75 -6.25l5.75 6.25l-5.75 6.25zM508.59 1012.21l5.75 -6.25l5.75 6.25l-5.75 6.25zM509.09 1012.33l5.75 -6.25l5.75 6.25l-5.75 6.25zM509.59 1012.45l5.75 -6.25l5.75 6.25l-5.75 6.25zM510.09 1012.57l5.75 -6.25l5.75 6.25l-5.75 6.25zM510.59 1012.69l5.75 -6.25l5.75 6.25l-5.75 6.25zM511.09 1012.8l5.75 -6.25l5.75 6.25l-5.75 6.25zM511.59 1012.92l5.75 -6.25l5.75 6.25l-5.75 6.25zM512.09 1013.04l5.75 -6.25l5.75 6.25l-5.75 6.25zM512.59 1013.16l5.75 -6.25l5.75 6.25l-5.75 6.25zM513.09 1013.27l5.75 -6.25l5.75 6.25l-5.75 6.25zM513.59 1013.39l5.75 -6.25l5.75 6.25l-5.75 6.25zM514.09 1013.51l5.75 -6.25l5.75 6.25l-5.75 6.25zM514.59 1013.62l5.75 -6.25l5.75 6.25l-5.75 6.25zM515.09 1013.74l5.75 -6.25l5.75 6.25l-5.75 6.25zM515.59 1013.85l5.75 -6.25l5.75 6.25l-5.75 6.25zM516.09 1013.97l5.75 -6.25l5.75 6.25l-5.75 6.25zM516.59 1014.08l5.75 -6.25l5.75 6.25l-5.75 6.25zM517.09 1014.2l5.75 -6.25l5.75 6.25l-5.75 6.25zM517.59 1014.31l5.75 -6.25l5.75 6.25l-5.75 6.25zM518.09 1014.43l5.75 -6.25l5.75 6.25l-5.75 6.25zM518.59 1014.54l5.75 -6.25l5.75 6.25l-5.75 6.25zM519.09 1014.65l5.75 -6.25l5.75 6.25l-5.75 6.25zM519.59 1014.77l5.75 -6.25l5.75 6.25l-5.75 6.25zM520.09 1014.88l5.75 -6.25l5.75 6.25l-5.75 6.25zM520.59 1014.99l5.75 -6.25l5.75 6.25l-5.75 6.25zM521.09 1015.1l5.75 -6.25l5.75 6.25l-5.75 6.25zM521.59 1015.22l5.75 -6.25l5.75 6.25l-5.75 6.25zM522.09 1015.33l5.75 -6.25l5.75 6.25l-5.75 6.25zM522.59 1015.44l5.75 -6.25l5.75 6.25l-5.75 6.25zM523.09 1015.55l5.75 -6.25l5.75 6.25l-5.75 6.25zM523.59 1015.66l5.75 -6.25l5.75 6.25l-5.75 6.25zM524.09 1015.77l5.75 -6.25l5.75 6.25l-5.75 6.25zM524.59 1015.88l5.75 -6.25l5.75 6.25l-5.75 6.25zM525.09 1015.99l5.75 -6.25l5.75 6.25l-5.75 6.25zM525.59 1016.1l5.75 -6.25l5.75 6.25l-5.75 6.25zM526.09 1016.21l5.75 -6.25l5.75 6.25l-5.75 6.25zM526.59 1016.32l5.75 -6.25l5.75 6.25l-5.75 6.25zM527.09 1016.43l5.75 -6.25l5.75 6.25l-5.75 6.25zM527.59 1016.54l5.75 -6.25l5.75 6.25l-5.75 6.25zM528.09 1016.65l5.75 -6.25l5.75 6.25l-5.75 6.25zM528.59 1016.75l5.75 -6.25l5.75 6.25l-5.75 6.25zM529.09 1016.86l5.75 -6.25l5.75 6.25l-5.75 6.25zM529.59 1016.97l5.75 -6.25l5.75 6.25l-5.75 6.25zM530.09 1017.08l5.75 -6.25l5.75 6.25l-5.75 6.25zM530.59 1017.18l5.75 -6.25l5.75 6.25l-5.75 6.25zM531.09 1017.29l5.75 -6.25l5.75 6.25l-5.75 6.25zM531.59 1017.4l5.75 -6.25l5.75 6.25l-5.75 6.25zM532.09 1017.5l5.75 -6.25l5.75 6.25l-5.75 6.25zM532.59 1017.61l5.75 -6.25l5.75 6.25l-5.75 6.25zM533.09 1017.71l5.75 -6.25l5.75 6.25l-5.75 6.25zM533.59 1017.82l5.75 -6.25l5.75 6.25l-5.75 6.25zM534.09 1017.93l5.75 -6.25l5.75 6.25l-5.75 6.25zM534.59 1018.03l5.75 -6.25l5.75 6.25l-5.75 6.25zM535.09 1018.14l5.75 -6.25l5.75 6.25l-5.75 6.25zM535.59 1018.24l5.75 -6.25l5.75 6.25l-5.75 6.25zM536.09 1018.34l5.75 -6.25l5.75 6.25l-5.75 6.25zM536.59 1018.45l5.75 -6.25l5.75 6.25l-5.75 6.25zM537.09 1018.55l5.75 -6.25l5.75 6.25l-5.75 6.25zM537.59 1018.65l5.75 -6.25l5.75 6.25l-5.75 6.25zM538.09 1018.76l5.75 -6.25l5.75 6.25l-5.75 6.25zM538.59 1018.86l5.75 -6.25l5.75 6.25l-5.75 6.25zM539.09 1018.96l5.75 -6.25l5.75 6.25l-5.75 6.25zM539.59 1019.07l5.75 -6.25l5.75 6.25l-5.75 6.25zM540.09 1019.17l5.75 -6.25l5.75 6.25l-5.75 6.25zM540.59 1019.27l5.75 -6.25l5.75 6.25l-5.75 6.25zM541.09 1019.37l5.75 -6.25l5.75 6.25l-5.75 6.25zM541.59 1019.47l5.75 -6.25l5.75 6.25l-5.75 6.25zM542.09 1019.57l5.75 -6.25l5.75 6.25l-5.75 6.25zM542.59 1019.67l5.75 -6.25l5.75 6.25l-5.75 6.25zM543.09 1019.77l5.75 -6.25l5.75 6.25l-5.75 6.25zM543.59 1019.88l5.75 -6.25l5.75 6.25l-5.75 6.25zM544.09 1019.98l5.75 -6.25l5.75 6.25l-5.75 6.25zM544.59 1020.07l5.75 -6.25l5.75 6.25l-5.75 6.25zM545.09 1020.17l5.75 -6.25l5.75 6.25l-5.75 6.25zM545.59 1020.27l5.75 -6.25l5.75 6.25l-5.75 6.25zM546.09 1020.37l5.75 -6.25l5.75 6.25l-5.75 6.25zM546.59 1020.47l5.75 -6.25l5.75 6.25l-5.75 6.25zM547.09 1020.57l5.75 -6.25l5.75 6.25l-5.75 6.25zM547.59 1020.67l5.75 -6.25l5.75 6.25l-5.75 6.25zM548.09 1020.77l5.75 -6.25l5.75 6.25l-5.75 6.25zM548.59 1020.86l5.75 -6.25l5.75 6.25l-5.75 6.25zM549.09 1020.96l5.75 -6.25l5.75 6.25l-5.75 6.25zM549.59 1021.06l5.75 -6.25l5.75 6.25l-5.75 6.25zM550.09 1021.16l5.75 -6.25l5.75 6.25l-5.75 6.25zM550.59 1021.25l5.75 -6.25l5.75 6.25l-5.75 6.25zM551.09 1021.35l5.75 -6.25l5.75 6.25l-5.75 6.25zM551.59 1021.45l5.75 -6.25l5.75 6.25l-5.75 6.25zM552.09 1021.54l5.75 -6.25l5.75 6.25l-5.75 6.25zM552.59 1021.64l5.75 -6.25l5.75 6.25l-5.75 6.25zM553.09 1021.73l5.75 -6.25l5.75 6.25l-5.75 6.25zM553.59 1021.83l5.75 -6.25l5.75 6.25l-5.75 6.25zM554.09 1021.92l5.75 -6.25l5.75 6.25l-5.75 6.25zM554.59 1022.02l5.75 -6.25l5.75 6.25l-5.75 6.25zM555.09 1022.11l5.75 -6.25l5.75 6.25l-5.75 6.25zM555.59 1022.21l5.75 -6.25l5.75 6.25l-5.75 6.25zM556.09 1022.3l5.75 -6.25l5.75 6.25l-5.75 6.25zM556.59 1022.4l5.75 -6.25l5.75 6.25l-5.75 6.25zM557.09 1022.49l5.75 -6.25l5.75 6.25l-5.75 6.25zM557.59 1022.58l5.75 -6.25l5.75 6.25l-5.75 6.25zM558.09 1022.68l5.75 -6.25l5.75 6.25l-5.75 6.25zM558.59 1022.77l5.75 -6.25l5.75 6.25l-5.75 6.25zM559.09 1022.86l5.75 -6.25l5.75 6.25l-5.75 6.25zM559.59 1022.96l5.75 -6.25l5.75 6.25l-5.75 6.25zM560.09 1023.05l5.75 -6.25l5.75 6.25l-5.75 6.25zM560.59 1023.14l5.75 -6.25l5.75 6.25l-5.75 6.25zM561.09 1023.23l5.75 -6.25l5.75 6.25l-5.75 6.25zM561.59 1023.32l5.75 -6.25l5.75 6.25l-5.75 6.25zM562.09 1023.42l5.75 -6.25l5.75 6.25l-5.75 6.25zM562.59 1023.51l5.75 -6.25l5.75 6.25l-5.75 6.25zM563.09 1023.6l5.75 -6.25l5.75 6.25l-5.75 6.25zM563.59 1023.69l5.75 -6.25l5.75 6.25l-5.75 6.25zM564.09 1023.78l5.75 -6.25l5.75 6.25l-5.75 6.25zM564.59 1023.87l5.75 -6.25l5.75 6.25l-5.75 6.25zM565.09 1023.96l5.75 -6.25l5.75 6.25l-5.75 6.25zM565.59 1024.05l5.75 -6.25l5.75 6.25l-5.75 6.25zM566.09 1024.14l5.75 -6.25l5.75 6.25l-5.75 6.25zM566.59 1024.23l5.75 -6.25l5.75 6.25l-5.75 6.25zM567.09 1024.32l5.75 -6.25l5.75 6.25l-5.75 6.25zM567.59 1024.41l5.75 -6.25l5.75 6.25l-5.75 6.25zM568.09 1024.49l5.75 -6.25l5.75 6.25l-5.75 6.25zM568.59 1024.58l5.75 -6.25l5.75 6.25l-5.75 6.25zM569.09 1024.67l5.75 -6.25l5.75 6.25l-5.75 6.25zM569.59 1024.76l5.75 -6.25l5.75 6.25l-5.75 6.25zM570.09 1024.85l5.75 -6.25l5.75 6.25l-5.75 6.25zM570.59 1024.94l5.75 -6.25l5.75 6.25l-5.75 6.25zM571.09 1025.02l5.75 -6.25l5.75 6.25l-5.75 6.25zM571.59 1025.11l5.75 -6.25l5.75 6.25l-5.75 6.25zM572.09 1025.2l5.75 -6.25l5.75 6.25l-5.75 6.25zM572.59 1025.28l5.75 -6.25l5.75 6.25l-5.75 6.25zM573.09 1025.37l5.75 -6.25l5.75 6.25l-5.75 6.25zM573.59 1025.46l5.75 -6.25l5.75 6.25l-5.75 6.25zM574.09 1025.54l5.75 -6.25l5.75 6.25l-5.75 6.25zM574.59 1025.63l5.75 -6.25l5.75 6.25l-5.75 6.25zM575.09 1025.71l5.75 -6.25l5.75 6.25l-5.75 6.25zM575.59 1025.8l5.75 -6.25l5.75 6.25l-5.75 6.25zM576.09 1025.89l5.75 -6.25l5.75 6.25l-5.75 6.25zM576.59 1025.97l5.75 -6.25l5.75 6.25l-5.75 6.25zM577.09 1026.06l5.75 -6.25l5.75 6.25l-5.75 6.25zM577.59 1026.14l5.75 -6.25l5.75 6.25l-5.75 6.25zM578.09 1026.22l5.75 -6.25l5.75 6.25l-5.75 6.25zM578.59 1026.31l5.75 -6.25l5.75 6.25l-5.75 6.25zM579.09 1026.39l5.75 -6.25l5.75 6.25l-5.75 6.25zM579.59 1026.48l5.75 -6.25l5.75 6.25l-5.75 6.25zM580.09 1026.56l5.75 -6.25l5.75 6.25l-5.75 6.25zM580.59 1026.64l5.75 -6.25l5.75 6.25l-5.75 6.25zM581.09 1026.73l5.75 -6.25l5.75 6.25l-5.75 6.25zM581.59 1026.81l5.75 -6.25l5.75 6.25l-5.75 6.25zM582.09 1026.89l5.75 -6.25l5.75 6.25l-5.75 6.25zM582.59 1026.97l5.75 -6.25l5.75 6.25l-5.75 6.25zM583.09 1027.06l5.75 -6.25l5.75 6.25l-5.75 6.25zM583.59 1027.14l5.75 -6.25l5.75 6.25l-5.75 6.25zM584.09 1027.22l5.75 -6.25l5.75 6.25l-5.75 6.25zM584.59 1027.3l5.75 -6.25l5.75 6.25l-5.75 6.25zM585.09 1027.38l5.75 -6.25l5.75 6.25l-5.75 6.25zM585.59 1027.47l5.75 -6.25l5.75 6.25l-5.75 6.25zM586.09 1027.55l5.75 -6.25l5.75 6.25l-5.75 6.25zM586.59 1027.63l5.75 -6.25l5.75 6.25l-5.75 6.25zM587.09 1027.71l5.75 -6.25l5.75 6.25l-5.75 6.25zM587.59 1027.79l5.75 -6.25l5.75 6.25l-5.75 6.25zM588.09 1027.87l5.75 -6.25l5.75 6.25l-5.75 6.25zM588.59 1027.95l5.75 -6.25l5.75 6.25l-5.75 6.25zM589.09 1028.03l5.75 -6.25l5.75 6.25l-5.75 6.25zM589.59 1028.11l5.75 -6.25l5.75 6.25l-5.75 6.25zM590.09 1028.19l5.75 -6.25l5.75 6.25l-5.75 6.25zM590.59 1028.27l5.75 -6.25l5.75 6.25l-5.75 6.25zM591.09 1028.35l5.75 -6.25l5.75 6.25l-5.75 6.25zM591.59 1028.43l5.75 -6.25l5.75 6.25l-5.75 6.25zM592.09 1028.51l5.75 -6.25l5.75 6.25l-5.75 6.25zM592.59 1028.59l5.75 -6.25l5.75 6.25l-5.75 6.25zM593.09 1028.66l5.75 -6.25l5.75 6.25l-5.75 6.25zM593.59 1028.74l5.75 -6.25l5.75 6.25l-5.75 6.25zM594.09 1028.82l5.75 -6.25l5.75 6.25l-5.75 6.25zM594.59 1028.9l5.75 -6.25l5.75 6.25l-5.75 6.25zM595.09 1028.98l5.75 -6.25l5.75 6.25l-5.75 6.25zM595.59 1029.05l5.75 -6.25l5.75 6.25l-5.75 6.25zM596.09 1029.13l5.75 -6.25l5.75 6.25l-5.75 6.25zM596.59 1029.21l5.75 -6.25l5.75 6.25l-5.75 6.25zM597.09 1029.28l5.75 -6.25l5.75 6.25l-5.75 6.25zM597.59 1029.36l5.75 -6.25l5.75 6.25l-5.75 6.25zM598.09 1029.44l5.75 -6.25l5.75 6.25l-5.75 6.25zM598.59 1029.51l5.75 -6.25l5.75 6.25l-5.75 6.25zM599.09 1029.59l5.75 -6.25l5.75 6.25l-5.75 6.25zM599.59 1029.67l5.75 -6.25l5.75 6.25l-5.75 6.25zM600.09 1029.74l5.75 -6.25l5.75 6.25l-5.75 6.25zM600.59 1029.82l5.75 -6.25l5.75 6.25l-5.75 6.25zM601.09 1029.89l5.75 -6.25l5.75 6.25l-5.75 6.25zM601.59 1029.97l5.75 -6.25l5.75 6.25l-5.75 6.25zM602.09 1030.04l5.75 -6.25l5.75 6.25l-5.75 6.25zM602.59 1030.12l5.75 -6.25l5.75 6.25l-5.75 6.25zM603.09 1030.19l5.75 -6.25l5.75 6.25l-5.75 6.25zM603.59 1030.27l5.75 -6.25l5.75 6.25l-5.75 6.25zM604.09 1030.34l5.75 -6.25l5.75 6.25l-5.75 6.25zM604.59 1030.42l5.75 -6.25l5.75 6.25l-5.75 6.25zM605.09 1030.49l5.75 -6.25l5.75 6.25l-5.75 6.25zM605.59 1030.57l5.75 -6.25l5.75 6.25l-5.75 6.25zM606.09 1030.64l5.75 -6.25l5.75 6.25l-5.75 6.25zM606.59 1030.71l5.75 -6.25l5.75 6.25l-5.75 6.25zM607.09 1030.79l5.75 -6.25l5.75 6.25l-5.75 6.25zM607.59 1030.86l5.75 -6.25l5.75 6.25l-5.75 6.25zM608.09 1030.93l5.75 -6.25l5.75 6.25l-5.75 6.25zM608.59 1031.01l5.75 -6.25l5.75 6.25l-5.75 6.25zM609.09 1031.08l5.75 -6.25l5.75 6.25l-5.75 6.25zM609.59 1031.15l5.75 -6.25l5.75 6.25l-5.75 6.25zM610.09 1031.22l5.75 -6.25l5.75 6.25l-5.75 6.25zM610.59 1031.29l5.75 -6.25l5.75 6.25l-5.75 6.25zM611.09 1031.37l5.75 -6.25l5.75 6.25l-5.75 6.25zM611.59 1031.44l5.75 -6.25l5.75 6.25l-5.75 6.25zM612.09 1031.51l5.75 -6.25l5.75 6.25l-5.75 6.25zM612.59 1031.58l5.75 -6.25l5.75 6.25l-5.75 6.25zM613.09 1031.65l5.75 -6.25l5.75 6.25l-5.75 6.25zM613.59 1031.72l5.75 -6.25l5.75 6.25l-5.75 6.25zM614.09 1031.8l5.75 -6.25l5.75 6.25l-5.75 6.25zM614.59 1031.87l5.75 -6.25l5.75 6.25l-5.75 6.25zM615.09 1031.94l5.75 -6.25l5.75 6.25l-5.75 6.25zM615.59 1032.01l5.75 -6.25l5.75 6.25l-5.75 6.25zM616.09 1032.08l5.75 -6.25l5.75 6.25l-5.75 6.25zM616.59 1032.15l5.75 -6.25l5.75 6.25l-5.75 6.25zM617.09 1032.22l5.75 -6.25l5.75 6.25l-5.75 6.25zM617.59 1032.29l5.75 -6.25l5.75 6.25l-5.75 6.25zM618.09 1032.36l5.75 -6.25l5.75 6.25l-5.75 6.25zM618.59 1032.43l5.75 -6.25l5.75 6.25l-5.75 6.25zM619.09 1032.5l5.75 -6.25l5.75 6.25l-5.75 6.25zM619.59 1032.57l5.75 -6.25l5.75 6.25l-5.75 6.25zM620.09 1032.64l5.75 -6.25l5.75 6.25l-5.75 6.25zM620.59 1032.7l5.75 -6.25l5.75 6.25l-5.75 6.25zM621.09 1032.77l5.75 -6.25l5.75 6.25l-5.75 6.25zM621.59 1032.84l5.75 -6.25l5.75 6.25l-5.75 6.25zM622.09 1032.91l5.75 -6.25l5.75 6.25l-5.75 6.25zM622.59 1032.98l5.75 -6.25l5.75 6.25l-5.75 6.25zM623.09 1033.05l5.75 -6.25l5.75 6.25l-5.75 6.25zM623.59 1033.12l5.75 -6.25l5.75 6.25l-5.75 6.25zM624.09 1033.18l5.75 -6.25l5.75 6.25l-5.75 6.25zM624.59 1033.25l5.75 -6.25l5.75 6.25l-5.75 6.25zM625.09 1033.32l5.75 -6.25l5.75 6.25l-5.75 6.25zM625.59 1033.39l5.75 -6.25l5.75 6.25l-5.75 6.25zM626.09 1033.45l5.75 -6.25l5.75 6.25l-5.75 6.25zM626.59 1033.52l5.75 -6.25l5.75 6.25l-5.75 6.25zM627.09 1033.59l5.75 -6.25l5.75 6.25l-5.75 6.25zM627.59 1033.65l5.75 -6.25l5.75 6.25l-5.75 6.25zM628.09 1033.72l5.75 -6.25l5.75 6.25l-5.75 6.25zM628.59 1033.79l5.75 -6.25l5.75 6.25l-5.75 6.25zM629.09 1033.85l5.75 -6.25l5.75 6.25l-5.75 6.25zM629.59 1033.92l5.75 -6.25l5.75 6.25l-5.75 6.25zM630.09 1033.99l5.75 -6.25l5.75 6.25l-5.75 6.25zM630.59 1034.05l5.75 -6.25l5.75 6.25l-5.75 6.25zM631.09 1034.12l5.75 -6.25l5.75 6.25l-5.75 6.25zM631.59 1034.18l5.75 -6.25l5.75 6.25l-5.75 6.25zM632.09 1034.25l5.75 -6.25l5.75 6.25l-5.75 6.25zM632.59 1034.31l5.75 -6.25l5.75 6.25l-5.75 6.25zM633.09 1034.38l5.75 -6.25l5.75 6.25l-5.75 6.25zM633.59 1034.44l5.75 -6.25l5.75 6.25l-5.75 6.25zM634.09 1034.51l5.75 -6.25l5.75 6.25l-5.75 6.25zM634.59 1034.57l5.75 -6.25l5.75 6.25l-5.75 6.25zM635.09 1034.64l5.75 -6.25l5.75 6.25l-5.75 6.25zM635.59 1034.7l5.75 -6.25l5.75 6.25l-5.75 6.25zM636.09 1034.77l5.75 -6.25l5.75 6.25l-5.75 6.25zM636.59 1034.83l5.75 -6.25l5.75 6.25l-5.75 6.25zM637.09 1034.9l5.75 -6.25l5.75 6.25l-5.75 6.25zM637.59 1034.96l5.75 -6.25l5.75 6.25l-5.75 6.25zM638.09 1035.02l5.75 -6.25l5.75 6.25l-5.75 6.25zM638.59 1035.09l5.75 -6.25l5.75 6.25l-5.75 6.25zM639.09 1035.15l5.75 -6.25l5.75 6.25l-5.75 6.25zM639.59 1035.22l5.75 -6.25l5.75 6.25l-5.75 6.25zM640.09 1035.28l5.75 -6.25l5.75 6.25l-5.75 6.25zM640.59 1035.34l5.75 -6.25l5.75 6.25l-5.75 6.25zM641.09 1035.41l5.75 -6.25l5.75 6.25l-5.75 6.25zM641.59 1035.47l5.75 -6.25l5.75 6.25l-5.75 6.25zM642.09 1035.53l5.75 -6.25l5.75 6.25l-5.75 6.25zM642.59 1035.59l5.75 -6.25l5.75 6.25l-5.75 6.25zM643.09 1035.66l5.75 -6.25l5.75 6.25l-5.75 6.25zM643.59 1035.72l5.75 -6.25l5.75 6.25l-5.75 6.25zM644.09 1035.78l5.75 -6.25l5.75 6.25l-5.75 6.25zM644.59 1035.84l5.75 -6.25l5.75 6.25l-5.75 6.25zM645.09 1035.91l5.75 -6.25l5.75 6.25l-5.75 6.25zM645.59 1035.97l5.75 -6.25l5.75 6.25l-5.75 6.25zM646.09 1036.03l5.75 -6.25l5.75 6.25l-5.75 6.25zM646.59 1036.09l5.75 -6.25l5.75 6.25l-5.75 6.25zM647.09 1036.15l5.75 -6.25l5.75 6.25l-5.75 6.25zM647.59 1036.21l5.75 -6.25l5.75 6.25l-5.75 6.25zM648.09 1036.28l5.75 -6.25l5.75 6.25l-5.75 6.25zM648.59 1036.34l5.75 -6.25l5.75 6.25l-5.75 6.25zM649.09 1036.4l5.75 -6.25l5.75 6.25l-5.75 6.25zM649.59 1036.46l5.75 -6.25l5.75 6.25l-5.75 6.25zM650.09 1036.52l5.75 -6.25l5.75 6.25l-5.75 6.25zM650.59 1036.58l5.75 -6.25l5.75 6.25l-5.75 6.25zM651.09 1036.64l5.75 -6.25l5.75 6.25l-5.75 6.25zM651.59 1036.7l5.75 -6.25l5.75 6.25l-5.75 6.25zM652.09 1036.76l5.75 -6.25l5.75 6.25l-5.75 6.25zM652.59 1036.82l5.75 -6.25l5.75 6.25l-5.75 6.25zM653.09 1036.88l5.75 -6.25l5.75 6.25l-5.75 6.25zM653.59 1036.94l5.75 -6.25l5.75 6.25l-5.75 6.25zM654.09 1037l5.75 -6.25l5.75 6.25l-5.75 6.25zM654.59 1037.06l5.75 -6.25l5.75 6.25l-5.75 6.25zM655.09 1037.12l5.75 -6.25l5.75 6.25l-5.75 6.25zM655.59 1037.18l5.75 -6.25l5.75 6.25l-5.75 6.25zM656.09 1037.24l5.75 -6.25l5.75 6.25l-5.75 6.25zM656.59 1037.3l5.75 -6.25l5.75 6.25l-5.75 6.25zM657.09 1037.36l5.75 -6.25l5.75 6.25l-5.75 6.25zM657.59 1037.42l5.75 -6.25l5.75 6.25l-5.75 6.25zM658.09 1037.48l5.75 -6.25l5.75 6.25l-5.75 6.25zM658.59 1037.54l5.75 -6.25l5.75 6.25l-5.75 6.25zM659.09 1037.59l5.75 -6.25l5.75 6.25l-5.75 6.25zM659.59 1037.65l5.75 -6.25l5.75 6.25l-5.75 6.25zM660.09 1037.71l5.75 -6.25l5.75 6.25l-5.75 6.25zM660.59 1037.77l5.75 -6.25l5.75 6.25l-5.75 6.25zM661.09 1037.83l5.75 -6.25l5.75 6.25l-5.75 6.25zM661.59 1037.89l5.75 -6.25l5.75 6.25l-5.75 6.25zM662.09 1037.95l5.75 -6.25l5.75 6.25l-5.75 6.25zM662.59 1038l5.75 -6.25l5.75 6.25l-5.75 6.25zM663.09 1038.06l5.75 -6.25l5.75 6.25l-5.75 6.25zM663.59 1038.12l5.75 -6.25l5.75 6.25l-5.75 6.25zM664.09 1038.18l5.75 -6.25l5.75 6.25l-5.75 6.25zM664.59 1038.23l5.75 -6.25l5.75 6.25l-5.75 6.25zM665.09 1038.29l5.75 -6.25l5.75 6.25l-5.75 6.25zM665.59 1038.35l5.75 -6.25l5.75 6.25l-5.75 6.25zM666.09 1038.41l5.75 -6.25l5.75 6.25l-5.75 6.25zM666.59 1038.46l5.75 -6.25l5.75 6.25l-5.75 6.25zM667.09 1038.52l5.75 -6.25l5.75 6.25l-5.75 6.25zM667.59 1038.58l5.75 -6.25l5.75 6.25l-5.75 6.25zM668.09 1038.64l5.75 -6.25l5.75 6.25l-5.75 6.25zM668.59 1038.69l5.75 -6.25l5.75 6.25l-5.75 6.25zM669.09 1038.75l5.75 -6.25l5.75 6.25l-5.75 6.25zM669.59 1038.81l5.75 -6.25l5.75 6.25l-5.75 6.25zM670.09 1038.86l5.75 -6.25l5.75 6.25l-5.75 6.25zM670.59 1038.92l5.75 -6.25l5.75 6.25l-5.75 6.25zM671.09 1038.98l5.75 -6.25l5.75 6.25l-5.75 6.25zM671.59 1039.03l5.75 -6.25l5.75 6.25l-5.75 6.25zM672.09 1039.09l5.75 -6.25l5.75 6.25l-5.75 6.25zM672.59 1039.14l5.75 -6.25l5.75 6.25l-5.75 6.25zM673.09 1039.2l5.75 -6.25l5.75 6.25l-5.75 6.25zM673.59 1039.26l5.75 -6.25l5.75 6.25l-5.75 6.25zM674.09 1039.31l5.75 -6.25l5.75 6.25l-5.75 6.25zM674.59 1039.37l5.75 -6.25l5.75 6.25l-5.75 6.25zM675.09 1039.42l5.75 -6.25l5.75 6.25l-5.75 6.25zM675.59 1039.48l5.75 -6.25l5.75 6.25l-5.75 6.25zM676.09 1039.53l5.75 -6.25l5.75 6.25l-5.75 6.25zM676.59 1039.59l5.75 -6.25l5.75 6.25l-5.75 6.25zM677.09 1039.64l5.75 -6.25l5.75 6.25l-5.75 6.25zM677.59 1039.7l5.75 -6.25l5.75 6.25l-5.75 6.25zM678.09 1039.75l5.75 -6.25l5.75 6.25l-5.75 6.25zM678.59 1039.81l5.75 -6.25l5.75 6.25l-5.75 6.25zM679.09 1039.86l5.75 -6.25l5.75 6.25l-5.75 6.25zM679.59 1039.92l5.75 -6.25l5.75 6.25l-5.75 6.25zM680.09 1039.97l5.75 -6.25l5.75 6.25l-5.75 6.25zM680.59 1040.03l5.75 -6.25l5.75 6.25l-5.75 6.25zM681.09 1040.08l5.75 -6.25l5.75 6.25l-5.75 6.25zM681.59 1040.14l5.75 -6.25l5.75 6.25l-5.75 6.25zM682.09 1040.19l5.75 -6.25l5.75 6.25l-5.75 6.25zM682.59 1040.25l5.75 -6.25l5.75 6.25l-5.75 6.25zM683.09 1040.3l5.75 -6.25l5.75 6.25l-5.75 6.25zM683.59 1040.36l5.75 -6.25l5.75 6.25l-5.75 6.25zM684.09 1040.41l5.75 -6.25l5.75 6.25l-5.75 6.25zM684.59 1040.46l5.75 -6.25l5.75 6.25l-5.75 6.25zM685.09 1040.52l5.75 -6.25l5.75 6.25l-5.75 6.25zM685.59 1040.57l5.75 -6.25l5.75 6.25l-5.75 6.25zM686.09 1040.63l5.75 -6.25l5.75 6.25l-5.75 6.25zM686.59 1040.68l5.75 -6.25l5.75 6.25l-5.75 6.25zM687.09 1040.73l5.75 -6.25l5.75 6.25l-5.75 6.25zM687.59 1040.79l5.75 -6.25l5.75 6.25l-5.75 6.25zM688.09 1040.84l5.75 -6.25l5.75 6.25l-5.75 6.25zM688.59 1040.89l5.75 -6.25l5.75 6.25l-5.75 6.25zM689.09 1040.95l5.75 -6.25l5.75 6.25l-5.75 6.25zM689.59 1041l5.75 -6.25l5.75 6.25l-5.75 6.25zM690.09 1041.05l5.75 -6.25l5.75 6.25l-5.75 6.25zM690.59 1041.11l5.75 -6.25l5.75 6.25l-5.75 6.25zM691.09 1041.16l5.75 -6.25l5.75 6.25l-5.75 6.25z" fill="none" stroke="#8a0505" stroke-width="1.25"/>
</g>
<path d="M169.8 259.4L313 259.4" stroke="#ff8a0e" stroke-width="2.8" stroke-dasharray="13.5 4 4.5 4" stroke-dashoffset="0" fill="none"/>
<path d="M162.4 463.1L197.1 463.1" stroke="#ff8a0e" stroke-width="2.8" stroke-dasharray="13.5 4 4.5 4" stroke-dashoffset="0" fill="none"/>
<path d="M196.4 442.6L196.4 475.5" stroke="#ff8a0e" stroke-width="2.8" stroke-dasharray="13.5 4 4.5 4" stroke-dashoffset="0" fill="none"/>
<path d="M945.3 262.2L1147 262.2" stroke="#0d880d" stroke-width="2.5" stroke-dasharray="13.5 4 4.5 4" stroke-dashoffset="0" fill="none"/>
<path d="M930 429.5L978.4 429.5" stroke="#0d880d" stroke-width="2.5" stroke-dasharray="13.5 4 4.5 4" stroke-dashoffset="0" fill="none"/>
<path d="M981.3 407.6L981.3 441.8" stroke="#0d880d" stroke-width="2.5" stroke-dasharray="13.5 4 4.5 4" stroke-dashoffset="0" fill="none"/>
<path d="M176.9 879L288 879" stroke="#8a0505" stroke-width="2.5" stroke-dasharray="13.5 4 4.5 4" stroke-dashoffset="1.5" fill="none"/>
<path d="M169.6 1074.9L216.1 1074.9" stroke="#8a0505" stroke-width="2.5" stroke-dasharray="13.5 4 4.5 4" stroke-dashoffset="0" fill="none"/>
<path d="M216.5 1062.1L216.5 1084" stroke="#8a0505" stroke-width="2.5" stroke-dasharray="13.5 4 4.5 4" stroke-dashoffset="0" fill="none"/>
<text x="233" y="82" font-size="40" text-anchor="start" >P</text>
<text x="255.1" y="95.6" font-size="23.5" text-anchor="start" >max</text>
<text x="296.8" y="82" font-size="39.5" text-anchor="start" >: 2.47 MPa</text>
<text x="998.3" y="66.7" font-size="40" text-anchor="start" >P</text>
<text x="1019.9" y="80.5" font-size="23.5" text-anchor="start" >max</text>
<text x="1061.5" y="66.7" font-size="39.5" text-anchor="start" >: 1.75 MPa</text>
<text x="230.6" y="677.8" font-size="40" text-anchor="start" >P</text>
<text x="252.5" y="691.7" font-size="23.5" text-anchor="start" >max</text>
<text x="294.1" y="677.8" font-size="39.5" text-anchor="start" >: 3.92 MPa</text>
<text x="340.05" y="260.5" font-size="39.7" text-anchor="start" >FWHM: 0.840 s</text>
<text x="1169.15" y="244.6" font-size="39.7" text-anchor="start" >FWHM: 1.177 s</text>
<text x="314.75" y="875.6" font-size="39.7" text-anchor="start" >FWHM: 0.646 s</text>
<text x="178.6" y="409.8" font-size="40" text-anchor="start" font-style="italic" >t</text>
<text x="188.9" y="423.4" font-size="23.5" text-anchor="start" >rise</text>
<text x="222.3" y="409.8" font-size="40" text-anchor="start" >: 0.197 s</text>
<text x="954.9" y="376.5" font-size="40" text-anchor="start" font-style="italic" >t</text>
<text x="964.9" y="390.1" font-size="23.5" text-anchor="start" >rise</text>
<text x="998.3" y="376.5" font-size="40" text-anchor="start" >: 0.265 s</text>
<text x="176.1" y="1043.3" font-size="40" text-anchor="start" font-style="italic" font-weight="bold" >t</text>
<text x="184.8" y="1057.6" font-size="23.5" text-anchor="start" font-family='"Liberation Sans", sans-serif' >rise</text>
<text x="223.4" y="1043.3" font-size="40" text-anchor="start" >: 0.334 s</text>
<text x="640.7" y="64.5" font-size="40" text-anchor="start" >(a)</text>
<text x="1409.6" y="64.3" font-size="40" text-anchor="start" >(b)</text>
<text x="639.6" y="674.2" font-size="40" text-anchor="start" >(c)</text>
<text x="948.8" y="674.2" font-size="40" text-anchor="start" >(d)</text>
<text x="332.02" y="591.1" font-size="43.3" text-anchor="start" >Time(s)</text>
<text x="1128.52" y="588.8" font-size="43.3" text-anchor="start" >Time (s)</text>
<text x="361.42" y="1199.3" font-size="43.3" text-anchor="start" >Time(s)</text>
<text transform="translate(45.6 256.2) rotate(-90)" font-size="43.3" text-anchor="middle">Pressure(MPa)</text>
<text transform="translate(804.6 248.6) rotate(-90)" font-size="43.3" text-anchor="middle">Pressure (MPa)</text>
<text transform="translate(34.8 874.9) rotate(-90)" font-size="42.6" text-anchor="middle">Pressure(MPa)</text>
<text transform="translate(834 848.6) rotate(-90)" font-size="43.3" text-anchor="middle"><tspan font-style="italic">dP/dt</tspan> (MPa/s)</text>
<text x="1148.9" y="1191.4" font-size="44"><tspan font-style="italic">P/P</tspan><tspan font-size="23">max</tspan></text>
<path d="M992.13 911.1L1033.26 832.62M1047.93 808.85L1085.72 756.21M1107.55 747.88L1134.36 753.85M1154.16 769.48L1196.01 855.34M1209.89 879.59L1248.54 937.89M1264.28 938.07L1302.41 883.29M1321.93 879.76L1353.02 901.22M1373.02 920.31L1410.19 969.11" stroke="#7d0000" stroke-width="2.4" fill="none"/>
<path d="M992.48 815.98L1032.91 743.91M1050.12 722.28L1083.53 691.9M1107.7 680.2L1134.21 675.83M1160.25 680.36L1189.92 696.89M1210.71 714.77L1247.72 762.62M1263.67 785.59L1303.02 848.93M1317.34 872.99L1357.61 943.74M1372.71 967.28L1410.5 1019.92" stroke="#ff8a0e" stroke-width="2.4" fill="none"/>
<path d="M998.89 1012.63L1026.5 1021.96M1053.76 1026.64L1079.89 1027.01M1107.89 1027.48L1134.02 1028M1162.02 1028L1188.15 1027.48M1215.94 1029.59L1242.49 1034.18M1270.02 1039.28L1296.67 1044.53M1324.28 1045.33L1350.67 1041.7M1377.62 1044.8L1405.59 1055.48" stroke="#0d880d" stroke-width="2.4" fill="none"/>
<rect x="977.13" y="915" width="17" height="17" fill="#fff" stroke="#7d0000" stroke-width="2"/>
<rect x="977.13" y="915" width="17" height="9.35" fill="#7d0000"/>
<rect x="1031.26" y="811.72" width="17" height="17" fill="#fff" stroke="#7d0000" stroke-width="2"/>
<rect x="1031.26" y="811.72" width="17" height="9.35" fill="#7d0000"/>
<rect x="1085.39" y="736.34" width="17" height="17" fill="#fff" stroke="#7d0000" stroke-width="2"/>
<rect x="1085.39" y="736.34" width="17" height="9.35" fill="#7d0000"/>
<rect x="1139.52" y="748.4" width="17" height="17" fill="#fff" stroke="#7d0000" stroke-width="2"/>
<rect x="1139.52" y="748.4" width="17" height="9.35" fill="#7d0000"/>
<rect x="1193.65" y="859.43" width="17" height="17" fill="#fff" stroke="#7d0000" stroke-width="2"/>
<rect x="1193.65" y="859.43" width="17" height="9.35" fill="#7d0000"/>
<rect x="1247.78" y="941.06" width="17" height="17" fill="#fff" stroke="#7d0000" stroke-width="2"/>
<rect x="1247.78" y="941.06" width="17" height="9.35" fill="#7d0000"/>
<rect x="1301.91" y="863.3" width="17" height="17" fill="#fff" stroke="#7d0000" stroke-width="2"/>
<rect x="1301.91" y="863.3" width="17" height="9.35" fill="#7d0000"/>
<rect x="1356.04" y="900.67" width="17" height="17" fill="#fff" stroke="#7d0000" stroke-width="2"/>
<rect x="1356.04" y="900.67" width="17" height="9.35" fill="#7d0000"/>
<rect x="1410.17" y="971.75" width="17" height="17" fill="#fff" stroke="#7d0000" stroke-width="2"/>
<rect x="1410.17" y="971.75" width="17" height="9.35" fill="#7d0000"/>
<circle cx="985.63" cy="828.19" r="9.2" fill="#fff" stroke="#ff8a0e" stroke-width="2"/>
<path d="M976.43 829.19A9.2 9.2 0 0 1 994.83 829.19z" fill="#ff8a0e"/>
<circle cx="1039.76" cy="731.7" r="9.2" fill="#fff" stroke="#ff8a0e" stroke-width="2"/>
<path d="M1030.56 732.7A9.2 9.2 0 0 1 1048.96 732.7z" fill="#ff8a0e"/>
<circle cx="1093.89" cy="682.48" r="9.2" fill="#fff" stroke="#ff8a0e" stroke-width="2"/>
<path d="M1084.69 683.48A9.2 9.2 0 0 1 1103.09 683.48z" fill="#ff8a0e"/>
<circle cx="1148.02" cy="673.55" r="9.2" fill="#fff" stroke="#ff8a0e" stroke-width="2"/>
<path d="M1138.82 674.55A9.2 9.2 0 0 1 1157.22 674.55z" fill="#ff8a0e"/>
<circle cx="1202.15" cy="703.7" r="9.2" fill="#fff" stroke="#ff8a0e" stroke-width="2"/>
<path d="M1192.95 704.7A9.2 9.2 0 0 1 1211.35 704.7z" fill="#ff8a0e"/>
<circle cx="1256.28" cy="773.7" r="9.2" fill="#fff" stroke="#ff8a0e" stroke-width="2"/>
<path d="M1247.08 774.7A9.2 9.2 0 0 1 1265.48 774.7z" fill="#ff8a0e"/>
<circle cx="1310.41" cy="860.82" r="9.2" fill="#fff" stroke="#ff8a0e" stroke-width="2"/>
<path d="M1301.21 861.82A9.2 9.2 0 0 1 1319.61 861.82z" fill="#ff8a0e"/>
<circle cx="1364.54" cy="955.91" r="9.2" fill="#fff" stroke="#ff8a0e" stroke-width="2"/>
<path d="M1355.34 956.91A9.2 9.2 0 0 1 1373.74 956.91z" fill="#ff8a0e"/>
<circle cx="1418.67" cy="1031.29" r="9.2" fill="#fff" stroke="#ff8a0e" stroke-width="2"/>
<path d="M1409.47 1032.29A9.2 9.2 0 0 1 1427.87 1032.29z" fill="#ff8a0e"/>
<path d="M985.63 995.47L996.38 1014.47L974.88 1014.47z" fill="#fff" stroke="#0d880d" stroke-width="2.1" stroke-linejoin="miter"/>
<path d="M985.63 995.47L992.73 1008.01L978.53 1008.01z" fill="#0d880d"/>
<path d="M1039.76 1013.78L1050.51 1032.78L1029.01 1032.78z" fill="#fff" stroke="#0d880d" stroke-width="2.1" stroke-linejoin="miter"/>
<path d="M1039.76 1013.78L1046.86 1026.32L1032.66 1026.32z" fill="#0d880d"/>
<path d="M1093.89 1014.53L1104.64 1033.53L1083.14 1033.53z" fill="#fff" stroke="#0d880d" stroke-width="2.1" stroke-linejoin="miter"/>
<path d="M1093.89 1014.53L1100.99 1027.07L1086.8 1027.07z" fill="#0d880d"/>
<path d="M1148.02 1015.61L1158.77 1034.61L1137.27 1034.61z" fill="#fff" stroke="#0d880d" stroke-width="2.1" stroke-linejoin="miter"/>
<path d="M1148.02 1015.61L1155.12 1028.15L1140.92 1028.15z" fill="#0d880d"/>
<path d="M1202.15 1014.53L1212.9 1033.53L1191.4 1033.53z" fill="#fff" stroke="#0d880d" stroke-width="2.1" stroke-linejoin="miter"/>
<path d="M1202.15 1014.53L1209.25 1027.07L1195.06 1027.07z" fill="#0d880d"/>
<path d="M1256.28 1023.9L1267.03 1042.9L1245.53 1042.9z" fill="#fff" stroke="#0d880d" stroke-width="2.1" stroke-linejoin="miter"/>
<path d="M1256.28 1023.9L1263.38 1036.44L1249.18 1036.44z" fill="#0d880d"/>
<path d="M1310.41 1034.56L1321.16 1053.56L1299.66 1053.56z" fill="#fff" stroke="#0d880d" stroke-width="2.1" stroke-linejoin="miter"/>
<path d="M1310.41 1034.56L1317.51 1047.1L1303.32 1047.1z" fill="#0d880d"/>
<path d="M1364.54 1027.13L1375.29 1046.13L1353.79 1046.13z" fill="#fff" stroke="#0d880d" stroke-width="2.1" stroke-linejoin="miter"/>
<path d="M1364.54 1027.13L1371.63 1039.67L1357.44 1039.67z" fill="#0d880d"/>
<path d="M1418.67 1047.81L1429.42 1066.81L1407.92 1066.81z" fill="#fff" stroke="#0d880d" stroke-width="2.1" stroke-linejoin="miter"/>
<path d="M1418.67 1047.81L1425.77 1060.35L1411.58 1060.35z" fill="#0d880d"/>
<path d="M1280.5 663.7H1313.3M1336.8 663.7H1370.7" stroke="#7d0000" stroke-width="2.4"/>
<rect x="1316.6" y="654.5" width="17" height="17" fill="#fff" stroke="#7d0000" stroke-width="2"/>
<rect x="1316.6" y="654.5" width="17" height="9.35" fill="#7d0000"/>
<text x="1379.3" y="676.6" font-size="40" text-anchor="start" >GAP</text>
<path d="M1280.5 712.1H1313.3M1336.8 712.1H1370.7" stroke="#ff8a0e" stroke-width="2.4"/>
<circle cx="1325.1" cy="712.1" r="9.2" fill="#fff" stroke="#ff8a0e" stroke-width="2"/>
<path d="M1315.9 713.1A9.2 9.2 0 0 1 1334.3 713.1z" fill="#ff8a0e"/>
<text x="1379.3" y="724.7" font-size="40" text-anchor="start" >ALG</text>
<path d="M1280.5 761.6H1313.3M1336.8 761.6H1370.7" stroke="#0d880d" stroke-width="2.4"/>
<path d="M1325.6 748.93L1336.35 767.93L1314.85 767.93z" fill="#fff" stroke="#0d880d" stroke-width="2.1" stroke-linejoin="miter"/>
<path d="M1325.6 748.93L1332.69 761.47L1318.5 761.47z" fill="#0d880d"/>
<text x="1379.3" y="773.8" font-size="40" text-anchor="start" >nAl</text>
</svg>
</body></html>
